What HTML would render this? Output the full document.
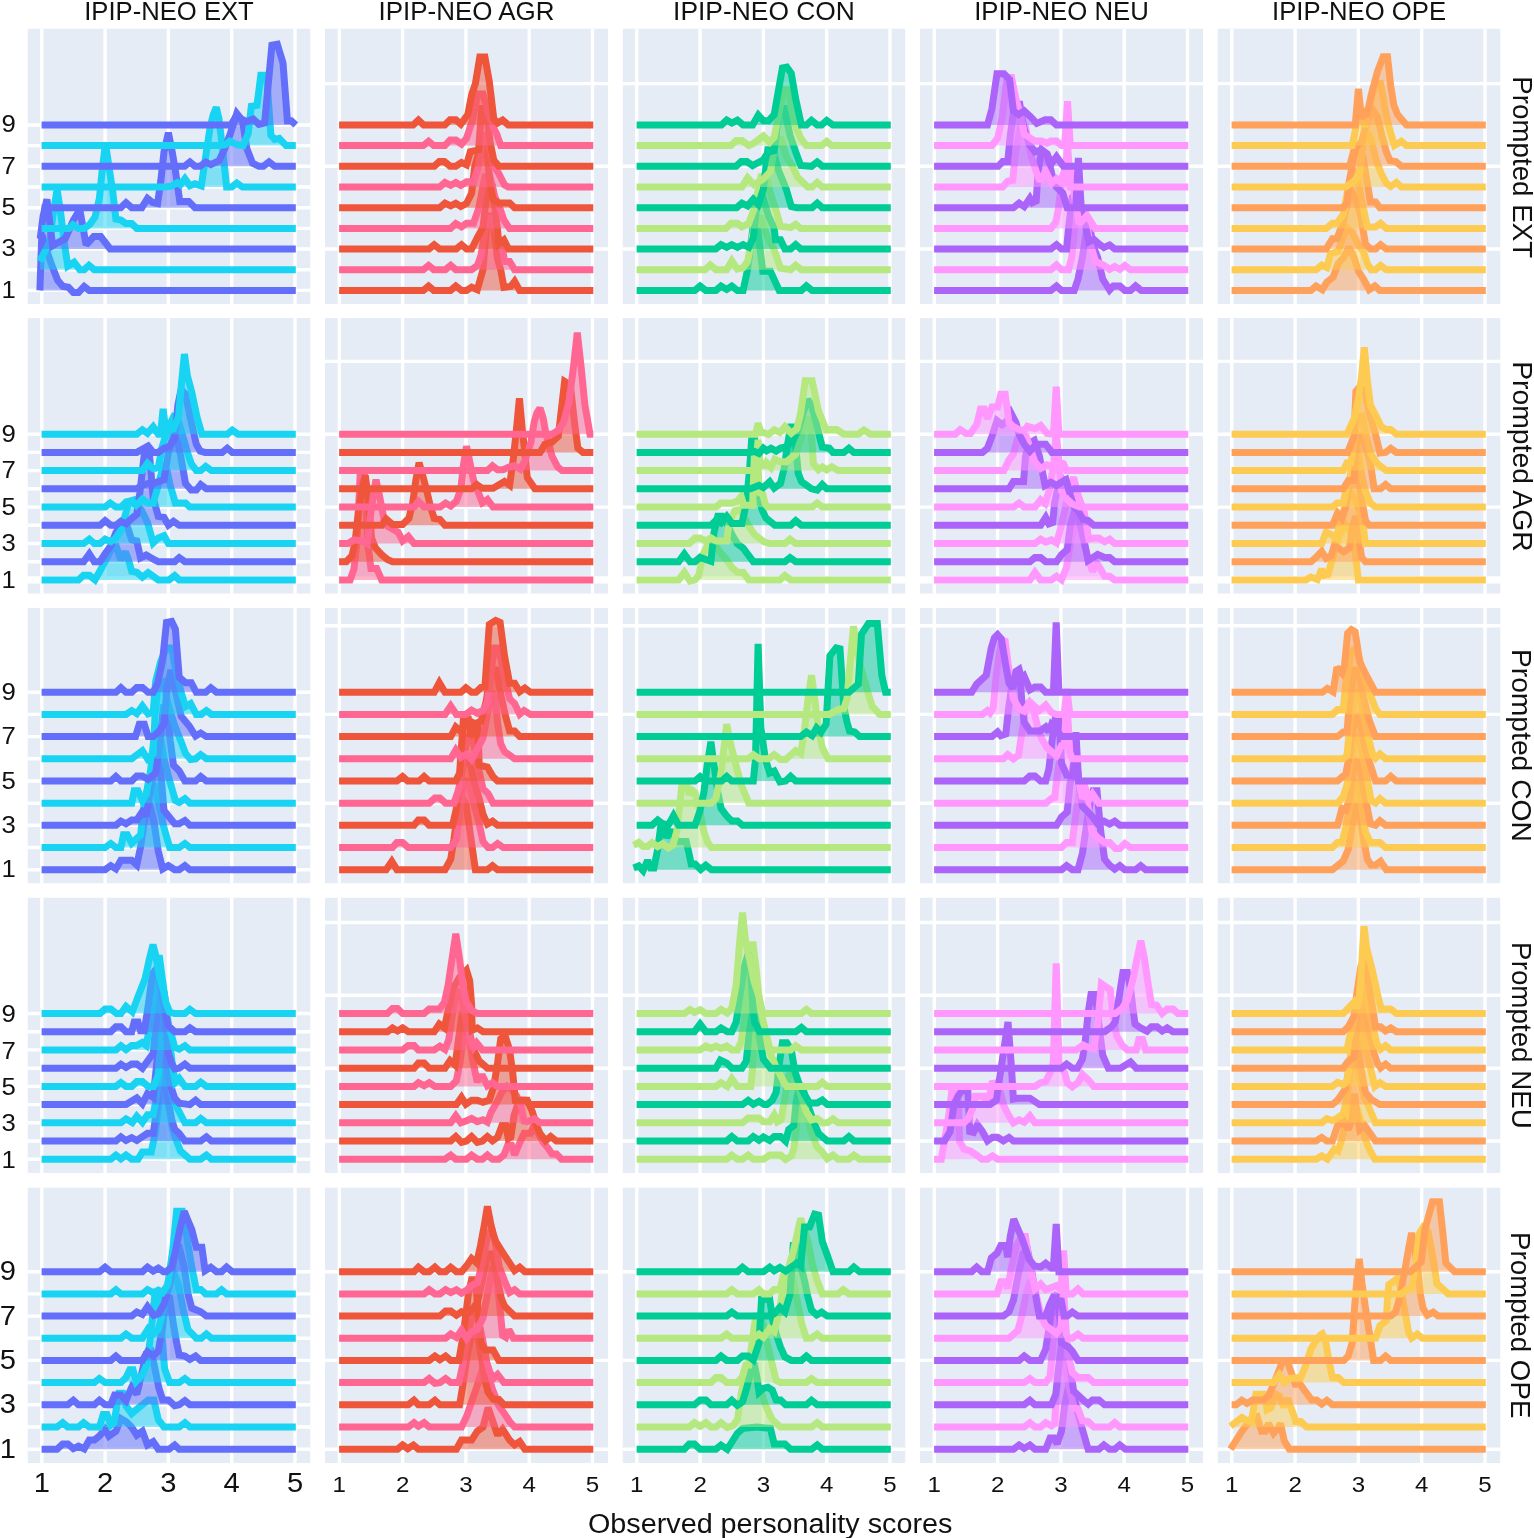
<!DOCTYPE html>
<html lang="en"><head><meta charset="utf-8"><title>Observed personality scores</title>
<style>html,body{margin:0;padding:0;background:#fff}body{width:1534px;height:1538px;overflow:hidden}</style></head>
<body>
<svg width="1534" height="1538" viewBox="0 0 1534 1538" style="display:block">
<rect width="1534" height="1538" fill="#fff"/>
<defs>
<clipPath id="cp00"><rect x="27.5" y="28.4" width="283.0" height="275.6"/></clipPath>
<clipPath id="cp01"><rect x="325.0" y="28.4" width="283.0" height="275.6"/></clipPath>
<clipPath id="cp02"><rect x="622.5" y="28.4" width="283.0" height="275.6"/></clipPath>
<clipPath id="cp03"><rect x="920.0" y="28.4" width="283.0" height="275.6"/></clipPath>
<clipPath id="cp04"><rect x="1217.5" y="28.4" width="283.0" height="275.6"/></clipPath>
<clipPath id="cp10"><rect x="27.5" y="318.1" width="283.0" height="275.6"/></clipPath>
<clipPath id="cp11"><rect x="325.0" y="318.1" width="283.0" height="275.6"/></clipPath>
<clipPath id="cp12"><rect x="622.5" y="318.1" width="283.0" height="275.6"/></clipPath>
<clipPath id="cp13"><rect x="920.0" y="318.1" width="283.0" height="275.6"/></clipPath>
<clipPath id="cp14"><rect x="1217.5" y="318.1" width="283.0" height="275.6"/></clipPath>
<clipPath id="cp20"><rect x="27.5" y="607.9" width="283.0" height="275.6"/></clipPath>
<clipPath id="cp21"><rect x="325.0" y="607.9" width="283.0" height="275.6"/></clipPath>
<clipPath id="cp22"><rect x="622.5" y="607.9" width="283.0" height="275.6"/></clipPath>
<clipPath id="cp23"><rect x="920.0" y="607.9" width="283.0" height="275.6"/></clipPath>
<clipPath id="cp24"><rect x="1217.5" y="607.9" width="283.0" height="275.6"/></clipPath>
<clipPath id="cp30"><rect x="27.5" y="897.6" width="283.0" height="275.6"/></clipPath>
<clipPath id="cp31"><rect x="325.0" y="897.6" width="283.0" height="275.6"/></clipPath>
<clipPath id="cp32"><rect x="622.5" y="897.6" width="283.0" height="275.6"/></clipPath>
<clipPath id="cp33"><rect x="920.0" y="897.6" width="283.0" height="275.6"/></clipPath>
<clipPath id="cp34"><rect x="1217.5" y="897.6" width="283.0" height="275.6"/></clipPath>
<clipPath id="cp40"><rect x="27.5" y="1187.4" width="283.0" height="275.6"/></clipPath>
<clipPath id="cp41"><rect x="325.0" y="1187.4" width="283.0" height="275.6"/></clipPath>
<clipPath id="cp42"><rect x="622.5" y="1187.4" width="283.0" height="275.6"/></clipPath>
<clipPath id="cp43"><rect x="920.0" y="1187.4" width="283.0" height="275.6"/></clipPath>
<clipPath id="cp44"><rect x="1217.5" y="1187.4" width="283.0" height="275.6"/></clipPath>
</defs>
<g clip-path="url(#cp00)">
<rect x="27.5" y="28.4" width="283.0" height="275.6" fill="#E5ECF6"/>
<path d="M41.8 28.4V304.0M105.1 28.4V304.0M168.4 28.4V304.0M231.7 28.4V304.0M295.0 28.4V304.0" stroke="#fff" stroke-width="3.4" fill="none"/>
<path d="M27.5 290.4H310.5M27.5 269.7H310.5M27.5 249.0H310.5M27.5 228.4H310.5M27.5 207.7H310.5M27.5 187.0H310.5M27.5 166.3H310.5M27.5 145.6H310.5M27.5 125.0H310.5" stroke="#fff" stroke-width="3.4" fill="none"/>
<path d="M39.9 290.4L41.8 234.6L46.9 251.1L51.9 265.6L57.6 280.1L62.7 286.3L68.4 287.3L73.4 292.5L78.5 292.5L84.2 286.4L89.3 290.4L295.8 290.4L295.8 290.4L39.9 290.4Z" fill="#636EFA" fill-opacity="0.5"/>
<path d="M39.9 290.4L41.8 234.6L46.9 251.1L51.9 265.6L57.6 280.1L62.7 286.3L68.4 287.3L73.4 292.5L78.5 292.5L84.2 286.4L89.3 290.4L295.8 290.4" fill="none" stroke="#636EFA" stroke-width="7.0" stroke-linejoin="miter" stroke-miterlimit="2.2"/>
<path d="M39.9 261.4L45.0 251.1L49.4 242.8L53.2 213.9L57.1 189.1L60.8 213.9L64.6 244.9L67.8 266.2L74.1 262.2L79.8 269.7L84.2 269.7L89.0 265.4L94.3 269.7L295.8 269.7L295.8 269.7L39.9 269.7Z" fill="#19D3F3" fill-opacity="0.5"/>
<path d="M39.9 261.4L45.0 251.1L49.4 242.8L53.2 213.9L57.1 189.1L60.8 213.9L64.6 244.9L67.8 266.2L74.1 262.2L79.8 269.7L84.2 269.7L89.0 265.4L94.3 269.7L295.8 269.7" fill="none" stroke="#19D3F3" stroke-width="7.0" stroke-linejoin="miter" stroke-miterlimit="2.2"/>
<path d="M40.2 238.7L43.1 216.0L46.9 199.4L50.0 224.2L52.6 245.7L57.6 242.8L65.2 238.7L73.4 220.1L79.8 209.7L86.1 244.9L93.7 236.6L100.7 236.6L110.2 249.0L295.8 249.0L295.8 249.0L40.2 249.0Z" fill="#636EFA" fill-opacity="0.5"/>
<path d="M40.2 238.7L43.1 216.0L46.9 199.4L50.0 224.2L52.6 245.7L57.6 242.8L65.2 238.7L73.4 220.1L79.8 209.7L86.1 244.9L93.7 236.6L100.7 236.6L110.2 249.0L295.8 249.0" fill="none" stroke="#636EFA" stroke-width="7.0" stroke-linejoin="miter" stroke-miterlimit="2.2"/>
<path d="M41.6 228.4L69.0 228.4L72.8 224.7L78.5 228.4L84.2 228.4L89.9 224.2L95.0 217.0L99.4 198.4L102.6 166.3L105.5 143.6L108.9 166.3L112.7 191.1L115.9 219.1L120.9 220.1L126.0 223.6L131.7 223.6L136.8 228.4L295.8 228.4L295.8 228.4L41.6 228.4Z" fill="#19D3F3" fill-opacity="0.5"/>
<path d="M41.6 228.4L69.0 228.4L72.8 224.7L78.5 228.4L84.2 228.4L89.9 224.2L95.0 217.0L99.4 198.4L102.6 166.3L105.5 143.6L108.9 166.3L112.7 191.1L115.9 219.1L120.9 220.1L126.0 223.6L131.7 223.6L136.8 228.4L295.8 228.4" fill="none" stroke="#19D3F3" stroke-width="7.0" stroke-linejoin="miter" stroke-miterlimit="2.2"/>
<path d="M41.6 207.7L120.7 207.7L126.0 202.8L131.7 207.7L141.8 207.7L147.5 198.5L152.6 202.5L157.6 203.5L160.8 180.8L164.0 151.8L168.4 132.8L172.2 151.8L175.4 170.5L179.8 201.5L188.7 201.5L195.0 207.7L295.8 207.7L295.8 207.7L41.6 207.7Z" fill="#636EFA" fill-opacity="0.5"/>
<path d="M41.6 207.7L120.7 207.7L126.0 202.8L131.7 207.7L141.8 207.7L147.5 198.5L152.6 202.5L157.6 203.5L160.8 180.8L164.0 151.8L168.4 132.8L172.2 151.8L175.4 170.5L179.8 201.5L188.7 201.5L195.0 207.7L295.8 207.7" fill="none" stroke="#636EFA" stroke-width="7.0" stroke-linejoin="miter" stroke-miterlimit="2.2"/>
<path d="M41.6 187.0L166.3 187.0L171.6 186.0L177.3 182.7L180.4 184.7L184.9 178.7L189.9 185.8L195.0 183.8L201.3 185.8L206.4 151.8L210.2 127.0L213.3 114.6L216.3 107.4L219.0 118.8L222.2 145.6L226.6 187.0L231.7 187.0L236.8 183.0L242.5 187.0L295.8 187.0L295.8 187.0L41.6 187.0Z" fill="#19D3F3" fill-opacity="0.5"/>
<path d="M41.6 187.0L166.3 187.0L171.6 186.0L177.3 182.7L180.4 184.7L184.9 178.7L189.9 185.8L195.0 183.8L201.3 185.8L206.4 151.8L210.2 127.0L213.3 114.6L216.3 107.4L219.0 118.8L222.2 145.6L226.6 187.0L231.7 187.0L236.8 183.0L242.5 187.0L295.8 187.0" fill="none" stroke="#19D3F3" stroke-width="7.0" stroke-linejoin="miter" stroke-miterlimit="2.2"/>
<path d="M41.6 166.3L184.6 166.3L189.9 162.0L195.0 166.3L200.1 166.3L205.7 162.0L210.8 164.6L219.0 160.7L224.1 150.2L229.8 135.3L236.8 113.6L242.5 120.8L246.9 148.9L252.6 163.2L258.9 166.3L263.3 166.3L269.0 162.0L274.7 166.3L295.8 166.3L295.8 166.3L41.6 166.3Z" fill="#636EFA" fill-opacity="0.5"/>
<path d="M41.6 166.3L184.6 166.3L189.9 162.0L195.0 166.3L200.1 166.3L205.7 162.0L210.8 164.6L219.0 160.7L224.1 150.2L229.8 135.3L236.8 113.6L242.5 120.8L246.9 148.9L252.6 163.2L258.9 166.3L263.3 166.3L269.0 162.0L274.7 166.3L295.8 166.3" fill="none" stroke="#636EFA" stroke-width="7.0" stroke-linejoin="miter" stroke-miterlimit="2.2"/>
<path d="M41.6 145.6L220.1 145.6L225.4 144.6L229.8 141.1L236.8 144.6L243.1 145.6L248.2 133.6L251.3 106.3L257.0 105.3L260.8 75.3L266.5 75.3L270.9 135.3L274.7 139.4L279.2 138.4L286.1 145.6L295.8 145.6L295.8 145.6L41.6 145.6Z" fill="#19D3F3" fill-opacity="0.5"/>
<path d="M41.6 145.6L220.1 145.6L225.4 144.6L229.8 141.1L236.8 144.6L243.1 145.6L248.2 133.6L251.3 106.3L257.0 105.3L260.8 75.3L266.5 75.3L270.9 135.3L274.7 139.4L279.2 138.4L286.1 145.6L295.8 145.6" fill="none" stroke="#19D3F3" stroke-width="7.0" stroke-linejoin="miter" stroke-miterlimit="2.2"/>
<path d="M41.6 125.0L230.9 125.0L236.1 116.2L246.3 121.7L253.2 119.0L258.9 124.3L264.6 122.9L271.9 45.3L277.3 44.3L283.0 62.9L287.4 120.8L291.2 120.8L295.8 125.0L295.8 125.0L41.6 125.0Z" fill="#636EFA" fill-opacity="0.5"/>
<path d="M41.6 125.0L230.9 125.0L236.1 116.2L246.3 121.7L253.2 119.0L258.9 124.3L264.6 122.9L271.9 45.3L277.3 44.3L283.0 62.9L287.4 120.8L291.2 120.8L295.8 125.0" fill="none" stroke="#636EFA" stroke-width="7.0" stroke-linejoin="miter" stroke-miterlimit="2.2"/>
</g>
<g clip-path="url(#cp01)">
<rect x="325.0" y="28.4" width="283.0" height="275.6" fill="#E5ECF6"/>
<path d="M339.3 28.4V304.0M402.6 28.4V304.0M465.9 28.4V304.0M529.2 28.4V304.0M592.5 28.4V304.0" stroke="#fff" stroke-width="3.4" fill="none"/>
<path d="M325.0 249.0H608.0M325.0 166.3H608.0M325.0 83.6H608.0" stroke="#fff" stroke-width="3.4" fill="none"/>
<path d="M339.1 290.4L423.3 290.4L428.6 286.0L433.8 290.4L450.5 290.4L455.8 286.0L461.5 290.4L466.5 290.4L471.6 287.2L477.3 289.7L483.0 269.7L487.4 216.0L492.5 216.0L497.6 259.4L500.7 269.7L503.9 287.3L510.8 286.3L514.6 281.4L519.7 290.4L593.3 290.4L593.3 290.4L339.1 290.4Z" fill="#EF553B" fill-opacity="0.5"/>
<path d="M339.1 290.4L423.3 290.4L428.6 286.0L433.8 290.4L450.5 290.4L455.8 286.0L461.5 290.4L466.5 290.4L471.6 287.2L477.3 289.7L483.0 269.7L487.4 216.0L492.5 216.0L497.6 259.4L500.7 269.7L503.9 287.3L510.8 286.3L514.6 281.4L519.7 290.4L593.3 290.4" fill="none" stroke="#EF553B" stroke-width="7.0" stroke-linejoin="miter" stroke-miterlimit="2.2"/>
<path d="M339.1 269.7L423.3 269.7L428.6 265.4L433.8 269.7L445.4 269.7L450.7 265.4L455.8 269.7L471.6 269.7L477.3 265.6L481.1 255.2L486.8 218.0L492.5 218.0L497.6 236.6L502.6 249.0L504.5 261.4L509.6 261.4L514.6 269.7L593.3 269.7L593.3 269.7L339.1 269.7Z" fill="#FF6692" fill-opacity="0.5"/>
<path d="M339.1 269.7L423.3 269.7L428.6 265.4L433.8 269.7L445.4 269.7L450.7 265.4L455.8 269.7L471.6 269.7L477.3 265.6L481.1 255.2L486.8 218.0L492.5 218.0L497.6 236.6L502.6 249.0L504.5 261.4L509.6 261.4L514.6 269.7L593.3 269.7" fill="none" stroke="#FF6692" stroke-width="7.0" stroke-linejoin="miter" stroke-miterlimit="2.2"/>
<path d="M339.1 249.0L429.0 249.0L434.2 244.7L439.5 249.0L456.2 249.0L461.5 244.7L466.5 249.0L471.6 249.0L477.3 237.7L483.0 227.3L487.4 187.0L492.5 187.0L497.6 230.4L498.8 243.9L503.9 239.8L508.6 249.0L593.3 249.0L593.3 249.0L339.1 249.0Z" fill="#EF553B" fill-opacity="0.5"/>
<path d="M339.1 249.0L429.0 249.0L434.2 244.7L439.5 249.0L456.2 249.0L461.5 244.7L466.5 249.0L471.6 249.0L477.3 237.7L483.0 227.3L487.4 187.0L492.5 187.0L497.6 230.4L498.8 243.9L503.9 239.8L508.6 249.0L593.3 249.0" fill="none" stroke="#EF553B" stroke-width="7.0" stroke-linejoin="miter" stroke-miterlimit="2.2"/>
<path d="M339.1 228.4L450.5 228.4L455.8 223.5L461.5 226.8L466.5 223.2L473.5 223.2L478.6 208.7L484.9 176.7L490.0 176.7L495.0 197.3L500.1 208.7L503.9 220.1L509.6 228.4L593.3 228.4L593.3 228.4L339.1 228.4Z" fill="#FF6692" fill-opacity="0.5"/>
<path d="M339.1 228.4L450.5 228.4L455.8 223.5L461.5 226.8L466.5 223.2L473.5 223.2L478.6 208.7L484.9 176.7L490.0 176.7L495.0 197.3L500.1 208.7L503.9 220.1L509.6 228.4L593.3 228.4" fill="none" stroke="#FF6692" stroke-width="7.0" stroke-linejoin="miter" stroke-miterlimit="2.2"/>
<path d="M339.1 207.7L439.7 207.7L445.0 203.2L450.7 205.9L455.8 203.2L460.8 206.4L466.5 203.5L471.6 193.2L474.8 166.3L481.1 145.6L486.2 145.6L490.0 182.9L493.1 199.4L498.8 202.9L509.6 202.9L514.6 207.7L593.3 207.7L593.3 207.7L339.1 207.7Z" fill="#EF553B" fill-opacity="0.5"/>
<path d="M339.1 207.7L439.7 207.7L445.0 203.2L450.7 205.9L455.8 203.2L460.8 206.4L466.5 203.5L471.6 193.2L474.8 166.3L481.1 145.6L486.2 145.6L490.0 182.9L493.1 199.4L498.8 202.9L509.6 202.9L514.6 207.7L593.3 207.7" fill="none" stroke="#EF553B" stroke-width="7.0" stroke-linejoin="miter" stroke-miterlimit="2.2"/>
<path d="M339.1 187.0L439.7 187.0L445.0 182.5L450.7 185.3L455.8 182.5L460.8 185.4L466.5 181.8L473.5 181.8L478.6 166.3L483.0 135.3L487.4 135.3L493.8 166.3L498.8 173.6L504.5 184.9L508.3 187.0L593.3 187.0L593.3 187.0L339.1 187.0Z" fill="#FF6692" fill-opacity="0.5"/>
<path d="M339.1 187.0L439.7 187.0L445.0 182.5L450.7 185.3L455.8 182.5L460.8 185.4L466.5 181.8L473.5 181.8L478.6 166.3L483.0 135.3L487.4 135.3L493.8 166.3L498.8 173.6L504.5 184.9L508.3 187.0L593.3 187.0" fill="none" stroke="#FF6692" stroke-width="7.0" stroke-linejoin="miter" stroke-miterlimit="2.2"/>
<path d="M339.1 166.3L434.2 166.3L439.3 161.6L444.4 161.6L450.1 166.3L455.8 166.3L461.5 162.6L466.5 164.9L470.3 151.8L478.6 149.8L481.7 108.4L486.2 108.4L490.0 141.5L493.8 160.1L498.8 166.3L593.3 166.3L593.3 166.3L339.1 166.3Z" fill="#EF553B" fill-opacity="0.5"/>
<path d="M339.1 166.3L434.2 166.3L439.3 161.6L444.4 161.6L450.1 166.3L455.8 166.3L461.5 162.6L466.5 164.9L470.3 151.8L478.6 149.8L481.7 108.4L486.2 108.4L490.0 141.5L493.8 160.1L498.8 166.3L593.3 166.3" fill="none" stroke="#EF553B" stroke-width="7.0" stroke-linejoin="miter" stroke-miterlimit="2.2"/>
<path d="M339.1 145.6L423.3 145.6L428.6 141.3L433.8 145.6L444.8 145.6L450.1 140.1L455.8 140.1L461.5 144.0L466.5 138.4L472.2 120.8L477.9 93.9L483.0 93.9L488.1 112.6L493.1 127.0L496.9 134.3L500.7 145.6L593.3 145.6L593.3 145.6L339.1 145.6Z" fill="#FF6692" fill-opacity="0.5"/>
<path d="M339.1 145.6L423.3 145.6L428.6 141.3L433.8 145.6L444.8 145.6L450.1 140.1L455.8 140.1L461.5 144.0L466.5 138.4L472.2 120.8L477.9 93.9L483.0 93.9L488.1 112.6L493.1 127.0L496.9 134.3L500.7 145.6L593.3 145.6" fill="none" stroke="#FF6692" stroke-width="7.0" stroke-linejoin="miter" stroke-miterlimit="2.2"/>
<path d="M339.1 125.0L413.1 125.0L418.4 120.1L423.7 125.0L444.8 125.0L450.1 119.8L455.8 119.8L460.8 124.1L467.8 114.6L471.6 95.0L475.4 83.6L479.8 57.1L484.9 57.1L489.3 81.5L493.8 118.8L497.6 123.1L502.6 120.1L508.3 125.0L593.3 125.0L593.3 125.0L339.1 125.0Z" fill="#EF553B" fill-opacity="0.5"/>
<path d="M339.1 125.0L413.1 125.0L418.4 120.1L423.7 125.0L444.8 125.0L450.1 119.8L455.8 119.8L460.8 124.1L467.8 114.6L471.6 95.0L475.4 83.6L479.8 57.1L484.9 57.1L489.3 81.5L493.8 118.8L497.6 123.1L502.6 120.1L508.3 125.0L593.3 125.0" fill="none" stroke="#EF553B" stroke-width="7.0" stroke-linejoin="miter" stroke-miterlimit="2.2"/>
</g>
<g clip-path="url(#cp02)">
<rect x="622.5" y="28.4" width="283.0" height="275.6" fill="#E5ECF6"/>
<path d="M636.8 28.4V304.0M700.1 28.4V304.0M763.4 28.4V304.0M826.7 28.4V304.0M890.0 28.4V304.0" stroke="#fff" stroke-width="3.4" fill="none"/>
<path d="M622.5 249.0H905.5M622.5 166.3H905.5M622.5 83.6H905.5" stroke="#fff" stroke-width="3.4" fill="none"/>
<path d="M636.6 290.4L694.8 290.4L700.1 285.9L705.8 290.4L715.9 290.4L721.0 286.0L726.7 289.4L731.8 286.0L737.4 290.4L743.1 290.4L747.6 269.7L752.6 230.4L757.7 230.4L762.8 271.2L770.4 271.2L779.2 290.4L801.4 290.4L806.4 285.9L812.1 290.4L890.8 290.4L890.8 290.4L636.6 290.4Z" fill="#00CC96" fill-opacity="0.5"/>
<path d="M636.6 290.4L694.8 290.4L700.1 285.9L705.8 290.4L715.9 290.4L721.0 286.0L726.7 289.4L731.8 286.0L737.4 290.4L743.1 290.4L747.6 269.7L752.6 230.4L757.7 230.4L762.8 271.2L770.4 271.2L779.2 290.4L801.4 290.4L806.4 285.9L812.1 290.4L890.8 290.4" fill="none" stroke="#00CC96" stroke-width="7.0" stroke-linejoin="miter" stroke-miterlimit="2.2"/>
<path d="M636.6 269.7L705.0 269.7L710.2 264.9L715.9 269.7L726.7 269.7L731.8 260.8L737.4 269.1L743.1 267.7L747.6 261.4L752.0 238.7L755.8 218.0L760.9 218.0L767.2 236.6L774.2 249.7L780.5 268.1L790.6 269.7L795.7 265.2L801.4 269.7L890.8 269.7L890.8 269.7L636.6 269.7Z" fill="#B6E880" fill-opacity="0.5"/>
<path d="M636.6 269.7L705.0 269.7L710.2 264.9L715.9 269.7L726.7 269.7L731.8 260.8L737.4 269.1L743.1 267.7L747.6 261.4L752.0 238.7L755.8 218.0L760.9 218.0L767.2 236.6L774.2 249.7L780.5 268.1L790.6 269.7L795.7 265.2L801.4 269.7L890.8 269.7" fill="none" stroke="#B6E880" stroke-width="7.0" stroke-linejoin="miter" stroke-miterlimit="2.2"/>
<path d="M636.6 249.0L715.7 249.0L721.0 244.7L726.7 247.4L731.8 244.7L737.4 247.4L743.1 244.7L748.8 247.4L753.3 237.9L757.7 197.3L762.8 197.3L768.5 216.0L774.2 228.4L775.4 239.7L780.5 239.7L784.9 249.0L790.6 249.0L795.7 244.7L800.7 249.0L890.8 249.0L890.8 249.0L636.6 249.0Z" fill="#00CC96" fill-opacity="0.5"/>
<path d="M636.6 249.0L715.7 249.0L721.0 244.7L726.7 247.4L731.8 244.7L737.4 247.4L743.1 244.7L748.8 247.4L753.3 237.9L757.7 197.3L762.8 197.3L768.5 216.0L774.2 228.4L775.4 239.7L780.5 239.7L784.9 249.0L790.6 249.0L795.7 244.7L800.7 249.0L890.8 249.0" fill="none" stroke="#00CC96" stroke-width="7.0" stroke-linejoin="miter" stroke-miterlimit="2.2"/>
<path d="M636.6 228.4L725.8 228.4L731.1 223.2L737.4 223.2L741.9 226.8L748.8 223.2L754.5 207.7L760.9 176.7L765.9 176.7L771.0 195.3L776.1 210.6L780.5 226.3L790.6 227.7L795.7 224.3L800.7 228.4L890.8 228.4L890.8 228.4L636.6 228.4Z" fill="#B6E880" fill-opacity="0.5"/>
<path d="M636.6 228.4L725.8 228.4L731.1 223.2L737.4 223.2L741.9 226.8L748.8 223.2L754.5 207.7L760.9 176.7L765.9 176.7L771.0 195.3L776.1 210.6L780.5 226.3L790.6 227.7L795.7 224.3L800.7 228.4L890.8 228.4" fill="none" stroke="#B6E880" stroke-width="7.0" stroke-linejoin="miter" stroke-miterlimit="2.2"/>
<path d="M636.6 207.7L736.6 207.7L741.9 203.2L747.6 205.9L753.3 199.3L758.3 204.5L763.4 189.1L767.8 149.8L772.9 149.8L778.6 170.5L786.2 189.1L791.3 206.6L796.5 207.7L812.1 207.7L817.2 203.2L822.3 207.7L890.8 207.7L890.8 207.7L636.6 207.7Z" fill="#00CC96" fill-opacity="0.5"/>
<path d="M636.6 207.7L736.6 207.7L741.9 203.2L747.6 205.9L753.3 199.3L758.3 204.5L763.4 189.1L767.8 149.8L772.9 149.8L778.6 170.5L786.2 189.1L791.3 206.6L796.5 207.7L812.1 207.7L817.2 203.2L822.3 207.7L890.8 207.7" fill="none" stroke="#00CC96" stroke-width="7.0" stroke-linejoin="miter" stroke-miterlimit="2.2"/>
<path d="M636.6 187.0L741.9 187.0L747.6 177.8L753.9 184.6L763.4 179.1L770.4 171.5L776.1 139.4L781.1 139.4L786.8 158.0L792.5 166.3L797.6 177.3L807.7 187.0L812.1 187.0L817.2 182.5L822.3 187.0L890.8 187.0L890.8 187.0L636.6 187.0Z" fill="#B6E880" fill-opacity="0.5"/>
<path d="M636.6 187.0L741.9 187.0L747.6 177.8L753.9 184.6L763.4 179.1L770.4 171.5L776.1 139.4L781.1 139.4L786.8 158.0L792.5 166.3L797.6 177.3L807.7 187.0L812.1 187.0L817.2 182.5L822.3 187.0L890.8 187.0" fill="none" stroke="#B6E880" stroke-width="7.0" stroke-linejoin="miter" stroke-miterlimit="2.2"/>
<path d="M636.6 166.3L736.0 166.3L741.2 161.6L746.9 161.6L752.6 165.6L763.4 159.7L768.5 151.8L774.2 150.8L779.2 108.4L784.3 108.4L790.0 135.3L795.7 151.8L800.7 165.5L811.5 166.3L817.2 162.0L822.3 166.3L890.8 166.3L890.8 166.3L636.6 166.3Z" fill="#00CC96" fill-opacity="0.5"/>
<path d="M636.6 166.3L736.0 166.3L741.2 161.6L746.9 161.6L752.6 165.6L763.4 159.7L768.5 151.8L774.2 150.8L779.2 108.4L784.3 108.4L790.0 135.3L795.7 151.8L800.7 165.5L811.5 166.3L817.2 162.0L822.3 166.3L890.8 166.3" fill="none" stroke="#00CC96" stroke-width="7.0" stroke-linejoin="miter" stroke-miterlimit="2.2"/>
<path d="M636.6 145.6L730.9 145.6L736.2 140.5L741.9 140.5L748.8 145.6L752.6 144.0L763.4 135.9L769.7 142.1L774.2 137.4L778.6 114.6L783.7 89.8L788.7 89.8L792.5 112.6L795.7 126.4L800.7 138.2L806.4 145.6L821.6 145.6L826.7 141.3L831.8 145.6L890.8 145.6L890.8 145.6L636.6 145.6Z" fill="#B6E880" fill-opacity="0.5"/>
<path d="M636.6 145.6L730.9 145.6L736.2 140.5L741.9 140.5L748.8 145.6L752.6 144.0L763.4 135.9L769.7 142.1L774.2 137.4L778.6 114.6L783.7 89.8L788.7 89.8L792.5 112.6L795.7 126.4L800.7 138.2L806.4 145.6L821.6 145.6L826.7 141.3L831.8 145.6L890.8 145.6" fill="none" stroke="#B6E880" stroke-width="7.0" stroke-linejoin="miter" stroke-miterlimit="2.2"/>
<path d="M636.6 125.0L721.4 125.0L726.7 120.1L731.8 123.1L737.4 120.1L743.1 125.0L752.6 125.0L758.3 115.2L763.4 120.8L768.5 120.8L774.2 114.6L782.4 67.9L786.8 67.1L791.3 73.3L795.7 99.1L801.4 125.0L806.4 125.0L811.5 120.4L817.2 125.0L821.6 125.0L826.7 120.4L833.0 125.0L890.8 125.0L890.8 125.0L636.6 125.0Z" fill="#00CC96" fill-opacity="0.5"/>
<path d="M636.6 125.0L721.4 125.0L726.7 120.1L731.8 123.1L737.4 120.1L743.1 125.0L752.6 125.0L758.3 115.2L763.4 120.8L768.5 120.8L774.2 114.6L782.4 67.9L786.8 67.1L791.3 73.3L795.7 99.1L801.4 125.0L806.4 125.0L811.5 120.4L817.2 125.0L821.6 125.0L826.7 120.4L833.0 125.0L890.8 125.0" fill="none" stroke="#00CC96" stroke-width="7.0" stroke-linejoin="miter" stroke-miterlimit="2.2"/>
</g>
<g clip-path="url(#cp03)">
<rect x="920.0" y="28.4" width="283.0" height="275.6" fill="#E5ECF6"/>
<path d="M934.3 28.4V304.0M997.6 28.4V304.0M1060.9 28.4V304.0M1124.2 28.4V304.0M1187.5 28.4V304.0" stroke="#fff" stroke-width="3.4" fill="none"/>
<path d="M920.0 249.0H1203.0M920.0 166.3H1203.0M920.0 83.6H1203.0" stroke="#fff" stroke-width="3.4" fill="none"/>
<path d="M934.1 290.4L1050.8 290.4L1056.5 286.0L1061.5 290.4L1074.2 290.4L1078.0 279.0L1082.4 257.3L1086.2 232.5L1090.7 232.5L1094.4 249.0L1097.6 257.3L1102.7 279.0L1109.6 290.0L1113.4 285.9L1119.8 285.9L1124.8 290.4L1130.5 290.4L1135.6 285.9L1141.3 290.4L1188.3 290.4L1188.3 290.4L934.1 290.4Z" fill="#AB63FA" fill-opacity="0.5"/>
<path d="M934.1 290.4L1050.8 290.4L1056.5 286.0L1061.5 290.4L1074.2 290.4L1078.0 279.0L1082.4 257.3L1086.2 232.5L1090.7 232.5L1094.4 249.0L1097.6 257.3L1102.7 279.0L1109.6 290.0L1113.4 285.9L1119.8 285.9L1124.8 290.4L1130.5 290.4L1135.6 285.9L1141.3 290.4L1188.3 290.4" fill="none" stroke="#AB63FA" stroke-width="7.0" stroke-linejoin="miter" stroke-miterlimit="2.2"/>
<path d="M934.1 269.7L1050.8 269.7L1056.5 265.0L1061.5 269.7L1068.5 269.7L1071.7 257.3L1074.8 228.4L1079.9 207.7L1085.0 211.8L1088.8 236.6L1091.9 249.7L1095.7 261.4L1103.9 265.2L1109.6 269.4L1114.7 266.5L1119.8 269.4L1124.8 265.5L1130.5 269.7L1188.3 269.7L1188.3 269.7L934.1 269.7Z" fill="#FF97FF" fill-opacity="0.5"/>
<path d="M934.1 269.7L1050.8 269.7L1056.5 265.0L1061.5 269.7L1068.5 269.7L1071.7 257.3L1074.8 228.4L1079.9 207.7L1085.0 211.8L1088.8 236.6L1091.9 249.7L1095.7 261.4L1103.9 265.2L1109.6 269.4L1114.7 266.5L1119.8 269.4L1124.8 265.5L1130.5 269.7L1188.3 269.7" fill="none" stroke="#FF97FF" stroke-width="7.0" stroke-linejoin="miter" stroke-miterlimit="2.2"/>
<path d="M934.1 249.0L1050.8 249.0L1056.5 244.8L1061.5 249.0L1066.6 249.0L1068.5 228.4L1072.3 197.3L1077.4 193.2L1081.2 207.7L1084.3 220.1L1088.8 241.8L1093.8 239.4L1098.9 243.9L1103.9 247.5L1109.6 245.0L1114.7 249.0L1188.3 249.0L1188.3 249.0L934.1 249.0Z" fill="#AB63FA" fill-opacity="0.5"/>
<path d="M934.1 249.0L1050.8 249.0L1056.5 244.8L1061.5 249.0L1066.6 249.0L1068.5 228.4L1072.3 197.3L1077.4 193.2L1081.2 207.7L1084.3 220.1L1088.8 241.8L1093.8 239.4L1098.9 243.9L1103.9 247.5L1109.6 245.0L1114.7 249.0L1188.3 249.0" fill="none" stroke="#AB63FA" stroke-width="7.0" stroke-linejoin="miter" stroke-miterlimit="2.2"/>
<path d="M934.1 228.4L1050.8 228.4L1055.8 222.2L1058.4 208.7L1062.2 176.7L1067.2 162.2L1071.7 174.6L1075.5 203.5L1079.3 224.2L1082.4 220.3L1086.9 215.4L1088.8 218.4L1095.1 228.4L1188.3 228.4L1188.3 228.4L934.1 228.4Z" fill="#FF97FF" fill-opacity="0.5"/>
<path d="M934.1 228.4L1050.8 228.4L1055.8 222.2L1058.4 208.7L1062.2 176.7L1067.2 162.2L1071.7 174.6L1075.5 203.5L1079.3 224.2L1082.4 220.3L1086.9 215.4L1088.8 218.4L1095.1 228.4L1188.3 228.4" fill="none" stroke="#FF97FF" stroke-width="7.0" stroke-linejoin="miter" stroke-miterlimit="2.2"/>
<path d="M934.1 207.7L1013.4 207.7L1019.1 203.2L1024.2 206.7L1029.9 198.2L1032.4 202.7L1036.2 200.9L1038.1 170.5L1041.9 149.8L1047.0 153.9L1052.0 174.6L1056.5 187.0L1062.8 193.2L1067.2 207.7L1075.7 207.7L1078.4 158.0L1081.2 207.7L1188.3 207.7L1188.3 207.7L934.1 207.7Z" fill="#AB63FA" fill-opacity="0.5"/>
<path d="M934.1 207.7L1013.4 207.7L1019.1 203.2L1024.2 206.7L1029.9 198.2L1032.4 202.7L1036.2 200.9L1038.1 170.5L1041.9 149.8L1047.0 153.9L1052.0 174.6L1056.5 187.0L1062.8 193.2L1067.2 207.7L1075.7 207.7L1078.4 158.0L1081.2 207.7L1188.3 207.7" fill="none" stroke="#AB63FA" stroke-width="7.0" stroke-linejoin="miter" stroke-miterlimit="2.2"/>
<path d="M934.1 187.0L1002.7 187.0L1007.7 181.2L1012.8 180.2L1015.3 153.9L1020.4 127.0L1025.5 127.0L1031.1 156.0L1036.8 173.4L1040.0 181.2L1045.7 171.3L1051.4 183.1L1056.5 178.6L1061.5 183.1L1064.7 183.1L1067.5 143.6L1070.3 187.0L1188.3 187.0L1188.3 187.0L934.1 187.0Z" fill="#FF97FF" fill-opacity="0.5"/>
<path d="M934.1 187.0L1002.7 187.0L1007.7 181.2L1012.8 180.2L1015.3 153.9L1020.4 127.0L1025.5 127.0L1031.1 156.0L1036.8 173.4L1040.0 181.2L1045.7 171.3L1051.4 183.1L1056.5 178.6L1061.5 183.1L1064.7 183.1L1067.5 143.6L1070.3 187.0L1188.3 187.0" fill="none" stroke="#FF97FF" stroke-width="7.0" stroke-linejoin="miter" stroke-miterlimit="2.2"/>
<path d="M934.1 166.3L998.2 166.3L1002.7 161.6L1007.7 161.6L1010.3 135.3L1014.7 104.3L1019.8 104.3L1024.2 129.1L1029.2 144.0L1034.9 151.8L1041.3 149.8L1047.0 153.9L1051.4 163.6L1056.5 156.7L1061.5 163.6L1063.4 166.3L1188.3 166.3L1188.3 166.3L934.1 166.3Z" fill="#AB63FA" fill-opacity="0.5"/>
<path d="M934.1 166.3L998.2 166.3L1002.7 161.6L1007.7 161.6L1010.3 135.3L1014.7 104.3L1019.8 104.3L1024.2 129.1L1029.2 144.0L1034.9 151.8L1041.3 149.8L1047.0 153.9L1051.4 163.6L1056.5 156.7L1061.5 163.6L1063.4 166.3L1188.3 166.3" fill="none" stroke="#AB63FA" stroke-width="7.0" stroke-linejoin="miter" stroke-miterlimit="2.2"/>
<path d="M934.1 145.6L991.9 145.6L997.6 138.2L1002.0 118.8L1007.1 77.4L1011.5 77.4L1016.0 99.1L1021.7 118.8L1024.2 134.3L1029.2 137.4L1034.9 141.1L1041.3 141.1L1047.0 143.1L1050.8 141.1L1056.5 141.1L1061.5 145.6L1064.7 145.6L1067.5 101.2L1070.3 145.6L1188.3 145.6L1188.3 145.6L934.1 145.6Z" fill="#FF97FF" fill-opacity="0.5"/>
<path d="M934.1 145.6L991.9 145.6L997.6 138.2L1002.0 118.8L1007.1 77.4L1011.5 77.4L1016.0 99.1L1021.7 118.8L1024.2 134.3L1029.2 137.4L1034.9 141.1L1041.3 141.1L1047.0 143.1L1050.8 141.1L1056.5 141.1L1061.5 145.6L1064.7 145.6L1067.5 101.2L1070.3 145.6L1188.3 145.6" fill="none" stroke="#FF97FF" stroke-width="7.0" stroke-linejoin="miter" stroke-miterlimit="2.2"/>
<path d="M934.1 125.0L987.5 125.0L991.9 108.8L997.0 73.7L1003.9 73.7L1009.6 79.5L1013.4 110.9L1018.5 114.6L1024.2 110.9L1030.5 116.7L1036.8 123.4L1045.1 119.8L1050.8 119.8L1056.5 125.0L1188.3 125.0L1188.3 125.0L934.1 125.0Z" fill="#AB63FA" fill-opacity="0.5"/>
<path d="M934.1 125.0L987.5 125.0L991.9 108.8L997.0 73.7L1003.9 73.7L1009.6 79.5L1013.4 110.9L1018.5 114.6L1024.2 110.9L1030.5 116.7L1036.8 123.4L1045.1 119.8L1050.8 119.8L1056.5 125.0L1188.3 125.0" fill="none" stroke="#AB63FA" stroke-width="7.0" stroke-linejoin="miter" stroke-miterlimit="2.2"/>
</g>
<g clip-path="url(#cp04)">
<rect x="1217.5" y="28.4" width="283.0" height="275.6" fill="#E5ECF6"/>
<path d="M1231.8 28.4V304.0M1295.1 28.4V304.0M1358.4 28.4V304.0M1421.7 28.4V304.0M1485.0 28.4V304.0" stroke="#fff" stroke-width="3.4" fill="none"/>
<path d="M1217.5 249.0H1500.5M1217.5 166.3H1500.5M1217.5 83.6H1500.5" stroke="#fff" stroke-width="3.4" fill="none"/>
<path d="M1231.6 290.4L1310.9 290.4L1316.0 286.0L1322.3 289.7L1326.8 282.1L1333.1 277.2L1338.1 263.5L1343.8 257.3L1348.9 247.0L1354.0 257.3L1358.4 271.2L1363.5 279.0L1369.2 289.7L1374.9 286.0L1379.9 290.4L1485.8 290.4L1485.8 290.4L1231.6 290.4Z" fill="#FFA15A" fill-opacity="0.5"/>
<path d="M1231.6 290.4L1310.9 290.4L1316.0 286.0L1322.3 289.7L1326.8 282.1L1333.1 277.2L1338.1 263.5L1343.8 257.3L1348.9 247.0L1354.0 257.3L1358.4 271.2L1363.5 279.0L1369.2 289.7L1374.9 286.0L1379.9 290.4L1485.8 290.4" fill="none" stroke="#FFA15A" stroke-width="7.0" stroke-linejoin="miter" stroke-miterlimit="2.2"/>
<path d="M1231.6 269.7L1316.0 269.7L1321.7 265.2L1326.8 267.6L1330.5 253.6L1338.1 251.5L1342.6 238.7L1347.0 228.4L1352.1 232.5L1358.4 244.9L1363.5 251.5L1367.3 263.3L1371.1 269.7L1375.5 269.7L1380.6 265.4L1386.3 269.7L1485.8 269.7L1485.8 269.7L1231.6 269.7Z" fill="#FECB52" fill-opacity="0.5"/>
<path d="M1231.6 269.7L1316.0 269.7L1321.7 265.2L1326.8 267.6L1330.5 253.6L1338.1 251.5L1342.6 238.7L1347.0 228.4L1352.1 232.5L1358.4 244.9L1363.5 251.5L1367.3 263.3L1371.1 269.7L1375.5 269.7L1380.6 265.4L1386.3 269.7L1485.8 269.7" fill="none" stroke="#FECB52" stroke-width="7.0" stroke-linejoin="miter" stroke-miterlimit="2.2"/>
<path d="M1231.6 249.0L1326.1 249.0L1332.4 238.7L1336.9 238.7L1343.2 222.2L1348.3 199.4L1352.7 193.2L1357.1 201.5L1360.9 218.0L1363.5 232.1L1365.4 243.9L1370.4 249.0L1375.5 249.0L1380.6 244.7L1386.3 249.0L1485.8 249.0L1485.8 249.0L1231.6 249.0Z" fill="#FFA15A" fill-opacity="0.5"/>
<path d="M1231.6 249.0L1326.1 249.0L1332.4 238.7L1336.9 238.7L1343.2 222.2L1348.3 199.4L1352.7 193.2L1357.1 201.5L1360.9 218.0L1363.5 232.1L1365.4 243.9L1370.4 249.0L1375.5 249.0L1380.6 244.7L1386.3 249.0L1485.8 249.0" fill="none" stroke="#FFA15A" stroke-width="7.0" stroke-linejoin="miter" stroke-miterlimit="2.2"/>
<path d="M1231.6 228.4L1326.1 228.4L1332.4 223.2L1336.9 223.2L1343.2 214.5L1347.6 191.1L1352.7 170.5L1357.1 174.6L1360.9 195.3L1363.5 208.7L1367.3 227.1L1375.5 227.1L1380.6 223.2L1386.3 228.4L1485.8 228.4L1485.8 228.4L1231.6 228.4Z" fill="#FECB52" fill-opacity="0.5"/>
<path d="M1231.6 228.4L1326.1 228.4L1332.4 223.2L1336.9 223.2L1343.2 214.5L1347.6 191.1L1352.7 170.5L1357.1 174.6L1360.9 195.3L1363.5 208.7L1367.3 227.1L1375.5 227.1L1380.6 223.2L1386.3 228.4L1485.8 228.4" fill="none" stroke="#FECB52" stroke-width="7.0" stroke-linejoin="miter" stroke-miterlimit="2.2"/>
<path d="M1231.6 207.7L1343.2 207.7L1347.0 202.7L1348.9 182.9L1354.0 156.0L1358.4 145.6L1362.8 156.0L1367.3 182.9L1370.4 201.9L1375.5 201.9L1379.9 207.7L1485.8 207.7L1485.8 207.7L1231.6 207.7Z" fill="#FFA15A" fill-opacity="0.5"/>
<path d="M1231.6 207.7L1343.2 207.7L1347.0 202.7L1348.9 182.9L1354.0 156.0L1358.4 145.6L1362.8 156.0L1367.3 182.9L1370.4 201.9L1375.5 201.9L1379.9 207.7L1485.8 207.7" fill="none" stroke="#FFA15A" stroke-width="7.0" stroke-linejoin="miter" stroke-miterlimit="2.2"/>
<path d="M1231.6 187.0L1345.7 187.0L1354.0 181.2L1359.7 173.4L1362.8 145.6L1366.6 131.2L1371.1 139.4L1376.1 160.1L1381.2 173.4L1386.3 183.1L1390.7 186.5L1396.4 182.5L1401.4 187.0L1485.8 187.0L1485.8 187.0L1231.6 187.0Z" fill="#FECB52" fill-opacity="0.5"/>
<path d="M1231.6 187.0L1345.7 187.0L1354.0 181.2L1359.7 173.4L1362.8 145.6L1366.6 131.2L1371.1 139.4L1376.1 160.1L1381.2 173.4L1386.3 183.1L1390.7 186.5L1396.4 182.5L1401.4 187.0L1485.8 187.0" fill="none" stroke="#FECB52" stroke-width="7.0" stroke-linejoin="miter" stroke-miterlimit="2.2"/>
<path d="M1231.6 166.3L1349.5 166.3L1354.0 149.8L1361.6 141.5L1367.9 118.8L1373.0 110.5L1377.4 116.7L1381.8 135.3L1386.3 151.8L1390.0 160.7L1395.7 161.6L1401.4 166.3L1485.8 166.3L1485.8 166.3L1231.6 166.3Z" fill="#FFA15A" fill-opacity="0.5"/>
<path d="M1231.6 166.3L1349.5 166.3L1354.0 149.8L1361.6 141.5L1367.9 118.8L1373.0 110.5L1377.4 116.7L1381.8 135.3L1386.3 151.8L1390.0 160.7L1395.7 161.6L1401.4 166.3L1485.8 166.3" fill="none" stroke="#FFA15A" stroke-width="7.0" stroke-linejoin="miter" stroke-miterlimit="2.2"/>
<path d="M1231.6 145.6L1352.1 145.6L1354.6 134.3L1358.4 112.6L1361.6 112.6L1364.7 127.0L1369.8 104.3L1375.5 83.6L1380.6 83.6L1385.0 108.4L1388.8 126.4L1394.5 145.4L1401.4 141.3L1406.5 145.6L1485.8 145.6L1485.8 145.6L1231.6 145.6Z" fill="#FECB52" fill-opacity="0.5"/>
<path d="M1231.6 145.6L1352.1 145.6L1354.6 134.3L1358.4 112.6L1361.6 112.6L1364.7 127.0L1369.8 104.3L1375.5 83.6L1380.6 83.6L1385.0 108.4L1388.8 126.4L1394.5 145.4L1401.4 141.3L1406.5 145.6L1485.8 145.6" fill="none" stroke="#FECB52" stroke-width="7.0" stroke-linejoin="miter" stroke-miterlimit="2.2"/>
<path d="M1231.6 125.0L1355.2 125.0L1358.4 88.8L1361.6 118.8L1364.7 108.4L1366.6 116.7L1371.1 95.2L1377.4 71.8L1383.1 56.7L1387.5 56.7L1390.7 85.7L1393.8 105.1L1397.6 114.6L1406.5 125.0L1485.8 125.0L1485.8 125.0L1231.6 125.0Z" fill="#FFA15A" fill-opacity="0.5"/>
<path d="M1231.6 125.0L1355.2 125.0L1358.4 88.8L1361.6 118.8L1364.7 108.4L1366.6 116.7L1371.1 95.2L1377.4 71.8L1383.1 56.7L1387.5 56.7L1390.7 85.7L1393.8 105.1L1397.6 114.6L1406.5 125.0L1485.8 125.0" fill="none" stroke="#FFA15A" stroke-width="7.0" stroke-linejoin="miter" stroke-miterlimit="2.2"/>
</g>
<g clip-path="url(#cp10)">
<rect x="27.5" y="318.1" width="283.0" height="275.6" fill="#E5ECF6"/>
<path d="M41.8 318.1V593.8M105.1 318.1V593.8M168.4 318.1V593.8M231.7 318.1V593.8M295.0 318.1V593.8" stroke="#fff" stroke-width="3.4" fill="none"/>
<path d="M27.5 579.9H310.5M27.5 561.7H310.5M27.5 543.5H310.5M27.5 525.3H310.5M27.5 507.1H310.5M27.5 488.8H310.5M27.5 470.6H310.5M27.5 452.4H310.5M27.5 434.2H310.5" stroke="#fff" stroke-width="3.4" fill="none"/>
<path d="M27.5 579.9H310.5" stroke="#fff" stroke-width="7.2" fill="none"/>
<path d="M41.6 579.9L78.5 579.9L83.6 575.2L89.3 575.2L95.0 579.8L105.1 561.7L110.8 549.9L116.5 547.1L120.9 559.9L125.4 551.7L128.5 559.9L131.7 571.3L136.8 572.3L142.4 577.2L148.1 572.6L158.3 579.9L169.0 579.9L174.7 575.6L179.2 579.9L295.8 579.9L295.8 579.9L41.6 579.9Z" fill="#19D3F3" fill-opacity="0.5"/>
<path d="M41.6 579.9L78.5 579.9L83.6 575.2L89.3 575.2L95.0 579.8L105.1 561.7L110.8 549.9L116.5 547.1L120.9 559.9L125.4 551.7L128.5 559.9L131.7 571.3L136.8 572.3L142.4 577.2L148.1 572.6L158.3 579.9L169.0 579.9L174.7 575.6L179.2 579.9L295.8 579.9" fill="none" stroke="#19D3F3" stroke-width="7.0" stroke-linejoin="miter" stroke-miterlimit="2.2"/>
<path d="M41.6 561.7L83.6 561.7L89.3 553.9L94.3 561.7L100.0 561.7L105.1 553.7L110.8 545.8L115.9 532.6L120.9 524.4L126.0 522.5L131.7 539.8L136.8 540.9L140.5 557.8L146.2 555.0L153.8 559.5L158.3 561.7L174.7 561.7L179.2 557.7L184.9 561.7L295.8 561.7L295.8 561.7L41.6 561.7Z" fill="#636EFA" fill-opacity="0.5"/>
<path d="M41.6 561.7L83.6 561.7L89.3 553.9L94.3 561.7L100.0 561.7L105.1 553.7L110.8 545.8L115.9 532.6L120.9 524.4L126.0 522.5L131.7 539.8L136.8 540.9L140.5 557.8L146.2 555.0L153.8 559.5L158.3 561.7L174.7 561.7L179.2 557.7L184.9 561.7L295.8 561.7" fill="none" stroke="#636EFA" stroke-width="7.0" stroke-linejoin="miter" stroke-miterlimit="2.2"/>
<path d="M41.6 543.5L83.6 543.5L89.3 539.2L94.3 543.5L100.0 543.5L105.1 539.2L110.8 541.8L115.9 538.0L120.9 530.2L126.0 512.5L128.5 501.6L134.2 499.8L141.8 510.7L147.5 522.4L153.2 542.9L158.3 538.0L164.0 535.7L168.4 543.5L295.8 543.5L295.8 543.5L41.6 543.5Z" fill="#19D3F3" fill-opacity="0.5"/>
<path d="M41.6 543.5L83.6 543.5L89.3 539.2L94.3 543.5L100.0 543.5L105.1 539.2L110.8 541.8L115.9 538.0L120.9 530.2L126.0 512.5L128.5 501.6L134.2 499.8L141.8 510.7L147.5 522.4L153.2 542.9L158.3 538.0L164.0 535.7L168.4 543.5L295.8 543.5" fill="none" stroke="#19D3F3" stroke-width="7.0" stroke-linejoin="miter" stroke-miterlimit="2.2"/>
<path d="M41.6 525.3L100.0 525.3L105.1 520.7L110.8 525.3L115.9 525.3L120.9 521.4L126.0 523.8L131.7 518.4L136.8 514.3L139.9 492.5L144.3 454.3L149.4 454.3L153.2 498.0L158.3 516.5L164.0 517.4L168.4 525.1L173.5 521.4L179.2 525.3L295.8 525.3L295.8 525.3L41.6 525.3Z" fill="#636EFA" fill-opacity="0.5"/>
<path d="M41.6 525.3L100.0 525.3L105.1 520.7L110.8 525.3L115.9 525.3L120.9 521.4L126.0 523.8L131.7 518.4L136.8 514.3L139.9 492.5L144.3 454.3L149.4 454.3L153.2 498.0L158.3 516.5L164.0 517.4L168.4 525.1L173.5 521.4L179.2 525.3L295.8 525.3" fill="none" stroke="#636EFA" stroke-width="7.0" stroke-linejoin="miter" stroke-miterlimit="2.2"/>
<path d="M41.6 507.1L105.1 507.1L110.2 503.1L115.9 507.1L120.9 507.1L126.0 502.0L131.7 501.1L136.1 505.3L142.4 499.1L148.1 503.1L153.2 503.1L158.3 485.2L164.0 463.4L167.1 470.6L169.7 483.4L175.4 503.1L185.5 503.1L189.9 507.1L295.8 507.1L295.8 507.1L41.6 507.1Z" fill="#19D3F3" fill-opacity="0.5"/>
<path d="M41.6 507.1L105.1 507.1L110.2 503.1L115.9 507.1L120.9 507.1L126.0 502.0L131.7 501.1L136.1 505.3L142.4 499.1L148.1 503.1L153.2 503.1L158.3 485.2L164.0 463.4L167.1 470.6L169.7 483.4L175.4 503.1L185.5 503.1L189.9 507.1L295.8 507.1" fill="none" stroke="#19D3F3" stroke-width="7.0" stroke-linejoin="miter" stroke-miterlimit="2.2"/>
<path d="M41.6 488.8L136.8 488.8L142.4 485.2L148.1 483.4L153.2 483.4L164.0 479.7L168.4 452.4L173.5 434.2L177.9 441.5L181.7 461.5L185.5 483.4L191.2 490.1L196.3 490.1L200.7 484.6L206.4 488.8L295.8 488.8L295.8 488.8L41.6 488.8Z" fill="#636EFA" fill-opacity="0.5"/>
<path d="M41.6 488.8L136.8 488.8L142.4 485.2L148.1 483.4L153.2 483.4L164.0 479.7L168.4 452.4L173.5 434.2L177.9 441.5L181.7 461.5L185.5 483.4L191.2 490.1L196.3 490.1L200.7 484.6L206.4 488.8L295.8 488.8" fill="none" stroke="#636EFA" stroke-width="7.0" stroke-linejoin="miter" stroke-miterlimit="2.2"/>
<path d="M41.6 470.6L142.4 470.6L147.5 463.4L153.2 468.8L158.3 467.7L162.1 447.0L168.4 426.9L173.5 416.9L177.9 419.7L182.3 434.2L187.4 452.4L191.2 463.7L196.3 470.6L200.7 470.6L205.7 466.5L211.4 470.6L295.8 470.6L295.8 470.6L41.6 470.6Z" fill="#19D3F3" fill-opacity="0.5"/>
<path d="M41.6 470.6L142.4 470.6L147.5 463.4L153.2 468.8L158.3 467.7L162.1 447.0L168.4 426.9L173.5 416.9L177.9 419.7L182.3 434.2L187.4 452.4L191.2 463.7L196.3 470.6L200.7 470.6L205.7 466.5L211.4 470.6L295.8 470.6" fill="none" stroke="#19D3F3" stroke-width="7.0" stroke-linejoin="miter" stroke-miterlimit="2.2"/>
<path d="M41.6 452.4L136.8 452.4L148.1 446.0L153.2 452.4L158.3 452.4L164.0 448.1L169.7 446.2L174.7 438.4L177.9 405.1L181.1 389.4L185.5 394.2L189.9 416.0L196.3 444.2L200.1 451.0L205.1 452.4L222.2 452.4L227.3 448.3L232.3 452.4L295.8 452.4L295.8 452.4L41.6 452.4Z" fill="#636EFA" fill-opacity="0.5"/>
<path d="M41.6 452.4L136.8 452.4L148.1 446.0L153.2 452.4L158.3 452.4L164.0 448.1L169.7 446.2L174.7 438.4L177.9 405.1L181.1 389.4L185.5 394.2L189.9 416.0L196.3 444.2L200.1 451.0L205.1 452.4L222.2 452.4L227.3 448.3L232.3 452.4L295.8 452.4" fill="none" stroke="#636EFA" stroke-width="7.0" stroke-linejoin="miter" stroke-miterlimit="2.2"/>
<path d="M41.6 434.2L136.8 434.2L142.4 429.8L147.5 433.3L153.2 426.7L158.3 434.2L160.5 434.2L163.1 408.9L165.9 431.3L173.5 428.8L178.5 416.7L181.7 381.4L184.4 354.1L187.4 375.9L191.8 392.3L196.9 416.7L201.9 434.2L227.3 434.2L232.3 430.1L238.0 434.2L295.8 434.2L295.8 434.2L41.6 434.2Z" fill="#19D3F3" fill-opacity="0.5"/>
<path d="M41.6 434.2L136.8 434.2L142.4 429.8L147.5 433.3L153.2 426.7L158.3 434.2L160.5 434.2L163.1 408.9L165.9 431.3L173.5 428.8L178.5 416.7L181.7 381.4L184.4 354.1L187.4 375.9L191.8 392.3L196.9 416.7L201.9 434.2L227.3 434.2L232.3 430.1L238.0 434.2L295.8 434.2" fill="none" stroke="#19D3F3" stroke-width="7.0" stroke-linejoin="miter" stroke-miterlimit="2.2"/>
</g>
<g clip-path="url(#cp11)">
<rect x="325.0" y="318.1" width="283.0" height="275.6" fill="#E5ECF6"/>
<path d="M339.3 318.1V593.8M402.6 318.1V593.8M465.9 318.1V593.8M529.2 318.1V593.8M592.5 318.1V593.8" stroke="#fff" stroke-width="3.4" fill="none"/>
<path d="M325.0 579.9H608.0M325.0 507.1H608.0M325.0 434.2H608.0M325.0 361.4H608.0" stroke="#fff" stroke-width="3.4" fill="none"/>
<path d="M325.0 579.9H608.0" stroke="#fff" stroke-width="7.2" fill="none"/>
<path d="M339.1 579.9L350.1 579.9L353.9 569.3L357.0 542.0L360.2 474.3L364.6 474.3L367.8 543.5L370.9 568.4L376.6 568.4L381.7 579.9L593.3 579.9L593.3 579.9L339.1 579.9Z" fill="#FF6692" fill-opacity="0.5"/>
<path d="M339.1 579.9L350.1 579.9L353.9 569.3L357.0 542.0L360.2 474.3L364.6 474.3L367.8 543.5L370.9 568.4L376.6 568.4L381.7 579.9L593.3 579.9" fill="none" stroke="#FF6692" stroke-width="7.0" stroke-linejoin="miter" stroke-miterlimit="2.2"/>
<path d="M339.1 561.7L346.3 561.7L352.0 555.7L355.1 542.0L358.9 507.1L362.1 488.8L365.3 475.4L368.4 499.8L371.6 538.0L375.4 547.9L381.7 554.6L387.4 559.5L392.5 561.7L593.3 561.7L593.3 561.7L339.1 561.7Z" fill="#EF553B" fill-opacity="0.5"/>
<path d="M339.1 561.7L346.3 561.7L352.0 555.7L355.1 542.0L358.9 507.1L362.1 488.8L365.3 475.4L368.4 499.8L371.6 538.0L375.4 547.9L381.7 554.6L387.4 559.5L392.5 561.7L593.3 561.7" fill="none" stroke="#EF553B" stroke-width="7.0" stroke-linejoin="miter" stroke-miterlimit="2.2"/>
<path d="M339.1 543.5L348.2 543.5L353.9 539.8L362.1 540.9L367.2 543.7L370.9 512.5L373.5 494.3L376.0 479.7L379.2 494.3L381.7 507.1L384.2 520.4L387.4 526.2L398.2 532.2L402.6 540.9L408.3 536.4L414.0 543.5L593.3 543.5L593.3 543.5L339.1 543.5Z" fill="#FF6692" fill-opacity="0.5"/>
<path d="M339.1 543.5L348.2 543.5L353.9 539.8L362.1 540.9L367.2 543.7L370.9 512.5L373.5 494.3L376.0 479.7L379.2 494.3L381.7 507.1L384.2 520.4L387.4 526.2L398.2 532.2L402.6 540.9L408.3 536.4L414.0 543.5L593.3 543.5" fill="none" stroke="#FF6692" stroke-width="7.0" stroke-linejoin="miter" stroke-miterlimit="2.2"/>
<path d="M339.1 525.3L381.7 525.3L386.1 519.0L392.5 524.4L402.6 524.4L408.9 518.4L412.7 502.7L415.9 479.7L419.1 462.6L422.9 476.1L426.7 490.7L430.5 506.7L434.2 518.4L439.9 519.4L445.0 525.3L593.3 525.3L593.3 525.3L339.1 525.3Z" fill="#EF553B" fill-opacity="0.5"/>
<path d="M339.1 525.3L381.7 525.3L386.1 519.0L392.5 524.4L402.6 524.4L408.9 518.4L412.7 502.7L415.9 479.7L419.1 462.6L422.9 476.1L426.7 490.7L430.5 506.7L434.2 518.4L439.9 519.4L445.0 525.3L593.3 525.3" fill="none" stroke="#EF553B" stroke-width="7.0" stroke-linejoin="miter" stroke-miterlimit="2.2"/>
<path d="M339.1 507.1L414.0 507.1L418.4 501.5L424.1 507.1L439.9 507.1L445.6 503.1L450.7 506.0L456.4 501.1L460.8 489.2L463.4 465.2L466.5 446.2L469.7 461.5L473.5 479.7L478.6 493.2L482.4 502.8L487.4 499.5L493.1 507.1L593.3 507.1L593.3 507.1L339.1 507.1Z" fill="#FF6692" fill-opacity="0.5"/>
<path d="M339.1 507.1L414.0 507.1L418.4 501.5L424.1 507.1L439.9 507.1L445.6 503.1L450.7 506.0L456.4 501.1L460.8 489.2L463.4 465.2L466.5 446.2L469.7 461.5L473.5 479.7L478.6 493.2L482.4 502.8L487.4 499.5L493.1 507.1L593.3 507.1" fill="none" stroke="#FF6692" stroke-width="7.0" stroke-linejoin="miter" stroke-miterlimit="2.2"/>
<path d="M339.1 488.8L471.6 488.8L476.7 484.5L482.4 488.3L493.1 488.3L504.5 481.5L509.6 485.2L513.4 457.9L516.5 428.8L519.4 398.3L522.2 428.8L525.4 457.9L527.3 477.6L534.9 488.8L593.3 488.8L593.3 488.8L339.1 488.8Z" fill="#EF553B" fill-opacity="0.5"/>
<path d="M339.1 488.8L471.6 488.8L476.7 484.5L482.4 488.3L493.1 488.3L504.5 481.5L509.6 485.2L513.4 457.9L516.5 428.8L519.4 398.3L522.2 428.8L525.4 457.9L527.3 477.6L534.9 488.8L593.3 488.8" fill="none" stroke="#EF553B" stroke-width="7.0" stroke-linejoin="miter" stroke-miterlimit="2.2"/>
<path d="M339.1 470.6L487.4 470.6L492.5 465.9L497.6 469.7L503.2 469.7L508.9 467.0L514.6 465.7L520.3 469.2L525.4 459.7L531.1 441.5L534.3 421.5L536.8 413.3L540.0 408.0L543.1 417.8L545.7 432.4L552.0 456.1L557.7 467.0L562.1 470.6L593.3 470.6L593.3 470.6L339.1 470.6Z" fill="#FF6692" fill-opacity="0.5"/>
<path d="M339.1 470.6L487.4 470.6L492.5 465.9L497.6 469.7L503.2 469.7L508.9 467.0L514.6 465.7L520.3 469.2L525.4 459.7L531.1 441.5L534.3 421.5L536.8 413.3L540.0 408.0L543.1 417.8L545.7 432.4L552.0 456.1L557.7 467.0L562.1 470.6L593.3 470.6" fill="none" stroke="#FF6692" stroke-width="7.0" stroke-linejoin="miter" stroke-miterlimit="2.2"/>
<path d="M339.1 452.4L540.0 452.4L545.0 444.2L552.0 442.2L558.3 436.4L564.6 381.4L570.3 385.1L574.8 425.1L577.9 448.1L583.0 452.4L593.3 452.4L593.3 452.4L339.1 452.4Z" fill="#EF553B" fill-opacity="0.5"/>
<path d="M339.1 452.4L540.0 452.4L545.0 444.2L552.0 442.2L558.3 436.4L564.6 381.4L570.3 385.1L574.8 425.1L577.9 448.1L583.0 452.4L593.3 452.4" fill="none" stroke="#EF553B" stroke-width="7.0" stroke-linejoin="miter" stroke-miterlimit="2.2"/>
<path d="M339.1 434.2L552.0 434.2L557.7 430.6L563.4 422.7L569.1 401.4L573.5 366.8L577.3 332.6L581.1 366.8L584.9 405.1L590.0 434.2L593.3 434.2L593.3 434.2L339.1 434.2Z" fill="#FF6692" fill-opacity="0.5"/>
<path d="M339.1 434.2L552.0 434.2L557.7 430.6L563.4 422.7L569.1 401.4L573.5 366.8L577.3 332.6L581.1 366.8L584.9 405.1L590.0 434.2L593.3 434.2" fill="none" stroke="#FF6692" stroke-width="7.0" stroke-linejoin="miter" stroke-miterlimit="2.2"/>
</g>
<g clip-path="url(#cp12)">
<rect x="622.5" y="318.1" width="283.0" height="275.6" fill="#E5ECF6"/>
<path d="M636.8 318.1V593.8M700.1 318.1V593.8M763.4 318.1V593.8M826.7 318.1V593.8M890.0 318.1V593.8" stroke="#fff" stroke-width="3.4" fill="none"/>
<path d="M622.5 579.9H905.5M622.5 507.1H905.5M622.5 434.2H905.5M622.5 361.4H905.5" stroke="#fff" stroke-width="3.4" fill="none"/>
<path d="M622.5 579.9H905.5" stroke="#fff" stroke-width="7.2" fill="none"/>
<path d="M636.6 579.9L678.6 579.9L684.3 572.4L690.0 581.0L695.0 579.9L698.8 575.2L703.3 553.7L708.3 543.5L714.0 543.5L720.4 552.6L726.7 559.9L731.8 567.3L737.4 572.3L743.1 572.3L748.8 579.9L779.9 579.9L784.9 575.6L790.6 579.9L890.8 579.9L890.8 579.9L636.6 579.9Z" fill="#B6E880" fill-opacity="0.5"/>
<path d="M636.6 579.9L678.6 579.9L684.3 572.4L690.0 581.0L695.0 579.9L698.8 575.2L703.3 553.7L708.3 543.5L714.0 543.5L720.4 552.6L726.7 559.9L731.8 567.3L737.4 572.3L743.1 572.3L748.8 579.9L779.9 579.9L784.9 575.6L790.6 579.9L890.8 579.9" fill="none" stroke="#B6E880" stroke-width="7.0" stroke-linejoin="miter" stroke-miterlimit="2.2"/>
<path d="M636.6 561.7L678.6 561.7L684.3 553.9L690.0 561.7L695.0 561.7L700.1 557.2L705.8 559.5L710.9 561.3L714.0 532.6L717.8 516.2L722.3 516.2L726.7 522.4L731.8 534.4L737.4 543.8L743.1 547.9L753.3 561.7L784.9 561.7L790.0 557.7L795.7 561.7L890.8 561.7L890.8 561.7L636.6 561.7Z" fill="#00CC96" fill-opacity="0.5"/>
<path d="M636.6 561.7L678.6 561.7L684.3 553.9L690.0 561.7L695.0 561.7L700.1 557.2L705.8 559.5L710.9 561.3L714.0 532.6L717.8 516.2L722.3 516.2L726.7 522.4L731.8 534.4L737.4 543.8L743.1 547.9L753.3 561.7L784.9 561.7L790.0 557.7L795.7 561.7L890.8 561.7" fill="none" stroke="#00CC96" stroke-width="7.0" stroke-linejoin="miter" stroke-miterlimit="2.2"/>
<path d="M636.6 543.5L689.3 543.5L695.0 538.0L700.1 538.0L705.8 540.9L710.9 537.9L715.9 540.9L726.7 540.9L729.2 522.4L734.9 510.7L740.6 509.8L745.7 519.8L749.5 527.3L754.5 534.6L764.0 541.8L769.7 543.5L784.9 543.5L790.0 539.2L795.7 543.5L890.8 543.5L890.8 543.5L636.6 543.5Z" fill="#B6E880" fill-opacity="0.5"/>
<path d="M636.6 543.5L689.3 543.5L695.0 538.0L700.1 538.0L705.8 540.9L710.9 537.9L715.9 540.9L726.7 540.9L729.2 522.4L734.9 510.7L740.6 509.8L745.7 519.8L749.5 527.3L754.5 534.6L764.0 541.8L769.7 543.5L784.9 543.5L790.0 539.2L795.7 543.5L890.8 543.5" fill="none" stroke="#B6E880" stroke-width="7.0" stroke-linejoin="miter" stroke-miterlimit="2.2"/>
<path d="M636.6 525.3L710.9 525.3L715.9 520.5L721.0 522.9L726.7 516.3L731.8 523.4L741.9 523.4L746.3 503.4L749.5 470.6L751.7 438.8L754.5 438.8L757.9 490.7L762.1 509.8L765.9 518.0L774.8 525.3L790.6 525.3L795.7 520.7L801.4 525.3L890.8 525.3L890.8 525.3L636.6 525.3Z" fill="#00CC96" fill-opacity="0.5"/>
<path d="M636.6 525.3L710.9 525.3L715.9 520.5L721.0 522.9L726.7 516.3L731.8 523.4L741.9 523.4L746.3 503.4L749.5 470.6L751.7 438.8L754.5 438.8L757.9 490.7L762.1 509.8L765.9 518.0L774.8 525.3L790.6 525.3L795.7 520.7L801.4 525.3L890.8 525.3" fill="none" stroke="#00CC96" stroke-width="7.0" stroke-linejoin="miter" stroke-miterlimit="2.2"/>
<path d="M636.6 507.1L715.9 507.1L721.0 503.1L731.8 503.1L737.4 501.1L741.2 496.5L743.8 505.2L752.6 505.2L754.5 452.4L757.7 452.4L759.0 492.5L762.8 494.3L765.3 504.3L767.8 507.1L812.1 507.1L817.2 503.1L822.3 507.1L890.8 507.1L890.8 507.1L636.6 507.1Z" fill="#B6E880" fill-opacity="0.5"/>
<path d="M636.6 507.1L715.9 507.1L721.0 503.1L731.8 503.1L737.4 501.1L741.2 496.5L743.8 505.2L752.6 505.2L754.5 452.4L757.7 452.4L759.0 492.5L762.8 494.3L765.3 504.3L767.8 507.1L812.1 507.1L817.2 503.1L822.3 507.1L890.8 507.1" fill="none" stroke="#B6E880" stroke-width="7.0" stroke-linejoin="miter" stroke-miterlimit="2.2"/>
<path d="M636.6 488.8L750.7 488.8L759.0 485.3L763.4 487.5L769.7 481.7L774.2 488.1L780.5 483.4L784.3 467.7L787.5 445.1L790.6 426.9L794.4 426.9L796.3 452.4L798.2 473.2L801.4 481.6L806.4 485.2L811.5 488.8L817.2 490.1L822.3 484.6L826.7 488.8L890.8 488.8L890.8 488.8L636.6 488.8Z" fill="#00CC96" fill-opacity="0.5"/>
<path d="M636.6 488.8L750.7 488.8L759.0 485.3L763.4 487.5L769.7 481.7L774.2 488.1L780.5 483.4L784.3 467.7L787.5 445.1L790.6 426.9L794.4 426.9L796.3 452.4L798.2 473.2L801.4 481.6L806.4 485.2L811.5 488.8L817.2 490.1L822.3 484.6L826.7 488.8L890.8 488.8" fill="none" stroke="#00CC96" stroke-width="7.0" stroke-linejoin="miter" stroke-miterlimit="2.2"/>
<path d="M636.6 470.6L752.6 470.6L755.5 470.6L758.1 439.7L760.6 467.0L762.1 461.3L764.7 467.6L766.6 462.8L771.0 467.6L774.8 459.3L779.2 461.5L786.2 461.9L795.7 454.3L801.4 437.9L805.2 419.7L809.6 419.7L812.1 443.3L813.4 463.7L818.5 469.8L822.3 467.0L826.7 469.8L831.8 466.8L838.1 470.6L890.8 470.6L890.8 470.6L636.6 470.6Z" fill="#B6E880" fill-opacity="0.5"/>
<path d="M636.6 470.6L752.6 470.6L755.5 470.6L758.1 439.7L760.6 467.0L762.1 461.3L764.7 467.6L766.6 462.8L771.0 467.6L774.8 459.3L779.2 461.5L786.2 461.9L795.7 454.3L801.4 437.9L805.2 419.7L809.6 419.7L812.1 443.3L813.4 463.7L818.5 469.8L822.3 467.0L826.7 469.8L831.8 466.8L838.1 470.6L890.8 470.6" fill="none" stroke="#B6E880" stroke-width="7.0" stroke-linejoin="miter" stroke-miterlimit="2.2"/>
<path d="M636.6 452.4L749.5 452.4L754.5 451.5L759.0 453.4L763.4 448.2L766.6 450.8L771.0 448.2L776.1 451.1L780.5 448.1L786.2 447.0L791.9 441.5L798.2 430.6L803.3 412.4L807.7 399.6L811.5 405.1L815.3 419.7L818.5 432.4L822.3 447.1L829.2 448.1L833.0 452.4L843.8 452.4L848.9 448.3L853.9 452.4L890.8 452.4L890.8 452.4L636.6 452.4Z" fill="#00CC96" fill-opacity="0.5"/>
<path d="M636.6 452.4L749.5 452.4L754.5 451.5L759.0 453.4L763.4 448.2L766.6 450.8L771.0 448.2L776.1 451.1L780.5 448.1L786.2 447.0L791.9 441.5L798.2 430.6L803.3 412.4L807.7 399.6L811.5 405.1L815.3 419.7L818.5 432.4L822.3 447.1L829.2 448.1L833.0 452.4L843.8 452.4L848.9 448.3L853.9 452.4L890.8 452.4" fill="none" stroke="#00CC96" stroke-width="7.0" stroke-linejoin="miter" stroke-miterlimit="2.2"/>
<path d="M636.6 434.2L753.3 434.2L755.5 434.2L758.1 423.3L760.9 432.4L763.4 432.4L768.5 434.4L774.2 429.8L779.9 432.5L784.9 426.7L791.3 433.3L796.9 428.6L800.7 412.9L805.2 380.7L812.1 380.7L818.5 410.9L826.1 429.5L836.8 429.5L843.8 434.2L858.3 434.2L864.0 430.1L870.4 434.2L890.8 434.2L890.8 434.2L636.6 434.2Z" fill="#B6E880" fill-opacity="0.5"/>
<path d="M636.6 434.2L753.3 434.2L755.5 434.2L758.1 423.3L760.9 432.4L763.4 432.4L768.5 434.4L774.2 429.8L779.9 432.5L784.9 426.7L791.3 433.3L796.9 428.6L800.7 412.9L805.2 380.7L812.1 380.7L818.5 410.9L826.1 429.5L836.8 429.5L843.8 434.2L858.3 434.2L864.0 430.1L870.4 434.2L890.8 434.2" fill="none" stroke="#B6E880" stroke-width="7.0" stroke-linejoin="miter" stroke-miterlimit="2.2"/>
</g>
<g clip-path="url(#cp13)">
<rect x="920.0" y="318.1" width="283.0" height="275.6" fill="#E5ECF6"/>
<path d="M934.3 318.1V593.8M997.6 318.1V593.8M1060.9 318.1V593.8M1124.2 318.1V593.8M1187.5 318.1V593.8" stroke="#fff" stroke-width="3.4" fill="none"/>
<path d="M920.0 579.9H1203.0M920.0 507.1H1203.0M920.0 434.2H1203.0M920.0 361.4H1203.0" stroke="#fff" stroke-width="3.4" fill="none"/>
<path d="M920.0 579.9H1203.0" stroke="#fff" stroke-width="7.2" fill="none"/>
<path d="M934.1 579.9L1029.9 579.9L1034.9 572.4L1040.6 579.9L1051.4 579.9L1056.5 576.2L1061.5 579.8L1066.6 567.3L1071.0 539.8L1076.1 523.4L1081.2 532.6L1087.5 556.2L1092.5 571.3L1097.0 563.5L1100.8 569.3L1104.6 576.3L1109.6 576.3L1114.7 579.9L1188.3 579.9L1188.3 579.9L934.1 579.9Z" fill="#FF97FF" fill-opacity="0.5"/>
<path d="M934.1 579.9L1029.9 579.9L1034.9 572.4L1040.6 579.9L1051.4 579.9L1056.5 576.2L1061.5 579.8L1066.6 567.3L1071.0 539.8L1076.1 523.4L1081.2 532.6L1087.5 556.2L1092.5 571.3L1097.0 563.5L1100.8 569.3L1104.6 576.3L1109.6 576.3L1114.7 579.9L1188.3 579.9" fill="none" stroke="#FF97FF" stroke-width="7.0" stroke-linejoin="miter" stroke-miterlimit="2.2"/>
<path d="M934.1 561.7L1029.9 561.7L1034.9 557.5L1040.6 557.5L1045.7 561.7L1056.5 561.7L1061.5 554.6L1067.2 549.7L1070.4 525.3L1074.2 512.5L1078.6 518.0L1084.3 541.8L1088.1 560.6L1097.6 554.5L1104.6 557.5L1109.6 557.5L1114.7 561.7L1188.3 561.7L1188.3 561.7L934.1 561.7Z" fill="#AB63FA" fill-opacity="0.5"/>
<path d="M934.1 561.7L1029.9 561.7L1034.9 557.5L1040.6 557.5L1045.7 561.7L1056.5 561.7L1061.5 554.6L1067.2 549.7L1070.4 525.3L1074.2 512.5L1078.6 518.0L1084.3 541.8L1088.1 560.6L1097.6 554.5L1104.6 557.5L1109.6 557.5L1114.7 561.7L1188.3 561.7" fill="none" stroke="#AB63FA" stroke-width="7.0" stroke-linejoin="miter" stroke-miterlimit="2.2"/>
<path d="M934.1 543.5L1034.9 543.5L1040.6 539.2L1045.7 542.1L1051.4 539.9L1056.5 543.0L1059.6 532.2L1064.7 510.7L1069.1 488.9L1073.6 477.4L1078.0 495.0L1084.3 512.5L1088.8 538.9L1093.8 538.0L1098.9 538.0L1104.6 541.8L1109.6 539.2L1114.7 543.5L1188.3 543.5L1188.3 543.5L934.1 543.5Z" fill="#FF97FF" fill-opacity="0.5"/>
<path d="M934.1 543.5L1034.9 543.5L1040.6 539.2L1045.7 542.1L1051.4 539.9L1056.5 543.0L1059.6 532.2L1064.7 510.7L1069.1 488.9L1073.6 477.4L1078.0 495.0L1084.3 512.5L1088.8 538.9L1093.8 538.0L1098.9 538.0L1104.6 541.8L1109.6 539.2L1114.7 543.5L1188.3 543.5" fill="none" stroke="#FF97FF" stroke-width="7.0" stroke-linejoin="miter" stroke-miterlimit="2.2"/>
<path d="M934.1 525.3L1040.6 525.3L1045.7 517.4L1048.9 523.8L1052.7 522.4L1054.6 502.7L1058.4 485.2L1062.8 479.7L1067.2 485.2L1074.2 507.1L1078.0 510.7L1083.1 519.4L1088.1 520.4L1093.8 525.3L1188.3 525.3L1188.3 525.3L934.1 525.3Z" fill="#AB63FA" fill-opacity="0.5"/>
<path d="M934.1 525.3L1040.6 525.3L1045.7 517.4L1048.9 523.8L1052.7 522.4L1054.6 502.7L1058.4 485.2L1062.8 479.7L1067.2 485.2L1074.2 507.1L1078.0 510.7L1083.1 519.4L1088.1 520.4L1093.8 525.3L1188.3 525.3" fill="none" stroke="#AB63FA" stroke-width="7.0" stroke-linejoin="miter" stroke-miterlimit="2.2"/>
<path d="M934.1 507.1L1013.4 507.1L1019.1 503.1L1024.2 507.1L1034.9 507.1L1040.6 499.7L1045.1 503.6L1048.9 491.2L1052.7 470.6L1056.5 456.1L1059.6 470.6L1061.5 491.2L1066.6 499.0L1072.3 504.0L1079.9 507.1L1188.3 507.1L1188.3 507.1L934.1 507.1Z" fill="#FF97FF" fill-opacity="0.5"/>
<path d="M934.1 507.1L1013.4 507.1L1019.1 503.1L1024.2 507.1L1034.9 507.1L1040.6 499.7L1045.1 503.6L1048.9 491.2L1052.7 470.6L1056.5 456.1L1059.6 470.6L1061.5 491.2L1066.6 499.0L1072.3 504.0L1079.9 507.1L1188.3 507.1" fill="none" stroke="#FF97FF" stroke-width="7.0" stroke-linejoin="miter" stroke-miterlimit="2.2"/>
<path d="M934.1 488.8L1009.0 488.8L1013.4 481.4L1023.6 481.4L1025.5 456.1L1029.2 443.3L1034.3 440.4L1039.4 456.1L1045.1 485.5L1050.8 482.3L1056.5 485.4L1062.8 481.4L1066.0 479.7L1069.1 490.5L1074.2 488.8L1188.3 488.8L1188.3 488.8L934.1 488.8Z" fill="#AB63FA" fill-opacity="0.5"/>
<path d="M934.1 488.8L1009.0 488.8L1013.4 481.4L1023.6 481.4L1025.5 456.1L1029.2 443.3L1034.3 440.4L1039.4 456.1L1045.1 485.5L1050.8 482.3L1056.5 485.4L1062.8 481.4L1066.0 479.7L1069.1 490.5L1074.2 488.8L1188.3 488.8" fill="none" stroke="#AB63FA" stroke-width="7.0" stroke-linejoin="miter" stroke-miterlimit="2.2"/>
<path d="M934.1 470.6L1003.9 470.6L1009.0 459.9L1013.4 454.1L1017.2 439.7L1021.7 432.4L1026.1 436.0L1030.5 448.8L1034.9 461.9L1040.6 468.6L1047.0 464.8L1053.5 467.3L1056.2 430.6L1058.9 462.4L1063.4 463.7L1066.6 470.6L1188.3 470.6L1188.3 470.6L934.1 470.6Z" fill="#FF97FF" fill-opacity="0.5"/>
<path d="M934.1 470.6L1003.9 470.6L1009.0 459.9L1013.4 454.1L1017.2 439.7L1021.7 432.4L1026.1 436.0L1030.5 448.8L1034.9 461.9L1040.6 468.6L1047.0 464.8L1053.5 467.3L1056.2 430.6L1058.9 462.4L1063.4 463.7L1066.6 470.6L1188.3 470.6" fill="none" stroke="#FF97FF" stroke-width="7.0" stroke-linejoin="miter" stroke-miterlimit="2.2"/>
<path d="M934.1 452.4L982.4 452.4L987.5 448.1L991.9 436.4L997.0 420.7L1002.0 424.6L1006.5 421.5L1010.9 412.9L1016.0 422.7L1019.1 434.2L1024.2 444.2L1029.9 451.1L1036.2 444.2L1045.7 444.2L1052.0 452.4L1188.3 452.4L1188.3 452.4L934.1 452.4Z" fill="#AB63FA" fill-opacity="0.5"/>
<path d="M934.1 452.4L982.4 452.4L987.5 448.1L991.9 436.4L997.0 420.7L1002.0 424.6L1006.5 421.5L1010.9 412.9L1016.0 422.7L1019.1 434.2L1024.2 444.2L1029.9 451.1L1036.2 444.2L1045.7 444.2L1052.0 452.4L1188.3 452.4" fill="none" stroke="#AB63FA" stroke-width="7.0" stroke-linejoin="miter" stroke-miterlimit="2.2"/>
<path d="M934.1 434.2L955.2 434.2L960.3 429.7L965.9 433.5L970.4 433.5L976.7 424.6L980.5 408.9L984.3 408.9L987.5 418.7L991.9 406.9L997.6 406.9L1000.8 394.2L1005.2 394.2L1009.0 422.7L1013.4 426.6L1019.1 429.5L1024.2 430.6L1027.4 426.3L1034.9 428.6L1040.6 425.5L1047.0 433.5L1053.5 434.2L1056.2 386.7L1058.9 434.2L1188.3 434.2L1188.3 434.2L934.1 434.2Z" fill="#FF97FF" fill-opacity="0.5"/>
<path d="M934.1 434.2L955.2 434.2L960.3 429.7L965.9 433.5L970.4 433.5L976.7 424.6L980.5 408.9L984.3 408.9L987.5 418.7L991.9 406.9L997.6 406.9L1000.8 394.2L1005.2 394.2L1009.0 422.7L1013.4 426.6L1019.1 429.5L1024.2 430.6L1027.4 426.3L1034.9 428.6L1040.6 425.5L1047.0 433.5L1053.5 434.2L1056.2 386.7L1058.9 434.2L1188.3 434.2" fill="none" stroke="#FF97FF" stroke-width="7.0" stroke-linejoin="miter" stroke-miterlimit="2.2"/>
</g>
<g clip-path="url(#cp14)">
<rect x="1217.5" y="318.1" width="283.0" height="275.6" fill="#E5ECF6"/>
<path d="M1231.8 318.1V593.8M1295.1 318.1V593.8M1358.4 318.1V593.8M1421.7 318.1V593.8M1485.0 318.1V593.8" stroke="#fff" stroke-width="3.4" fill="none"/>
<path d="M1217.5 579.9H1500.5M1217.5 507.1H1500.5M1217.5 434.2H1500.5M1217.5 361.4H1500.5" stroke="#fff" stroke-width="3.4" fill="none"/>
<path d="M1217.5 579.9H1500.5" stroke="#fff" stroke-width="7.2" fill="none"/>
<path d="M1231.6 579.9L1305.9 579.9L1310.9 577.1L1317.3 579.6L1321.7 569.1L1324.2 575.2L1328.0 574.4L1334.3 551.7L1339.4 534.4L1345.7 525.3L1350.8 532.6L1355.2 552.6L1358.4 579.9L1485.8 579.9L1485.8 579.9L1231.6 579.9Z" fill="#FECB52" fill-opacity="0.5"/>
<path d="M1231.6 579.9L1305.9 579.9L1310.9 577.1L1317.3 579.6L1321.7 569.1L1324.2 575.2L1328.0 574.4L1334.3 551.7L1339.4 534.4L1345.7 525.3L1350.8 532.6L1355.2 552.6L1358.4 579.9L1485.8 579.9" fill="none" stroke="#FECB52" stroke-width="7.0" stroke-linejoin="miter" stroke-miterlimit="2.2"/>
<path d="M1231.6 561.7L1310.9 561.7L1316.0 557.5L1321.7 551.4L1326.1 558.4L1331.2 555.7L1334.3 545.3L1338.1 547.9L1343.8 551.7L1349.5 547.9L1352.7 525.3L1355.9 516.2L1358.4 534.4L1361.6 557.5L1365.4 561.7L1485.8 561.7L1485.8 561.7L1231.6 561.7Z" fill="#FFA15A" fill-opacity="0.5"/>
<path d="M1231.6 561.7L1310.9 561.7L1316.0 557.5L1321.7 551.4L1326.1 558.4L1331.2 555.7L1334.3 545.3L1338.1 547.9L1343.8 551.7L1349.5 547.9L1352.7 525.3L1355.9 516.2L1358.4 534.4L1361.6 557.5L1365.4 561.7L1485.8 561.7" fill="none" stroke="#FFA15A" stroke-width="7.0" stroke-linejoin="miter" stroke-miterlimit="2.2"/>
<path d="M1231.6 543.5L1321.7 543.5L1326.1 532.0L1332.4 535.1L1336.2 539.8L1340.0 522.4L1345.7 503.4L1350.8 492.5L1355.9 499.8L1360.3 514.3L1363.5 528.2L1365.4 543.5L1485.8 543.5L1485.8 543.5L1231.6 543.5Z" fill="#FECB52" fill-opacity="0.5"/>
<path d="M1231.6 543.5L1321.7 543.5L1326.1 532.0L1332.4 535.1L1336.2 539.8L1340.0 522.4L1345.7 503.4L1350.8 492.5L1355.9 499.8L1360.3 514.3L1363.5 528.2L1365.4 543.5L1485.8 543.5" fill="none" stroke="#FECB52" stroke-width="7.0" stroke-linejoin="miter" stroke-miterlimit="2.2"/>
<path d="M1231.6 525.3L1332.4 525.3L1337.5 513.1L1341.9 518.4L1345.7 507.1L1349.5 481.6L1353.3 470.6L1357.8 477.9L1361.6 498.0L1365.4 520.4L1369.2 525.3L1485.8 525.3L1485.8 525.3L1231.6 525.3Z" fill="#FFA15A" fill-opacity="0.5"/>
<path d="M1231.6 525.3L1332.4 525.3L1337.5 513.1L1341.9 518.4L1345.7 507.1L1349.5 481.6L1353.3 470.6L1357.8 477.9L1361.6 498.0L1365.4 520.4L1369.2 525.3L1485.8 525.3" fill="none" stroke="#FFA15A" stroke-width="7.0" stroke-linejoin="miter" stroke-miterlimit="2.2"/>
<path d="M1231.6 507.1L1332.4 507.1L1336.9 503.1L1343.2 503.1L1345.7 491.2L1349.5 481.6L1353.3 452.4L1357.8 452.4L1361.6 474.3L1365.4 491.2L1370.4 503.1L1375.5 507.1L1485.8 507.1L1485.8 507.1L1231.6 507.1Z" fill="#FECB52" fill-opacity="0.5"/>
<path d="M1231.6 507.1L1332.4 507.1L1336.9 503.1L1343.2 503.1L1345.7 491.2L1349.5 481.6L1353.3 452.4L1357.8 452.4L1361.6 474.3L1365.4 491.2L1370.4 503.1L1375.5 507.1L1485.8 507.1" fill="none" stroke="#FECB52" stroke-width="7.0" stroke-linejoin="miter" stroke-miterlimit="2.2"/>
<path d="M1231.6 488.8L1343.2 488.8L1348.3 480.5L1354.0 480.5L1356.5 441.5L1360.9 434.2L1365.4 445.1L1370.4 463.4L1374.2 488.8L1380.6 488.8L1385.6 484.6L1390.7 488.8L1485.8 488.8L1485.8 488.8L1231.6 488.8Z" fill="#FFA15A" fill-opacity="0.5"/>
<path d="M1231.6 488.8L1343.2 488.8L1348.3 480.5L1354.0 480.5L1356.5 441.5L1360.9 434.2L1365.4 445.1L1370.4 463.4L1374.2 488.8L1380.6 488.8L1385.6 484.6L1390.7 488.8L1485.8 488.8" fill="none" stroke="#FFA15A" stroke-width="7.0" stroke-linejoin="miter" stroke-miterlimit="2.2"/>
<path d="M1231.6 470.6L1343.2 470.6L1347.0 462.8L1350.8 462.8L1354.0 445.1L1357.1 416.0L1362.2 416.0L1366.6 437.9L1371.1 454.1L1377.4 463.7L1386.3 470.6L1485.8 470.6L1485.8 470.6L1231.6 470.6Z" fill="#FECB52" fill-opacity="0.5"/>
<path d="M1231.6 470.6L1343.2 470.6L1347.0 462.8L1350.8 462.8L1354.0 445.1L1357.1 416.0L1362.2 416.0L1366.6 437.9L1371.1 454.1L1377.4 463.7L1386.3 470.6L1485.8 470.6" fill="none" stroke="#FECB52" stroke-width="7.0" stroke-linejoin="miter" stroke-miterlimit="2.2"/>
<path d="M1231.6 452.4L1347.6 452.4L1354.0 436.4L1355.9 391.4L1359.7 386.9L1364.7 390.5L1369.2 412.4L1375.5 434.2L1379.9 453.0L1385.6 452.4L1390.7 448.3L1396.4 452.4L1485.8 452.4L1485.8 452.4L1231.6 452.4Z" fill="#FFA15A" fill-opacity="0.5"/>
<path d="M1231.6 452.4L1347.6 452.4L1354.0 436.4L1355.9 391.4L1359.7 386.9L1364.7 390.5L1369.2 412.4L1375.5 434.2L1379.9 453.0L1385.6 452.4L1390.7 448.3L1396.4 452.4L1485.8 452.4" fill="none" stroke="#FFA15A" stroke-width="7.0" stroke-linejoin="miter" stroke-miterlimit="2.2"/>
<path d="M1231.6 434.2L1347.0 434.2L1354.0 418.7L1358.4 399.6L1361.6 375.9L1364.3 347.4L1367.3 379.6L1370.4 405.1L1375.5 414.9L1381.2 426.6L1386.3 429.5L1390.7 429.5L1396.4 434.2L1485.8 434.2L1485.8 434.2L1231.6 434.2Z" fill="#FECB52" fill-opacity="0.5"/>
<path d="M1231.6 434.2L1347.0 434.2L1354.0 418.7L1358.4 399.6L1361.6 375.9L1364.3 347.4L1367.3 379.6L1370.4 405.1L1375.5 414.9L1381.2 426.6L1386.3 429.5L1390.7 429.5L1396.4 434.2L1485.8 434.2" fill="none" stroke="#FECB52" stroke-width="7.0" stroke-linejoin="miter" stroke-miterlimit="2.2"/>
</g>
<g clip-path="url(#cp20)">
<rect x="27.5" y="607.9" width="283.0" height="275.6" fill="#E5ECF6"/>
<path d="M41.8 607.9V883.5M105.1 607.9V883.5M168.4 607.9V883.5M231.7 607.9V883.5M295.0 607.9V883.5" stroke="#fff" stroke-width="3.4" fill="none"/>
<path d="M27.5 869.7H310.5M27.5 847.5H310.5M27.5 825.3H310.5M27.5 803.2H310.5M27.5 781.0H310.5M27.5 758.8H310.5M27.5 736.6H310.5M27.5 714.4H310.5M27.5 692.3H310.5" stroke="#fff" stroke-width="3.4" fill="none"/>
<path d="M41.6 869.7L105.1 869.7L110.8 865.7L115.9 868.9L120.9 860.2L131.7 860.2L136.8 865.0L140.5 847.5L145.0 816.5L149.4 803.2L153.8 820.9L158.3 851.3L162.7 868.9L168.4 865.7L174.7 869.7L179.2 869.7L184.9 865.7L189.9 869.7L295.8 869.7L295.8 869.7L41.6 869.7Z" fill="#636EFA" fill-opacity="0.5"/>
<path d="M41.6 869.7L105.1 869.7L110.8 865.7L115.9 868.9L120.9 860.2L131.7 860.2L136.8 865.0L140.5 847.5L145.0 816.5L149.4 803.2L153.8 820.9L158.3 851.3L162.7 868.9L168.4 865.7L174.7 869.7L179.2 869.7L184.9 865.7L189.9 869.7L295.8 869.7" fill="none" stroke="#636EFA" stroke-width="7.0" stroke-linejoin="miter" stroke-miterlimit="2.2"/>
<path d="M41.6 847.5L105.1 847.5L110.8 843.5L115.9 847.5L120.9 847.5L123.5 834.7L127.3 834.7L131.7 843.3L136.8 838.4L140.5 835.3L144.3 803.2L149.4 781.0L154.5 785.4L159.5 807.6L164.0 827.8L169.7 847.5L179.2 847.5L184.9 843.5L189.9 847.5L295.8 847.5L295.8 847.5L41.6 847.5Z" fill="#19D3F3" fill-opacity="0.5"/>
<path d="M41.6 847.5L105.1 847.5L110.8 843.5L115.9 847.5L120.9 847.5L123.5 834.7L127.3 834.7L131.7 843.3L136.8 838.4L140.5 835.3L144.3 803.2L149.4 781.0L154.5 785.4L159.5 807.6L164.0 827.8L169.7 847.5L179.2 847.5L184.9 843.5L189.9 847.5L295.8 847.5" fill="none" stroke="#19D3F3" stroke-width="7.0" stroke-linejoin="miter" stroke-miterlimit="2.2"/>
<path d="M41.6 825.3L115.9 825.3L120.9 821.2L126.0 823.7L131.7 820.0L136.8 820.0L142.4 811.5L146.2 816.0L150.0 792.1L155.7 758.8L160.2 767.7L164.0 810.3L168.4 816.0L174.7 823.8L179.2 823.8L184.9 820.5L189.9 825.3L295.8 825.3L295.8 825.3L41.6 825.3Z" fill="#636EFA" fill-opacity="0.5"/>
<path d="M41.6 825.3L115.9 825.3L120.9 821.2L126.0 823.7L131.7 820.0L136.8 820.0L142.4 811.5L146.2 816.0L150.0 792.1L155.7 758.8L160.2 767.7L164.0 810.3L168.4 816.0L174.7 823.8L179.2 823.8L184.9 820.5L189.9 825.3L295.8 825.3" fill="none" stroke="#636EFA" stroke-width="7.0" stroke-linejoin="miter" stroke-miterlimit="2.2"/>
<path d="M41.6 803.2L131.7 803.2L134.2 790.7L138.0 790.7L142.4 800.6L146.2 794.5L150.7 769.9L154.5 732.2L159.5 732.2L164.0 758.8L169.7 781.0L175.4 800.5L179.2 802.4L184.9 798.7L189.9 803.2L295.8 803.2L295.8 803.2L41.6 803.2Z" fill="#19D3F3" fill-opacity="0.5"/>
<path d="M41.6 803.2L131.7 803.2L134.2 790.7L138.0 790.7L142.4 800.6L146.2 794.5L150.7 769.9L154.5 732.2L159.5 732.2L164.0 758.8L169.7 781.0L175.4 800.5L179.2 802.4L184.9 798.7L189.9 803.2L295.8 803.2" fill="none" stroke="#19D3F3" stroke-width="7.0" stroke-linejoin="miter" stroke-miterlimit="2.2"/>
<path d="M41.6 781.0L110.8 781.0L115.9 776.5L120.9 781.0L131.7 781.0L136.8 775.9L142.4 775.9L148.1 779.4L155.7 773.0L159.5 745.5L163.3 707.8L167.1 707.8L170.3 741.1L173.5 765.2L179.2 771.0L184.9 781.0L195.6 781.0L200.7 776.5L206.4 781.0L295.8 781.0L295.8 781.0L41.6 781.0Z" fill="#636EFA" fill-opacity="0.5"/>
<path d="M41.6 781.0L110.8 781.0L115.9 776.5L120.9 781.0L131.7 781.0L136.8 775.9L142.4 775.9L148.1 779.4L155.7 773.0L159.5 745.5L163.3 707.8L167.1 707.8L170.3 741.1L173.5 765.2L179.2 771.0L184.9 781.0L195.6 781.0L200.7 776.5L206.4 781.0L295.8 781.0" fill="none" stroke="#636EFA" stroke-width="7.0" stroke-linejoin="miter" stroke-miterlimit="2.2"/>
<path d="M41.6 758.8L131.7 758.8L142.4 750.8L147.5 758.8L153.2 753.5L155.1 714.4L158.3 681.2L163.3 681.2L168.4 705.6L174.7 725.5L181.1 741.7L185.5 753.5L190.6 759.5L195.6 758.8L200.7 754.6L206.4 758.8L295.8 758.8L295.8 758.8L41.6 758.8Z" fill="#19D3F3" fill-opacity="0.5"/>
<path d="M41.6 758.8L131.7 758.8L142.4 750.8L147.5 758.8L153.2 753.5L155.1 714.4L158.3 681.2L163.3 681.2L168.4 705.6L174.7 725.5L181.1 741.7L185.5 753.5L190.6 759.5L195.6 758.8L200.7 754.6L206.4 758.8L295.8 758.8" fill="none" stroke="#19D3F3" stroke-width="7.0" stroke-linejoin="miter" stroke-miterlimit="2.2"/>
<path d="M41.6 736.6L135.5 736.6L139.3 724.2L144.3 724.2L148.1 736.6L153.2 736.6L158.3 732.0L164.0 724.2L167.1 687.8L170.9 670.1L174.7 687.8L181.1 716.2L189.3 726.0L195.6 736.0L200.7 733.0L206.4 736.6L295.8 736.6L295.8 736.6L41.6 736.6Z" fill="#636EFA" fill-opacity="0.5"/>
<path d="M41.6 736.6L135.5 736.6L139.3 724.2L144.3 724.2L148.1 736.6L153.2 736.6L158.3 732.0L164.0 724.2L167.1 687.8L170.9 670.1L174.7 687.8L181.1 716.2L189.3 726.0L195.6 736.0L200.7 733.0L206.4 736.6L295.8 736.6" fill="none" stroke="#636EFA" stroke-width="7.0" stroke-linejoin="miter" stroke-miterlimit="2.2"/>
<path d="M41.6 714.4L126.0 714.4L131.7 710.6L136.8 713.6L142.4 706.0L148.1 713.8L153.2 712.2L155.7 681.2L160.8 661.2L166.5 647.9L171.6 647.9L176.0 670.1L181.1 692.3L185.5 706.5L190.6 703.6L196.3 714.4L201.3 714.4L206.4 710.6L211.4 714.4L295.8 714.4L295.8 714.4L41.6 714.4Z" fill="#19D3F3" fill-opacity="0.5"/>
<path d="M41.6 714.4L126.0 714.4L131.7 710.6L136.8 713.6L142.4 706.0L148.1 713.8L153.2 712.2L155.7 681.2L160.8 661.2L166.5 647.9L171.6 647.9L176.0 670.1L181.1 692.3L185.5 706.5L190.6 703.6L196.3 714.4L201.3 714.4L206.4 710.6L211.4 714.4L295.8 714.4" fill="none" stroke="#19D3F3" stroke-width="7.0" stroke-linejoin="miter" stroke-miterlimit="2.2"/>
<path d="M41.6 692.3L115.9 692.3L120.9 687.8L126.0 692.3L131.7 692.3L136.8 687.4L142.4 687.4L148.1 692.3L153.2 692.3L157.6 683.2L162.7 659.7L166.5 622.4L171.6 621.5L175.4 629.3L179.2 677.2L185.5 682.7L191.2 682.7L196.3 692.3L205.7 692.3L210.8 687.8L216.5 692.3L295.8 692.3L295.8 692.3L41.6 692.3Z" fill="#636EFA" fill-opacity="0.5"/>
<path d="M41.6 692.3L115.9 692.3L120.9 687.8L126.0 692.3L131.7 692.3L136.8 687.4L142.4 687.4L148.1 692.3L153.2 692.3L157.6 683.2L162.7 659.7L166.5 622.4L171.6 621.5L175.4 629.3L179.2 677.2L185.5 682.7L191.2 682.7L196.3 692.3L205.7 692.3L210.8 687.8L216.5 692.3L295.8 692.3" fill="none" stroke="#636EFA" stroke-width="7.0" stroke-linejoin="miter" stroke-miterlimit="2.2"/>
</g>
<g clip-path="url(#cp21)">
<rect x="325.0" y="607.9" width="283.0" height="275.6" fill="#E5ECF6"/>
<path d="M339.3 607.9V883.5M402.6 607.9V883.5M465.9 607.9V883.5M529.2 607.9V883.5M592.5 607.9V883.5" stroke="#fff" stroke-width="3.4" fill="none"/>
<path d="M325.0 803.2H608.0M325.0 714.4H608.0M325.0 625.7H608.0" stroke="#fff" stroke-width="3.4" fill="none"/>
<path d="M339.1 869.7L386.1 869.7L391.8 861.4L396.9 869.7L445.0 869.7L450.7 859.1L453.9 839.5L457.7 812.0L461.5 796.5L465.9 803.2L469.7 829.8L475.4 869.7L487.4 869.7L492.5 865.7L497.6 869.7L593.3 869.7L593.3 869.7L339.1 869.7Z" fill="#EF553B" fill-opacity="0.5"/>
<path d="M339.1 869.7L386.1 869.7L391.8 861.4L396.9 869.7L445.0 869.7L450.7 859.1L453.9 839.5L457.7 812.0L461.5 796.5L465.9 803.2L469.7 829.8L475.4 869.7L487.4 869.7L492.5 865.7L497.6 869.7L593.3 869.7" fill="none" stroke="#EF553B" stroke-width="7.0" stroke-linejoin="miter" stroke-miterlimit="2.2"/>
<path d="M339.1 847.5L392.5 847.5L396.9 842.4L402.6 842.4L408.3 847.5L450.7 847.5L456.4 839.5L460.2 807.6L464.0 781.0L468.4 781.0L473.5 803.2L478.6 820.9L483.0 841.5L488.1 847.5L492.5 847.5L497.6 843.5L503.2 847.5L593.3 847.5L593.3 847.5L339.1 847.5Z" fill="#FF6692" fill-opacity="0.5"/>
<path d="M339.1 847.5L392.5 847.5L396.9 842.4L402.6 842.4L408.3 847.5L450.7 847.5L456.4 839.5L460.2 807.6L464.0 781.0L468.4 781.0L473.5 803.2L478.6 820.9L483.0 841.5L488.1 847.5L492.5 847.5L497.6 843.5L503.2 847.5L593.3 847.5" fill="none" stroke="#FF6692" stroke-width="7.0" stroke-linejoin="miter" stroke-miterlimit="2.2"/>
<path d="M339.1 825.3L414.0 825.3L418.4 820.0L424.1 820.0L429.2 825.3L452.6 825.3L456.4 808.3L460.8 776.5L464.6 758.8L469.1 758.8L474.1 781.0L479.2 798.7L483.0 814.2L487.4 824.1L492.5 821.2L497.6 825.3L593.3 825.3L593.3 825.3L339.1 825.3Z" fill="#EF553B" fill-opacity="0.5"/>
<path d="M339.1 825.3L414.0 825.3L418.4 820.0L424.1 820.0L429.2 825.3L452.6 825.3L456.4 808.3L460.8 776.5L464.6 758.8L469.1 758.8L474.1 781.0L479.2 798.7L483.0 814.2L487.4 824.1L492.5 821.2L497.6 825.3L593.3 825.3" fill="none" stroke="#EF553B" stroke-width="7.0" stroke-linejoin="miter" stroke-miterlimit="2.2"/>
<path d="M339.1 803.2L429.2 803.2L434.9 798.1L439.9 798.1L445.6 803.2L453.9 803.2L458.9 788.7L463.4 758.8L467.8 736.6L472.2 736.6L477.3 763.2L483.0 788.7L488.1 793.6L493.1 803.2L593.3 803.2L593.3 803.2L339.1 803.2Z" fill="#FF6692" fill-opacity="0.5"/>
<path d="M339.1 803.2L429.2 803.2L434.9 798.1L439.9 798.1L445.6 803.2L453.9 803.2L458.9 788.7L463.4 758.8L467.8 736.6L472.2 736.6L477.3 763.2L483.0 788.7L488.1 793.6L493.1 803.2L593.3 803.2" fill="none" stroke="#FF6692" stroke-width="7.0" stroke-linejoin="miter" stroke-miterlimit="2.2"/>
<path d="M339.1 781.0L396.9 781.0L402.6 776.5L407.7 781.0L419.1 781.0L424.1 776.5L429.2 781.0L455.8 781.0L459.6 773.0L463.4 718.9L468.4 718.9L471.0 736.6L474.1 723.3L477.9 725.5L479.2 765.2L487.4 767.0L493.1 776.8L497.6 781.0L593.3 781.0L593.3 781.0L339.1 781.0Z" fill="#EF553B" fill-opacity="0.5"/>
<path d="M339.1 781.0L396.9 781.0L402.6 776.5L407.7 781.0L419.1 781.0L424.1 776.5L429.2 781.0L455.8 781.0L459.6 773.0L463.4 718.9L468.4 718.9L471.0 736.6L474.1 723.3L477.9 725.5L479.2 765.2L487.4 767.0L493.1 776.8L497.6 781.0L593.3 781.0" fill="none" stroke="#EF553B" stroke-width="7.0" stroke-linejoin="miter" stroke-miterlimit="2.2"/>
<path d="M339.1 758.8L450.7 758.8L455.8 750.1L460.8 757.4L466.5 754.1L471.6 759.5L483.0 738.0L487.4 714.4L491.2 692.3L495.0 696.7L497.6 723.3L500.7 743.7L504.5 751.5L514.6 758.8L593.3 758.8L593.3 758.8L339.1 758.8Z" fill="#FF6692" fill-opacity="0.5"/>
<path d="M339.1 758.8L450.7 758.8L455.8 750.1L460.8 757.4L466.5 754.1L471.6 759.5L483.0 738.0L487.4 714.4L491.2 692.3L495.0 696.7L497.6 723.3L500.7 743.7L504.5 751.5L514.6 758.8L593.3 758.8" fill="none" stroke="#FF6692" stroke-width="7.0" stroke-linejoin="miter" stroke-miterlimit="2.2"/>
<path d="M339.1 736.6L450.7 736.6L455.8 727.0L460.8 731.4L463.4 725.5L468.4 725.5L471.6 731.7L476.0 723.3L481.1 721.1L486.2 701.1L491.2 670.1L496.3 670.1L501.3 696.7L505.1 714.4L509.6 730.9L514.6 730.9L519.7 736.6L593.3 736.6L593.3 736.6L339.1 736.6Z" fill="#EF553B" fill-opacity="0.5"/>
<path d="M339.1 736.6L450.7 736.6L455.8 727.0L460.8 731.4L463.4 725.5L468.4 725.5L471.6 731.7L476.0 723.3L481.1 721.1L486.2 701.1L491.2 670.1L496.3 670.1L501.3 696.7L505.1 714.4L509.6 730.9L514.6 730.9L519.7 736.6L593.3 736.6" fill="none" stroke="#EF553B" stroke-width="7.0" stroke-linejoin="miter" stroke-miterlimit="2.2"/>
<path d="M339.1 714.4L445.0 714.4L450.7 706.0L456.4 714.4L465.9 714.4L471.6 710.1L477.3 713.2L483.0 710.4L487.4 702.7L490.6 674.5L494.4 647.9L498.8 647.9L503.9 674.5L509.6 698.7L514.6 703.6L519.7 714.2L524.1 710.6L530.5 714.4L593.3 714.4L593.3 714.4L339.1 714.4Z" fill="#FF6692" fill-opacity="0.5"/>
<path d="M339.1 714.4L445.0 714.4L450.7 706.0L456.4 714.4L465.9 714.4L471.6 710.1L477.3 713.2L483.0 710.4L487.4 702.7L490.6 674.5L494.4 647.9L498.8 647.9L503.9 674.5L509.6 698.7L514.6 703.6L519.7 714.2L524.1 710.6L530.5 714.4L593.3 714.4" fill="none" stroke="#FF6692" stroke-width="7.0" stroke-linejoin="miter" stroke-miterlimit="2.2"/>
<path d="M339.1 692.3L434.2 692.3L439.3 682.7L445.0 692.3L460.8 692.3L465.9 687.8L471.6 692.3L476.0 692.3L481.1 687.4L484.9 686.9L489.3 624.4L495.7 620.4L500.1 622.4L504.5 655.7L509.6 683.2L514.6 683.2L519.7 691.7L524.8 688.1L530.5 692.3L593.3 692.3L593.3 692.3L339.1 692.3Z" fill="#EF553B" fill-opacity="0.5"/>
<path d="M339.1 692.3L434.2 692.3L439.3 682.7L445.0 692.3L460.8 692.3L465.9 687.8L471.6 692.3L476.0 692.3L481.1 687.4L484.9 686.9L489.3 624.4L495.7 620.4L500.1 622.4L504.5 655.7L509.6 683.2L514.6 683.2L519.7 691.7L524.8 688.1L530.5 692.3L593.3 692.3" fill="none" stroke="#EF553B" stroke-width="7.0" stroke-linejoin="miter" stroke-miterlimit="2.2"/>
</g>
<g clip-path="url(#cp22)">
<rect x="622.5" y="607.9" width="283.0" height="275.6" fill="#E5ECF6"/>
<path d="M636.8 607.9V883.5M700.1 607.9V883.5M763.4 607.9V883.5M826.7 607.9V883.5M890.0 607.9V883.5" stroke="#fff" stroke-width="3.4" fill="none"/>
<path d="M622.5 803.2H905.5M622.5 714.4H905.5M622.5 625.7H905.5" stroke="#fff" stroke-width="3.4" fill="none"/>
<path d="M633.6 867.9L638.7 865.9L643.1 870.7L647.6 860.3L650.7 867.9L653.9 867.9L657.7 849.3L660.9 825.3L663.4 825.3L666.6 837.5L671.0 829.8L674.8 838.6L678.6 841.5L686.2 841.5L688.7 852.0L691.2 863.9L695.0 863.9L700.7 869.5L705.8 865.2L711.5 869.7L890.8 869.7L890.8 869.7L633.6 869.7Z" fill="#00CC96" fill-opacity="0.5"/>
<path d="M633.6 867.9L638.7 865.9L643.1 870.7L647.6 860.3L650.7 867.9L653.9 867.9L657.7 849.3L660.9 825.3L663.4 825.3L666.6 837.5L671.0 829.8L674.8 838.6L678.6 841.5L686.2 841.5L688.7 852.0L691.2 863.9L695.0 863.9L700.7 869.5L705.8 865.2L711.5 869.7L890.8 869.7" fill="none" stroke="#00CC96" stroke-width="7.0" stroke-linejoin="miter" stroke-miterlimit="2.2"/>
<path d="M633.6 845.3L638.7 842.4L643.1 846.4L647.6 846.4L652.0 842.6L657.7 846.6L662.8 843.7L668.4 848.1L672.9 845.3L676.7 831.8L681.7 786.7L687.4 786.7L689.3 794.5L692.5 790.5L695.0 792.5L700.1 812.0L703.9 831.8L707.7 842.4L711.5 847.5L890.8 847.5L890.8 847.5L633.6 847.5Z" fill="#B6E880" fill-opacity="0.5"/>
<path d="M633.6 845.3L638.7 842.4L643.1 846.4L647.6 846.4L652.0 842.6L657.7 846.6L662.8 843.7L668.4 848.1L672.9 845.3L676.7 831.8L681.7 786.7L687.4 786.7L689.3 794.5L692.5 790.5L695.0 792.5L700.1 812.0L703.9 831.8L707.7 842.4L711.5 847.5L890.8 847.5" fill="none" stroke="#B6E880" stroke-width="7.0" stroke-linejoin="miter" stroke-miterlimit="2.2"/>
<path d="M636.6 825.3L652.0 825.3L657.7 820.0L662.8 823.8L668.4 824.9L673.5 815.7L678.6 825.3L695.0 825.3L700.1 810.3L703.9 792.1L707.1 765.5L710.9 741.7L714.7 769.9L717.8 792.1L721.0 808.3L726.7 816.0L731.8 820.9L737.4 820.9L742.5 825.3L890.8 825.3L890.8 825.3L636.6 825.3Z" fill="#00CC96" fill-opacity="0.5"/>
<path d="M636.6 825.3L652.0 825.3L657.7 820.0L662.8 823.8L668.4 824.9L673.5 815.7L678.6 825.3L695.0 825.3L700.1 810.3L703.9 792.1L707.1 765.5L710.9 741.7L714.7 769.9L717.8 792.1L721.0 808.3L726.7 816.0L731.8 820.9L737.4 820.9L742.5 825.3L890.8 825.3" fill="none" stroke="#00CC96" stroke-width="7.0" stroke-linejoin="miter" stroke-miterlimit="2.2"/>
<path d="M636.6 803.2L710.9 803.2L715.9 798.5L721.0 773.0L724.2 745.5L726.7 724.2L730.5 743.3L735.5 763.2L741.2 784.8L748.8 803.2L890.8 803.2L890.8 803.2L636.6 803.2Z" fill="#B6E880" fill-opacity="0.5"/>
<path d="M636.6 803.2L710.9 803.2L715.9 798.5L721.0 773.0L724.2 745.5L726.7 724.2L730.5 743.3L735.5 763.2L741.2 784.8L748.8 803.2L890.8 803.2" fill="none" stroke="#B6E880" stroke-width="7.0" stroke-linejoin="miter" stroke-miterlimit="2.2"/>
<path d="M636.6 781.0L695.0 781.0L700.1 776.5L705.8 781.0L721.6 781.0L726.7 776.5L731.8 781.0L753.3 781.0L755.5 758.8L758.1 643.9L760.9 727.7L765.3 758.8L769.7 773.0L774.2 771.0L779.9 781.9L785.6 781.0L790.6 776.3L795.7 781.0L890.8 781.0L890.8 781.0L636.6 781.0Z" fill="#00CC96" fill-opacity="0.5"/>
<path d="M636.6 781.0L695.0 781.0L700.1 776.5L705.8 781.0L721.6 781.0L726.7 776.5L731.8 781.0L753.3 781.0L755.5 758.8L758.1 643.9L760.9 727.7L765.3 758.8L769.7 773.0L774.2 771.0L779.9 781.9L785.6 781.0L790.6 776.3L795.7 781.0L890.8 781.0" fill="none" stroke="#00CC96" stroke-width="7.0" stroke-linejoin="miter" stroke-miterlimit="2.2"/>
<path d="M636.6 758.8L748.2 758.8L753.3 754.6L759.0 758.8L768.5 758.8L774.2 754.6L780.5 759.5L785.6 759.5L795.7 750.5L800.7 753.5L804.5 730.0L807.7 701.1L811.5 675.2L815.3 703.4L818.5 730.0L822.3 747.7L828.0 758.8L890.8 758.8L890.8 758.8L636.6 758.8Z" fill="#B6E880" fill-opacity="0.5"/>
<path d="M636.6 758.8L748.2 758.8L753.3 754.6L759.0 758.8L768.5 758.8L774.2 754.6L780.5 759.5L785.6 759.5L795.7 750.5L800.7 753.5L804.5 730.0L807.7 701.1L811.5 675.2L815.3 703.4L818.5 730.0L822.3 747.7L828.0 758.8L890.8 758.8" fill="none" stroke="#B6E880" stroke-width="7.0" stroke-linejoin="miter" stroke-miterlimit="2.2"/>
<path d="M636.6 736.6L800.7 736.6L806.4 732.1L812.1 735.7L816.6 727.9L821.0 732.2L826.1 724.2L829.9 655.7L836.2 647.9L840.0 648.8L843.8 706.5L847.0 722.2L849.5 730.9L854.6 732.0L859.6 736.6L890.8 736.6L890.8 736.6L636.6 736.6Z" fill="#00CC96" fill-opacity="0.5"/>
<path d="M636.6 736.6L800.7 736.6L806.4 732.1L812.1 735.7L816.6 727.9L821.0 732.2L826.1 724.2L829.9 655.7L836.2 647.9L840.0 648.8L843.8 706.5L847.0 722.2L849.5 730.9L854.6 732.0L859.6 736.6L890.8 736.6" fill="none" stroke="#00CC96" stroke-width="7.0" stroke-linejoin="miter" stroke-miterlimit="2.2"/>
<path d="M636.6 714.4L829.2 714.4L838.1 709.6L843.8 708.5L847.0 698.7L850.1 663.4L853.5 626.4L857.1 650.1L860.2 665.6L864.7 681.2L868.5 694.5L872.3 706.5L879.9 714.4L890.8 714.4L890.8 714.4L636.6 714.4Z" fill="#B6E880" fill-opacity="0.5"/>
<path d="M636.6 714.4L829.2 714.4L838.1 709.6L843.8 708.5L847.0 698.7L850.1 663.4L853.5 626.4L857.1 650.1L860.2 665.6L864.7 681.2L868.5 694.5L872.3 706.5L879.9 714.4L890.8 714.4" fill="none" stroke="#B6E880" stroke-width="7.0" stroke-linejoin="miter" stroke-miterlimit="2.2"/>
<path d="M636.6 692.3L848.9 692.3L858.3 684.1L861.5 634.1L868.5 623.5L877.3 623.5L881.8 675.2L885.6 692.3L890.8 692.3L890.8 692.3L636.6 692.3Z" fill="#00CC96" fill-opacity="0.5"/>
<path d="M636.6 692.3L848.9 692.3L858.3 684.1L861.5 634.1L868.5 623.5L877.3 623.5L881.8 675.2L885.6 692.3L890.8 692.3" fill="none" stroke="#00CC96" stroke-width="7.0" stroke-linejoin="miter" stroke-miterlimit="2.2"/>
</g>
<g clip-path="url(#cp23)">
<rect x="920.0" y="607.9" width="283.0" height="275.6" fill="#E5ECF6"/>
<path d="M934.3 607.9V883.5M997.6 607.9V883.5M1060.9 607.9V883.5M1124.2 607.9V883.5M1187.5 607.9V883.5" stroke="#fff" stroke-width="3.4" fill="none"/>
<path d="M920.0 803.2H1203.0M920.0 714.4H1203.0M920.0 625.7H1203.0" stroke="#fff" stroke-width="3.4" fill="none"/>
<path d="M934.1 869.7L1061.5 869.7L1066.6 865.7L1072.3 869.7L1078.0 869.7L1082.4 853.3L1086.2 827.6L1090.0 803.2L1093.2 790.7L1097.0 790.7L1100.8 832.0L1104.6 859.1L1109.6 865.3L1114.7 869.1L1119.8 865.7L1124.8 869.7L1135.6 869.7L1140.7 865.7L1145.7 869.7L1188.3 869.7L1188.3 869.7L934.1 869.7Z" fill="#AB63FA" fill-opacity="0.5"/>
<path d="M934.1 869.7L1061.5 869.7L1066.6 865.7L1072.3 869.7L1078.0 869.7L1082.4 853.3L1086.2 827.6L1090.0 803.2L1093.2 790.7L1097.0 790.7L1100.8 832.0L1104.6 859.1L1109.6 865.3L1114.7 869.1L1119.8 865.7L1124.8 869.7L1135.6 869.7L1140.7 865.7L1145.7 869.7L1188.3 869.7" fill="none" stroke="#AB63FA" stroke-width="7.0" stroke-linejoin="miter" stroke-miterlimit="2.2"/>
<path d="M934.1 847.5L1061.5 847.5L1066.6 842.4L1072.3 842.4L1075.5 816.5L1079.9 787.6L1083.7 781.0L1087.5 803.2L1091.9 831.8L1097.6 837.5L1104.6 842.4L1109.6 842.4L1115.3 848.4L1119.8 848.4L1124.8 843.5L1130.5 847.5L1188.3 847.5L1188.3 847.5L934.1 847.5Z" fill="#FF97FF" fill-opacity="0.5"/>
<path d="M934.1 847.5L1061.5 847.5L1066.6 842.4L1072.3 842.4L1075.5 816.5L1079.9 787.6L1083.7 781.0L1087.5 803.2L1091.9 831.8L1097.6 837.5L1104.6 842.4L1109.6 842.4L1115.3 848.4L1119.8 848.4L1124.8 843.5L1130.5 847.5L1188.3 847.5" fill="none" stroke="#FF97FF" stroke-width="7.0" stroke-linejoin="miter" stroke-miterlimit="2.2"/>
<path d="M934.1 825.3L1056.5 825.3L1061.5 817.1L1067.2 812.0L1069.8 785.4L1073.6 763.2L1077.4 767.7L1079.9 789.9L1082.4 806.3L1091.9 816.0L1097.6 823.7L1103.9 821.2L1109.6 824.1L1114.7 821.2L1119.8 825.3L1188.3 825.3L1188.3 825.3L934.1 825.3Z" fill="#AB63FA" fill-opacity="0.5"/>
<path d="M934.1 825.3L1056.5 825.3L1061.5 817.1L1067.2 812.0L1069.8 785.4L1073.6 763.2L1077.4 767.7L1079.9 789.9L1082.4 806.3L1091.9 816.0L1097.6 823.7L1103.9 821.2L1109.6 824.1L1114.7 821.2L1119.8 825.3L1188.3 825.3" fill="none" stroke="#AB63FA" stroke-width="7.0" stroke-linejoin="miter" stroke-miterlimit="2.2"/>
<path d="M934.1 803.2L1045.7 803.2L1051.4 798.5L1054.6 797.4L1057.7 772.1L1062.2 745.5L1066.0 736.6L1070.4 745.5L1074.8 763.2L1079.3 783.2L1082.4 798.5L1086.9 792.4L1089.4 798.7L1092.5 793.9L1098.9 803.2L1188.3 803.2L1188.3 803.2L934.1 803.2Z" fill="#FF97FF" fill-opacity="0.5"/>
<path d="M934.1 803.2L1045.7 803.2L1051.4 798.5L1054.6 797.4L1057.7 772.1L1062.2 745.5L1066.0 736.6L1070.4 745.5L1074.8 763.2L1079.3 783.2L1082.4 798.5L1086.9 792.4L1089.4 798.7L1092.5 793.9L1098.9 803.2L1188.3 803.2" fill="none" stroke="#FF97FF" stroke-width="7.0" stroke-linejoin="miter" stroke-miterlimit="2.2"/>
<path d="M934.1 781.0L1024.2 781.0L1029.9 775.9L1034.9 775.9L1040.6 781.0L1045.7 781.0L1048.9 769.0L1052.0 741.1L1055.2 718.9L1059.0 718.9L1061.5 763.2L1066.6 775.0L1073.2 775.9L1075.9 732.2L1078.6 781.0L1188.3 781.0L1188.3 781.0L934.1 781.0Z" fill="#AB63FA" fill-opacity="0.5"/>
<path d="M934.1 781.0L1024.2 781.0L1029.9 775.9L1034.9 775.9L1040.6 781.0L1045.7 781.0L1048.9 769.0L1052.0 741.1L1055.2 718.9L1059.0 718.9L1061.5 763.2L1066.6 775.0L1073.2 775.9L1075.9 732.2L1078.6 781.0L1188.3 781.0" fill="none" stroke="#AB63FA" stroke-width="7.0" stroke-linejoin="miter" stroke-miterlimit="2.2"/>
<path d="M934.1 758.8L1003.3 758.8L1007.7 754.6L1013.4 758.9L1018.5 755.5L1021.7 734.0L1025.5 710.0L1029.2 701.1L1033.0 707.8L1036.8 723.3L1041.3 738.0L1047.0 747.7L1051.4 751.5L1056.5 755.5L1061.5 745.7L1064.1 745.5L1066.9 701.1L1069.8 752.1L1072.3 758.8L1188.3 758.8L1188.3 758.8L934.1 758.8Z" fill="#FF97FF" fill-opacity="0.5"/>
<path d="M934.1 758.8L1003.3 758.8L1007.7 754.6L1013.4 758.9L1018.5 755.5L1021.7 734.0L1025.5 710.0L1029.2 701.1L1033.0 707.8L1036.8 723.3L1041.3 738.0L1047.0 747.7L1051.4 751.5L1056.5 755.5L1061.5 745.7L1064.1 745.5L1066.9 701.1L1069.8 752.1L1072.3 758.8L1188.3 758.8" fill="none" stroke="#FF97FF" stroke-width="7.0" stroke-linejoin="miter" stroke-miterlimit="2.2"/>
<path d="M934.1 736.6L991.9 736.6L997.6 731.9L1000.8 735.7L1005.8 734.0L1008.4 710.0L1012.8 679.0L1016.6 672.3L1020.4 683.4L1022.3 706.5L1024.2 722.2L1029.9 730.9L1040.0 730.9L1045.7 727.0L1048.9 731.9L1051.4 724.8L1056.5 730.0L1061.5 736.6L1188.3 736.6L1188.3 736.6L934.1 736.6Z" fill="#AB63FA" fill-opacity="0.5"/>
<path d="M934.1 736.6L991.9 736.6L997.6 731.9L1000.8 735.7L1005.8 734.0L1008.4 710.0L1012.8 679.0L1016.6 672.3L1020.4 683.4L1022.3 706.5L1024.2 722.2L1029.9 730.9L1040.0 730.9L1045.7 727.0L1048.9 731.9L1051.4 724.8L1056.5 730.0L1061.5 736.6L1188.3 736.6" fill="none" stroke="#AB63FA" stroke-width="7.0" stroke-linejoin="miter" stroke-miterlimit="2.2"/>
<path d="M934.1 714.4L982.4 714.4L987.5 710.6L990.0 713.0L993.2 707.8L996.3 674.5L1000.8 643.5L1004.9 639.0L1009.6 675.2L1013.4 698.7L1019.1 708.5L1024.2 711.2L1029.9 702.0L1034.9 706.5L1039.4 710.4L1045.7 705.1L1051.4 712.4L1056.5 714.4L1064.1 714.4L1066.9 688.9L1069.8 714.4L1188.3 714.4L1188.3 714.4L934.1 714.4Z" fill="#FF97FF" fill-opacity="0.5"/>
<path d="M934.1 714.4L982.4 714.4L987.5 710.6L990.0 713.0L993.2 707.8L996.3 674.5L1000.8 643.5L1004.9 639.0L1009.6 675.2L1013.4 698.7L1019.1 708.5L1024.2 711.2L1029.9 702.0L1034.9 706.5L1039.4 710.4L1045.7 705.1L1051.4 712.4L1056.5 714.4L1064.1 714.4L1066.9 688.9L1069.8 714.4L1188.3 714.4" fill="none" stroke="#FF97FF" stroke-width="7.0" stroke-linejoin="miter" stroke-miterlimit="2.2"/>
<path d="M934.1 692.3L971.6 692.3L976.7 684.1L986.2 675.2L991.3 647.9L994.4 637.9L997.6 634.6L1001.4 639.0L1005.8 665.6L1009.0 683.2L1012.8 688.6L1016.0 671.4L1019.1 669.4L1021.7 679.0L1024.2 676.3L1029.9 689.7L1034.9 686.9L1040.6 686.9L1045.7 692.3L1053.4 692.3L1056.2 622.4L1058.9 692.3L1188.3 692.3L1188.3 692.3L934.1 692.3Z" fill="#AB63FA" fill-opacity="0.5"/>
<path d="M934.1 692.3L971.6 692.3L976.7 684.1L986.2 675.2L991.3 647.9L994.4 637.9L997.6 634.6L1001.4 639.0L1005.8 665.6L1009.0 683.2L1012.8 688.6L1016.0 671.4L1019.1 669.4L1021.7 679.0L1024.2 676.3L1029.9 689.7L1034.9 686.9L1040.6 686.9L1045.7 692.3L1053.4 692.3L1056.2 622.4L1058.9 692.3L1188.3 692.3" fill="none" stroke="#AB63FA" stroke-width="7.0" stroke-linejoin="miter" stroke-miterlimit="2.2"/>
</g>
<g clip-path="url(#cp24)">
<rect x="1217.5" y="607.9" width="283.0" height="275.6" fill="#E5ECF6"/>
<path d="M1231.8 607.9V883.5M1295.1 607.9V883.5M1358.4 607.9V883.5M1421.7 607.9V883.5M1485.0 607.9V883.5" stroke="#fff" stroke-width="3.4" fill="none"/>
<path d="M1217.5 803.2H1500.5M1217.5 714.4H1500.5M1217.5 625.7H1500.5" stroke="#fff" stroke-width="3.4" fill="none"/>
<path d="M1231.6 869.7L1332.4 869.7L1343.2 861.0L1348.3 849.3L1352.1 825.3L1355.9 803.2L1359.7 812.0L1363.5 838.6L1367.3 859.1L1371.1 865.0L1375.5 865.0L1380.6 861.2L1386.3 869.7L1485.8 869.7L1485.8 869.7L1231.6 869.7Z" fill="#FFA15A" fill-opacity="0.5"/>
<path d="M1231.6 869.7L1332.4 869.7L1343.2 861.0L1348.3 849.3L1352.1 825.3L1355.9 803.2L1359.7 812.0L1363.5 838.6L1367.3 859.1L1371.1 865.0L1375.5 865.0L1380.6 861.2L1386.3 869.7L1485.8 869.7" fill="none" stroke="#FFA15A" stroke-width="7.0" stroke-linejoin="miter" stroke-miterlimit="2.2"/>
<path d="M1231.6 847.5L1332.4 847.5L1337.5 842.4L1341.9 842.4L1345.7 827.8L1350.2 803.2L1354.6 781.0L1358.4 785.4L1362.2 812.0L1365.4 831.8L1370.4 842.4L1379.9 842.4L1385.6 847.5L1485.8 847.5L1485.8 847.5L1231.6 847.5Z" fill="#FECB52" fill-opacity="0.5"/>
<path d="M1231.6 847.5L1332.4 847.5L1337.5 842.4L1341.9 842.4L1345.7 827.8L1350.2 803.2L1354.6 781.0L1358.4 785.4L1362.2 812.0L1365.4 831.8L1370.4 842.4L1379.9 842.4L1385.6 847.5L1485.8 847.5" fill="none" stroke="#FECB52" stroke-width="7.0" stroke-linejoin="miter" stroke-miterlimit="2.2"/>
<path d="M1231.6 825.3L1337.5 825.3L1341.9 808.3L1345.7 810.3L1349.5 798.7L1353.3 767.7L1357.1 758.8L1361.6 776.5L1366.0 800.9L1370.4 823.8L1375.5 825.3L1379.9 820.8L1385.6 825.3L1485.8 825.3L1485.8 825.3L1231.6 825.3Z" fill="#FFA15A" fill-opacity="0.5"/>
<path d="M1231.6 825.3L1337.5 825.3L1341.9 808.3L1345.7 810.3L1349.5 798.7L1353.3 767.7L1357.1 758.8L1361.6 776.5L1366.0 800.9L1370.4 823.8L1375.5 825.3L1379.9 820.8L1385.6 825.3L1485.8 825.3" fill="none" stroke="#FFA15A" stroke-width="7.0" stroke-linejoin="miter" stroke-miterlimit="2.2"/>
<path d="M1231.6 803.2L1337.5 803.2L1343.2 796.5L1347.0 784.8L1350.8 758.8L1355.2 736.6L1359.7 741.1L1364.1 763.2L1367.9 783.2L1371.1 800.5L1375.5 803.1L1379.9 798.7L1385.6 803.2L1485.8 803.2L1485.8 803.2L1231.6 803.2Z" fill="#FECB52" fill-opacity="0.5"/>
<path d="M1231.6 803.2L1337.5 803.2L1343.2 796.5L1347.0 784.8L1350.8 758.8L1355.2 736.6L1359.7 741.1L1364.1 763.2L1367.9 783.2L1371.1 800.5L1375.5 803.1L1379.9 798.7L1385.6 803.2L1485.8 803.2" fill="none" stroke="#FECB52" stroke-width="7.0" stroke-linejoin="miter" stroke-miterlimit="2.2"/>
<path d="M1231.6 781.0L1337.5 781.0L1345.7 773.9L1348.3 761.2L1352.1 732.2L1355.9 714.4L1360.3 723.3L1364.7 745.5L1369.2 761.2L1375.5 781.0L1385.6 781.0L1390.7 776.3L1396.4 781.0L1485.8 781.0L1485.8 781.0L1231.6 781.0Z" fill="#FFA15A" fill-opacity="0.5"/>
<path d="M1231.6 781.0L1337.5 781.0L1345.7 773.9L1348.3 761.2L1352.1 732.2L1355.9 714.4L1360.3 723.3L1364.7 745.5L1369.2 761.2L1375.5 781.0L1385.6 781.0L1390.7 776.3L1396.4 781.0L1485.8 781.0" fill="none" stroke="#FFA15A" stroke-width="7.0" stroke-linejoin="miter" stroke-miterlimit="2.2"/>
<path d="M1231.6 758.8L1343.2 758.8L1347.0 755.5L1349.5 727.7L1354.0 692.3L1359.0 692.3L1364.1 718.9L1369.2 741.1L1373.0 755.5L1375.5 758.3L1379.9 754.0L1385.6 758.8L1485.8 758.8L1485.8 758.8L1231.6 758.8Z" fill="#FECB52" fill-opacity="0.5"/>
<path d="M1231.6 758.8L1343.2 758.8L1347.0 755.5L1349.5 727.7L1354.0 692.3L1359.0 692.3L1364.1 718.9L1369.2 741.1L1373.0 755.5L1375.5 758.3L1379.9 754.0L1385.6 758.8L1485.8 758.8" fill="none" stroke="#FECB52" stroke-width="7.0" stroke-linejoin="miter" stroke-miterlimit="2.2"/>
<path d="M1231.6 736.6L1337.5 736.6L1343.2 732.0L1347.0 732.0L1349.5 701.1L1354.0 670.1L1358.4 670.1L1363.5 696.7L1369.2 720.2L1375.5 736.6L1485.8 736.6L1485.8 736.6L1231.6 736.6Z" fill="#FFA15A" fill-opacity="0.5"/>
<path d="M1231.6 736.6L1337.5 736.6L1343.2 732.0L1347.0 732.0L1349.5 701.1L1354.0 670.1L1358.4 670.1L1363.5 696.7L1369.2 720.2L1375.5 736.6L1485.8 736.6" fill="none" stroke="#FFA15A" stroke-width="7.0" stroke-linejoin="miter" stroke-miterlimit="2.2"/>
<path d="M1231.6 714.4L1332.4 714.4L1337.5 709.6L1343.2 709.6L1345.7 683.4L1350.2 656.8L1354.6 647.9L1359.0 656.8L1364.7 679.0L1371.1 696.7L1375.5 708.5L1379.9 714.4L1485.8 714.4L1485.8 714.4L1231.6 714.4Z" fill="#FECB52" fill-opacity="0.5"/>
<path d="M1231.6 714.4L1332.4 714.4L1337.5 709.6L1343.2 709.6L1345.7 683.4L1350.2 656.8L1354.6 647.9L1359.0 656.8L1364.7 679.0L1371.1 696.7L1375.5 708.5L1379.9 714.4L1485.8 714.4" fill="none" stroke="#FECB52" stroke-width="7.0" stroke-linejoin="miter" stroke-miterlimit="2.2"/>
<path d="M1231.6 692.3L1322.3 692.3L1327.4 688.5L1333.1 691.9L1336.9 667.4L1341.9 673.2L1344.5 665.6L1347.6 633.3L1351.4 629.7L1355.2 631.9L1359.7 661.7L1367.3 677.2L1375.5 692.3L1485.8 692.3L1485.8 692.3L1231.6 692.3Z" fill="#FFA15A" fill-opacity="0.5"/>
<path d="M1231.6 692.3L1322.3 692.3L1327.4 688.5L1333.1 691.9L1336.9 667.4L1341.9 673.2L1344.5 665.6L1347.6 633.3L1351.4 629.7L1355.2 631.9L1359.7 661.7L1367.3 677.2L1375.5 692.3L1485.8 692.3" fill="none" stroke="#FFA15A" stroke-width="7.0" stroke-linejoin="miter" stroke-miterlimit="2.2"/>
</g>
<g clip-path="url(#cp30)">
<rect x="27.5" y="897.6" width="283.0" height="275.6" fill="#E5ECF6"/>
<path d="M41.8 897.6V1173.2M105.1 897.6V1173.2M168.4 897.6V1173.2M231.7 897.6V1173.2M295.0 897.6V1173.2" stroke="#fff" stroke-width="3.4" fill="none"/>
<path d="M27.5 1159.2H310.5M27.5 1141.0H310.5M27.5 1122.8H310.5M27.5 1104.6H310.5M27.5 1086.4H310.5M27.5 1068.2H310.5M27.5 1049.9H310.5M27.5 1031.7H310.5M27.5 1013.5H310.5" stroke="#fff" stroke-width="3.4" fill="none"/>
<path d="M41.6 1159.2L110.8 1159.2L115.9 1155.1L120.9 1158.8L126.0 1155.1L131.7 1159.2L138.0 1159.2L142.4 1151.9L151.3 1151.9L155.1 1133.7L159.5 1100.9L164.0 1086.4L168.4 1104.6L172.8 1130.1L177.3 1142.8L180.4 1151.0L189.9 1159.2L200.7 1159.2L206.4 1155.1L211.4 1159.2L295.8 1159.2L295.8 1159.2L41.6 1159.2Z" fill="#19D3F3" fill-opacity="0.5"/>
<path d="M41.6 1159.2L110.8 1159.2L115.9 1155.1L120.9 1158.8L126.0 1155.1L131.7 1159.2L138.0 1159.2L142.4 1151.9L151.3 1151.9L155.1 1133.7L159.5 1100.9L164.0 1086.4L168.4 1104.6L172.8 1130.1L177.3 1142.8L180.4 1151.0L189.9 1159.2L200.7 1159.2L206.4 1155.1L211.4 1159.2L295.8 1159.2" fill="none" stroke="#19D3F3" stroke-width="7.0" stroke-linejoin="miter" stroke-miterlimit="2.2"/>
<path d="M41.6 1141.0L115.9 1141.0L120.9 1136.9L126.0 1140.5L131.7 1137.7L136.8 1140.5L147.5 1133.3L153.2 1133.3L156.4 1111.9L160.2 1079.1L164.0 1068.2L167.8 1097.3L171.6 1119.1L174.7 1129.5L179.2 1133.3L184.9 1141.0L200.7 1141.0L206.4 1136.9L211.4 1141.0L295.8 1141.0L295.8 1141.0L41.6 1141.0Z" fill="#636EFA" fill-opacity="0.5"/>
<path d="M41.6 1141.0L115.9 1141.0L120.9 1136.9L126.0 1140.5L131.7 1137.7L136.8 1140.5L147.5 1133.3L153.2 1133.3L156.4 1111.9L160.2 1079.1L164.0 1068.2L167.8 1097.3L171.6 1119.1L174.7 1129.5L179.2 1133.3L184.9 1141.0L200.7 1141.0L206.4 1136.9L211.4 1141.0L295.8 1141.0" fill="none" stroke="#636EFA" stroke-width="7.0" stroke-linejoin="miter" stroke-miterlimit="2.2"/>
<path d="M41.6 1122.8L120.9 1122.8L126.0 1118.9L132.3 1122.6L136.8 1116.2L142.4 1122.3L147.5 1114.8L153.2 1114.8L157.0 1093.6L160.8 1057.2L164.6 1040.8L168.4 1075.4L173.5 1100.9L179.2 1111.9L184.9 1122.8L195.6 1122.8L200.7 1118.5L206.4 1122.8L295.8 1122.8L295.8 1122.8L41.6 1122.8Z" fill="#19D3F3" fill-opacity="0.5"/>
<path d="M41.6 1122.8L120.9 1122.8L126.0 1118.9L132.3 1122.6L136.8 1116.2L142.4 1122.3L147.5 1114.8L153.2 1114.8L157.0 1093.6L160.8 1057.2L164.6 1040.8L168.4 1075.4L173.5 1100.9L179.2 1111.9L184.9 1122.8L195.6 1122.8L200.7 1118.5L206.4 1122.8L295.8 1122.8" fill="none" stroke="#19D3F3" stroke-width="7.0" stroke-linejoin="miter" stroke-miterlimit="2.2"/>
<path d="M41.6 1104.6L126.0 1104.6L136.8 1098.0L142.4 1103.7L147.5 1093.5L153.2 1097.3L157.0 1060.9L160.8 1022.6L164.6 1046.3L168.4 1079.1L174.7 1098.2L179.2 1103.1L189.9 1104.6L195.6 1100.3L200.7 1104.6L295.8 1104.6L295.8 1104.6L41.6 1104.6Z" fill="#636EFA" fill-opacity="0.5"/>
<path d="M41.6 1104.6L126.0 1104.6L136.8 1098.0L142.4 1103.7L147.5 1093.5L153.2 1097.3L157.0 1060.9L160.8 1022.6L164.6 1046.3L168.4 1079.1L174.7 1098.2L179.2 1103.1L189.9 1104.6L195.6 1100.3L200.7 1104.6L295.8 1104.6" fill="none" stroke="#636EFA" stroke-width="7.0" stroke-linejoin="miter" stroke-miterlimit="2.2"/>
<path d="M41.6 1086.4L115.9 1086.4L120.9 1082.7L126.0 1086.4L131.7 1086.4L136.8 1081.6L142.4 1081.6L148.1 1086.4L153.8 1086.4L158.3 1074.9L160.8 1031.7L164.0 991.7L166.8 1017.2L169.7 1042.7L172.8 1068.2L175.4 1082.2L179.2 1078.4L184.9 1086.4L195.6 1086.4L200.7 1082.2L206.4 1086.4L295.8 1086.4L295.8 1086.4L41.6 1086.4Z" fill="#19D3F3" fill-opacity="0.5"/>
<path d="M41.6 1086.4L115.9 1086.4L120.9 1082.7L126.0 1086.4L131.7 1086.4L136.8 1081.6L142.4 1081.6L148.1 1086.4L153.8 1086.4L158.3 1074.9L160.8 1031.7L164.0 991.7L166.8 1017.2L169.7 1042.7L172.8 1068.2L175.4 1082.2L179.2 1078.4L184.9 1086.4L195.6 1086.4L200.7 1082.2L206.4 1086.4L295.8 1086.4" fill="none" stroke="#19D3F3" stroke-width="7.0" stroke-linejoin="miter" stroke-miterlimit="2.2"/>
<path d="M41.6 1068.2L115.9 1068.2L120.9 1064.2L126.0 1067.4L131.7 1064.0L136.8 1064.0L142.4 1068.2L153.2 1053.2L157.0 1013.5L160.8 986.2L164.6 1013.5L168.4 1053.2L171.6 1063.1L174.7 1068.9L179.2 1068.2L184.9 1064.2L189.9 1068.2L295.8 1068.2L295.8 1068.2L41.6 1068.2Z" fill="#636EFA" fill-opacity="0.5"/>
<path d="M41.6 1068.2L115.9 1068.2L120.9 1064.2L126.0 1067.4L131.7 1064.0L136.8 1064.0L142.4 1068.2L153.2 1053.2L157.0 1013.5L160.8 986.2L164.6 1013.5L168.4 1053.2L171.6 1063.1L174.7 1068.9L179.2 1068.2L184.9 1064.2L189.9 1068.2L295.8 1068.2" fill="none" stroke="#636EFA" stroke-width="7.0" stroke-linejoin="miter" stroke-miterlimit="2.2"/>
<path d="M41.6 1049.9L115.9 1049.9L120.9 1045.7L126.0 1049.6L131.7 1045.4L136.8 1045.4L142.4 1042.4L146.2 1045.4L150.7 1020.8L154.5 988.0L157.0 969.8L159.2 955.2L162.1 977.1L164.6 995.3L168.4 1024.4L171.6 1035.4L174.7 1047.4L179.2 1049.2L184.9 1045.7L189.9 1049.9L295.8 1049.9L295.8 1049.9L41.6 1049.9Z" fill="#19D3F3" fill-opacity="0.5"/>
<path d="M41.6 1049.9L115.9 1049.9L120.9 1045.7L126.0 1049.6L131.7 1045.4L136.8 1045.4L142.4 1042.4L146.2 1045.4L150.7 1020.8L154.5 988.0L157.0 969.8L159.2 955.2L162.1 977.1L164.6 995.3L168.4 1024.4L171.6 1035.4L174.7 1047.4L179.2 1049.2L184.9 1045.7L189.9 1049.9L295.8 1049.9" fill="none" stroke="#19D3F3" stroke-width="7.0" stroke-linejoin="miter" stroke-miterlimit="2.2"/>
<path d="M41.6 1031.7L110.8 1031.7L115.9 1026.8L120.9 1026.8L126.0 1031.7L131.7 1031.7L134.2 1021.9L138.0 1021.9L140.5 1030.8L144.3 1030.8L148.1 1006.2L152.6 973.5L157.0 968.0L160.8 988.0L164.6 1009.9L168.4 1025.9L174.7 1031.7L184.9 1031.7L189.9 1027.9L195.6 1031.7L295.8 1031.7L295.8 1031.7L41.6 1031.7Z" fill="#636EFA" fill-opacity="0.5"/>
<path d="M41.6 1031.7L110.8 1031.7L115.9 1026.8L120.9 1026.8L126.0 1031.7L131.7 1031.7L134.2 1021.9L138.0 1021.9L140.5 1030.8L144.3 1030.8L148.1 1006.2L152.6 973.5L157.0 968.0L160.8 988.0L164.6 1009.9L168.4 1025.9L174.7 1031.7L184.9 1031.7L189.9 1027.9L195.6 1031.7L295.8 1031.7" fill="none" stroke="#636EFA" stroke-width="7.0" stroke-linejoin="miter" stroke-miterlimit="2.2"/>
<path d="M41.6 1013.5L100.0 1013.5L105.1 1009.1L110.8 1009.1L116.5 1013.5L120.9 1013.5L126.0 1006.4L132.3 1011.9L138.0 996.6L145.0 978.9L149.4 958.9L153.0 944.7L155.7 955.2L159.5 977.1L164.0 992.6L165.9 1002.6L169.7 1012.1L174.7 1013.5L184.9 1013.5L189.9 1009.4L195.6 1013.5L295.8 1013.5L295.8 1013.5L41.6 1013.5Z" fill="#19D3F3" fill-opacity="0.5"/>
<path d="M41.6 1013.5L100.0 1013.5L105.1 1009.1L110.8 1009.1L116.5 1013.5L120.9 1013.5L126.0 1006.4L132.3 1011.9L138.0 996.6L145.0 978.9L149.4 958.9L153.0 944.7L155.7 955.2L159.5 977.1L164.0 992.6L165.9 1002.6L169.7 1012.1L174.7 1013.5L184.9 1013.5L189.9 1009.4L195.6 1013.5L295.8 1013.5" fill="none" stroke="#19D3F3" stroke-width="7.0" stroke-linejoin="miter" stroke-miterlimit="2.2"/>
</g>
<g clip-path="url(#cp31)">
<rect x="325.0" y="897.6" width="283.0" height="275.6" fill="#E5ECF6"/>
<path d="M339.3 897.6V1173.2M402.6 897.6V1173.2M465.9 897.6V1173.2M529.2 897.6V1173.2M592.5 897.6V1173.2" stroke="#fff" stroke-width="3.4" fill="none"/>
<path d="M325.0 1141.0H608.0M325.0 1068.2H608.0M325.0 995.3H608.0M325.0 922.5H608.0" stroke="#fff" stroke-width="3.4" fill="none"/>
<path d="M339.1 1159.2L445.0 1159.2L450.7 1155.1L455.8 1159.2L466.5 1159.2L471.6 1155.1L477.3 1159.2L482.4 1159.2L487.4 1155.1L492.5 1159.2L498.8 1159.2L503.9 1155.0L507.7 1145.2L511.5 1145.2L514.6 1155.0L519.7 1142.8L524.1 1133.3L530.5 1133.3L534.3 1124.6L538.1 1133.3L543.8 1143.2L548.2 1148.3L552.0 1153.9L556.4 1153.9L561.5 1159.2L593.3 1159.2L593.3 1159.2L339.1 1159.2Z" fill="#FF6692" fill-opacity="0.5"/>
<path d="M339.1 1159.2L445.0 1159.2L450.7 1155.1L455.8 1159.2L466.5 1159.2L471.6 1155.1L477.3 1159.2L482.4 1159.2L487.4 1155.1L492.5 1159.2L498.8 1159.2L503.9 1155.0L507.7 1145.2L511.5 1145.2L514.6 1155.0L519.7 1142.8L524.1 1133.3L530.5 1133.3L534.3 1124.6L538.1 1133.3L543.8 1143.2L548.2 1148.3L552.0 1153.9L556.4 1153.9L561.5 1159.2L593.3 1159.2" fill="none" stroke="#FF6692" stroke-width="7.0" stroke-linejoin="miter" stroke-miterlimit="2.2"/>
<path d="M339.1 1141.0L450.7 1141.0L455.8 1136.6L461.5 1142.3L466.5 1141.0L471.6 1136.6L477.3 1142.3L482.4 1141.0L487.4 1136.6L492.5 1140.8L497.6 1137.3L502.0 1125.5L505.8 1125.5L508.3 1138.6L510.8 1137.3L514.0 1115.5L517.8 1104.6L521.6 1100.2L527.3 1100.2L532.4 1111.9L536.2 1124.6L540.0 1133.3L545.7 1140.8L550.7 1136.6L556.4 1141.0L593.3 1141.0L593.3 1141.0L339.1 1141.0Z" fill="#EF553B" fill-opacity="0.5"/>
<path d="M339.1 1141.0L450.7 1141.0L455.8 1136.6L461.5 1142.3L466.5 1141.0L471.6 1136.6L477.3 1142.3L482.4 1141.0L487.4 1136.6L492.5 1140.8L497.6 1137.3L502.0 1125.5L505.8 1125.5L508.3 1138.6L510.8 1137.3L514.0 1115.5L517.8 1104.6L521.6 1100.2L527.3 1100.2L532.4 1111.9L536.2 1124.6L540.0 1133.3L545.7 1140.8L550.7 1136.6L556.4 1141.0L593.3 1141.0" fill="none" stroke="#EF553B" stroke-width="7.0" stroke-linejoin="miter" stroke-miterlimit="2.2"/>
<path d="M339.1 1122.8L450.7 1122.8L455.8 1115.8L460.8 1122.8L466.5 1120.8L471.6 1118.5L477.3 1121.6L483.0 1119.7L487.4 1122.2L491.2 1111.9L496.9 1102.2L502.0 1091.8L507.0 1086.4L512.1 1090.0L516.5 1095.5L521.0 1106.4L524.1 1121.0L527.3 1121.7L534.3 1118.7L540.0 1122.8L593.3 1122.8L593.3 1122.8L339.1 1122.8Z" fill="#FF6692" fill-opacity="0.5"/>
<path d="M339.1 1122.8L450.7 1122.8L455.8 1115.8L460.8 1122.8L466.5 1120.8L471.6 1118.5L477.3 1121.6L483.0 1119.7L487.4 1122.2L491.2 1111.9L496.9 1102.2L502.0 1091.8L507.0 1086.4L512.1 1090.0L516.5 1095.5L521.0 1106.4L524.1 1121.0L527.3 1121.7L534.3 1118.7L540.0 1122.8L593.3 1122.8" fill="none" stroke="#FF6692" stroke-width="7.0" stroke-linejoin="miter" stroke-miterlimit="2.2"/>
<path d="M339.1 1104.6L456.4 1104.6L461.5 1097.3L465.9 1104.3L471.6 1100.2L477.3 1100.2L483.0 1102.2L489.3 1100.2L493.8 1086.4L497.6 1062.7L500.7 1039.0L505.1 1035.7L509.6 1049.9L512.7 1072.7L515.3 1100.2L524.8 1100.2L529.8 1104.6L593.3 1104.6L593.3 1104.6L339.1 1104.6Z" fill="#EF553B" fill-opacity="0.5"/>
<path d="M339.1 1104.6L456.4 1104.6L461.5 1097.3L465.9 1104.3L471.6 1100.2L477.3 1100.2L483.0 1102.2L489.3 1100.2L493.8 1086.4L497.6 1062.7L500.7 1039.0L505.1 1035.7L509.6 1049.9L512.7 1072.7L515.3 1100.2L524.8 1100.2L529.8 1104.6L593.3 1104.6" fill="none" stroke="#EF553B" stroke-width="7.0" stroke-linejoin="miter" stroke-miterlimit="2.2"/>
<path d="M339.1 1086.4L414.0 1086.4L418.4 1082.7L424.1 1085.7L429.2 1082.7L434.9 1086.4L450.7 1086.4L456.4 1080.7L460.2 1060.9L464.0 1031.7L467.8 1031.7L471.6 1053.6L475.4 1073.6L477.3 1082.2L479.2 1076.7L483.0 1076.7L487.4 1085.7L492.5 1082.7L497.6 1086.4L593.3 1086.4L593.3 1086.4L339.1 1086.4Z" fill="#FF6692" fill-opacity="0.5"/>
<path d="M339.1 1086.4L414.0 1086.4L418.4 1082.7L424.1 1085.7L429.2 1082.7L434.9 1086.4L450.7 1086.4L456.4 1080.7L460.2 1060.9L464.0 1031.7L467.8 1031.7L471.6 1053.6L475.4 1073.6L477.3 1082.2L479.2 1076.7L483.0 1076.7L487.4 1085.7L492.5 1082.7L497.6 1086.4L593.3 1086.4" fill="none" stroke="#FF6692" stroke-width="7.0" stroke-linejoin="miter" stroke-miterlimit="2.2"/>
<path d="M339.1 1068.2L414.0 1068.2L418.4 1063.1L424.1 1063.1L429.2 1068.2L445.0 1068.2L450.1 1060.5L455.1 1065.1L458.3 1040.8L462.1 1013.5L465.9 1013.5L469.7 1033.6L473.5 1049.4L479.2 1061.0L487.4 1068.2L593.3 1068.2L593.3 1068.2L339.1 1068.2Z" fill="#EF553B" fill-opacity="0.5"/>
<path d="M339.1 1068.2L414.0 1068.2L418.4 1063.1L424.1 1063.1L429.2 1068.2L445.0 1068.2L450.1 1060.5L455.1 1065.1L458.3 1040.8L462.1 1013.5L465.9 1013.5L469.7 1033.6L473.5 1049.4L479.2 1061.0L487.4 1068.2L593.3 1068.2" fill="none" stroke="#EF553B" stroke-width="7.0" stroke-linejoin="miter" stroke-miterlimit="2.2"/>
<path d="M339.1 1049.9L402.6 1049.9L408.3 1045.4L414.0 1045.4L418.4 1049.9L434.2 1049.9L439.9 1046.1L445.0 1049.5L448.8 1039.6L452.0 1017.2L456.4 991.7L460.8 991.7L465.3 1017.2L470.3 1039.0L473.5 1047.4L476.7 1042.8L482.4 1049.9L593.3 1049.9L593.3 1049.9L339.1 1049.9Z" fill="#FF6692" fill-opacity="0.5"/>
<path d="M339.1 1049.9L402.6 1049.9L408.3 1045.4L414.0 1045.4L418.4 1049.9L434.2 1049.9L439.9 1046.1L445.0 1049.5L448.8 1039.6L452.0 1017.2L456.4 991.7L460.8 991.7L465.3 1017.2L470.3 1039.0L473.5 1047.4L476.7 1042.8L482.4 1049.9L593.3 1049.9" fill="none" stroke="#FF6692" stroke-width="7.0" stroke-linejoin="miter" stroke-miterlimit="2.2"/>
<path d="M339.1 1031.7L387.4 1031.7L392.5 1027.9L397.5 1030.9L402.6 1027.9L408.3 1031.7L434.2 1031.7L439.3 1024.1L444.4 1027.9L448.2 1009.9L453.2 988.0L459.6 977.1L463.4 973.5L466.5 970.2L469.7 980.7L471.6 1004.4L472.2 1030.3L477.3 1027.9L483.0 1031.7L593.3 1031.7L593.3 1031.7L339.1 1031.7Z" fill="#EF553B" fill-opacity="0.5"/>
<path d="M339.1 1031.7L387.4 1031.7L392.5 1027.9L397.5 1030.9L402.6 1027.9L408.3 1031.7L434.2 1031.7L439.3 1024.1L444.4 1027.9L448.2 1009.9L453.2 988.0L459.6 977.1L463.4 973.5L466.5 970.2L469.7 980.7L471.6 1004.4L472.2 1030.3L477.3 1027.9L483.0 1031.7L593.3 1031.7" fill="none" stroke="#EF553B" stroke-width="7.0" stroke-linejoin="miter" stroke-miterlimit="2.2"/>
<path d="M339.1 1013.5L387.4 1013.5L392.5 1008.6L397.5 1008.6L402.6 1013.5L424.1 1013.5L429.2 1009.1L439.3 1009.1L444.4 1002.4L448.2 984.7L452.0 958.9L455.8 933.9L459.6 958.9L462.7 984.7L466.5 1002.4L471.6 1010.2L477.3 1013.5L593.3 1013.5L593.3 1013.5L339.1 1013.5Z" fill="#FF6692" fill-opacity="0.5"/>
<path d="M339.1 1013.5L387.4 1013.5L392.5 1008.6L397.5 1008.6L402.6 1013.5L424.1 1013.5L429.2 1009.1L439.3 1009.1L444.4 1002.4L448.2 984.7L452.0 958.9L455.8 933.9L459.6 958.9L462.7 984.7L466.5 1002.4L471.6 1010.2L477.3 1013.5L593.3 1013.5" fill="none" stroke="#FF6692" stroke-width="7.0" stroke-linejoin="miter" stroke-miterlimit="2.2"/>
</g>
<g clip-path="url(#cp32)">
<rect x="622.5" y="897.6" width="283.0" height="275.6" fill="#E5ECF6"/>
<path d="M636.8 897.6V1173.2M700.1 897.6V1173.2M763.4 897.6V1173.2M826.7 897.6V1173.2M890.0 897.6V1173.2" stroke="#fff" stroke-width="3.4" fill="none"/>
<path d="M622.5 1141.0H905.5M622.5 1068.2H905.5M622.5 995.3H905.5M622.5 922.5H905.5" stroke="#fff" stroke-width="3.4" fill="none"/>
<path d="M636.6 1159.2L726.7 1159.2L731.8 1155.1L737.4 1159.2L742.5 1159.2L748.2 1155.1L753.3 1159.2L763.4 1159.2L769.7 1155.0L780.5 1155.0L785.6 1159.4L791.3 1155.9L793.8 1149.0L796.9 1122.8L801.4 1104.6L805.2 1111.9L809.6 1126.4L813.4 1137.3L817.2 1147.2L822.3 1151.9L827.3 1158.8L833.0 1155.1L838.1 1159.2L848.9 1159.2L853.9 1155.1L859.6 1159.2L890.8 1159.2L890.8 1159.2L636.6 1159.2Z" fill="#B6E880" fill-opacity="0.5"/>
<path d="M636.6 1159.2L726.7 1159.2L731.8 1155.1L737.4 1159.2L742.5 1159.2L748.2 1155.1L753.3 1159.2L763.4 1159.2L769.7 1155.0L780.5 1155.0L785.6 1159.4L791.3 1155.9L793.8 1149.0L796.9 1122.8L801.4 1104.6L805.2 1111.9L809.6 1126.4L813.4 1137.3L817.2 1147.2L822.3 1151.9L827.3 1158.8L833.0 1155.1L838.1 1159.2L848.9 1159.2L853.9 1155.1L859.6 1159.2L890.8 1159.2" fill="none" stroke="#B6E880" stroke-width="7.0" stroke-linejoin="miter" stroke-miterlimit="2.2"/>
<path d="M636.6 1141.0L726.7 1141.0L731.8 1136.6L737.4 1141.0L748.2 1141.0L753.3 1136.6L759.0 1140.2L763.4 1136.9L769.7 1140.5L774.2 1136.4L780.5 1136.4L785.6 1141.2L788.7 1129.5L793.8 1125.5L796.3 1100.9L799.5 1086.4L803.3 1090.0L807.7 1104.6L811.5 1115.5L815.3 1125.5L818.5 1133.3L824.2 1138.3L827.3 1141.0L843.8 1141.0L848.9 1136.6L853.9 1141.0L890.8 1141.0L890.8 1141.0L636.6 1141.0Z" fill="#00CC96" fill-opacity="0.5"/>
<path d="M636.6 1141.0L726.7 1141.0L731.8 1136.6L737.4 1141.0L748.2 1141.0L753.3 1136.6L759.0 1140.2L763.4 1136.9L769.7 1140.5L774.2 1136.4L780.5 1136.4L785.6 1141.2L788.7 1129.5L793.8 1125.5L796.3 1100.9L799.5 1086.4L803.3 1090.0L807.7 1104.6L811.5 1115.5L815.3 1125.5L818.5 1133.3L824.2 1138.3L827.3 1141.0L843.8 1141.0L848.9 1136.6L853.9 1141.0L890.8 1141.0" fill="none" stroke="#00CC96" stroke-width="7.0" stroke-linejoin="miter" stroke-miterlimit="2.2"/>
<path d="M636.6 1122.8L742.5 1122.8L748.2 1117.9L759.0 1117.9L763.4 1121.7L769.7 1121.7L774.2 1114.9L777.3 1121.9L781.1 1119.9L784.3 1100.9L788.7 1075.4L793.2 1070.0L797.6 1082.7L802.0 1099.1L806.4 1111.9L811.5 1119.9L817.2 1118.5L822.3 1122.8L827.3 1122.8L833.0 1118.9L838.1 1122.8L890.8 1122.8L890.8 1122.8L636.6 1122.8Z" fill="#B6E880" fill-opacity="0.5"/>
<path d="M636.6 1122.8L742.5 1122.8L748.2 1117.9L759.0 1117.9L763.4 1121.7L769.7 1121.7L774.2 1114.9L777.3 1121.9L781.1 1119.9L784.3 1100.9L788.7 1075.4L793.2 1070.0L797.6 1082.7L802.0 1099.1L806.4 1111.9L811.5 1119.9L817.2 1118.5L822.3 1122.8L827.3 1122.8L833.0 1118.9L838.1 1122.8L890.8 1122.8" fill="none" stroke="#B6E880" stroke-width="7.0" stroke-linejoin="miter" stroke-miterlimit="2.2"/>
<path d="M636.6 1104.6L742.5 1104.6L748.2 1100.3L753.3 1104.3L759.0 1101.2L764.2 1104.6L767.0 1104.6L772.3 1100.2L776.1 1092.4L779.2 1064.5L782.4 1042.7L786.8 1042.7L791.3 1049.9L795.0 1071.8L798.8 1082.7L804.5 1094.4L809.6 1103.1L817.2 1103.1L822.3 1100.0L827.3 1104.6L890.8 1104.6L890.8 1104.6L636.6 1104.6Z" fill="#00CC96" fill-opacity="0.5"/>
<path d="M636.6 1104.6L742.5 1104.6L748.2 1100.3L753.3 1104.3L759.0 1101.2L764.2 1104.6L767.0 1104.6L772.3 1100.2L776.1 1092.4L779.2 1064.5L782.4 1042.7L786.8 1042.7L791.3 1049.9L795.0 1071.8L798.8 1082.7L804.5 1094.4L809.6 1103.1L817.2 1103.1L822.3 1100.0L827.3 1104.6L890.8 1104.6" fill="none" stroke="#00CC96" stroke-width="7.0" stroke-linejoin="miter" stroke-miterlimit="2.2"/>
<path d="M636.6 1086.4L715.9 1086.4L721.0 1082.7L727.3 1086.5L731.8 1078.8L737.4 1086.4L750.7 1086.4L752.6 1068.2L754.5 1013.5L758.3 1004.4L761.5 1017.2L764.7 1028.1L770.4 1053.6L776.1 1067.1L784.3 1082.7L786.8 1086.4L817.2 1086.4L822.3 1082.2L827.3 1086.4L890.8 1086.4L890.8 1086.4L636.6 1086.4Z" fill="#B6E880" fill-opacity="0.5"/>
<path d="M636.6 1086.4L715.9 1086.4L721.0 1082.7L727.3 1086.5L731.8 1078.8L737.4 1086.4L750.7 1086.4L752.6 1068.2L754.5 1013.5L758.3 1004.4L761.5 1017.2L764.7 1028.1L770.4 1053.6L776.1 1067.1L784.3 1082.7L786.8 1086.4L817.2 1086.4L822.3 1082.2L827.3 1086.4L890.8 1086.4" fill="none" stroke="#B6E880" stroke-width="7.0" stroke-linejoin="miter" stroke-miterlimit="2.2"/>
<path d="M636.6 1068.2L715.9 1068.2L720.4 1060.1L726.7 1063.1L731.8 1068.2L741.9 1068.2L746.3 1061.0L748.8 1035.4L752.0 1004.4L755.8 1004.4L759.0 1035.4L763.4 1059.2L770.4 1068.2L890.8 1068.2L890.8 1068.2L636.6 1068.2Z" fill="#00CC96" fill-opacity="0.5"/>
<path d="M636.6 1068.2L715.9 1068.2L720.4 1060.1L726.7 1063.1L731.8 1068.2L741.9 1068.2L746.3 1061.0L748.8 1035.4L752.0 1004.4L755.8 1004.4L759.0 1035.4L763.4 1059.2L770.4 1068.2L890.8 1068.2" fill="none" stroke="#00CC96" stroke-width="7.0" stroke-linejoin="miter" stroke-miterlimit="2.2"/>
<path d="M636.6 1049.9L700.1 1049.9L705.8 1046.1L710.9 1048.5L715.9 1046.1L721.0 1048.5L726.7 1046.1L731.8 1049.9L737.4 1049.9L741.2 1041.6L745.0 1013.5L748.2 977.1L750.1 958.9L752.8 941.8L755.8 966.2L757.7 984.4L759.6 1004.4L764.7 1028.1L768.5 1043.6L770.4 1049.9L790.6 1049.9L795.7 1045.7L801.4 1049.9L890.8 1049.9L890.8 1049.9L636.6 1049.9Z" fill="#B6E880" fill-opacity="0.5"/>
<path d="M636.6 1049.9L700.1 1049.9L705.8 1046.1L710.9 1048.5L715.9 1046.1L721.0 1048.5L726.7 1046.1L731.8 1049.9L737.4 1049.9L741.2 1041.6L745.0 1013.5L748.2 977.1L750.1 958.9L752.8 941.8L755.8 966.2L757.7 984.4L759.6 1004.4L764.7 1028.1L768.5 1043.6L770.4 1049.9L790.6 1049.9L795.7 1045.7L801.4 1049.9L890.8 1049.9" fill="none" stroke="#B6E880" stroke-width="7.0" stroke-linejoin="miter" stroke-miterlimit="2.2"/>
<path d="M636.6 1031.7L694.4 1031.7L700.1 1024.1L705.8 1031.7L715.9 1031.7L721.0 1027.9L727.3 1031.7L731.8 1031.7L736.2 1021.9L740.0 995.3L744.4 966.2L748.2 953.4L750.7 969.8L752.6 1002.6L754.5 1021.9L759.6 1031.7L795.7 1031.7L801.4 1027.5L806.4 1031.7L890.8 1031.7L890.8 1031.7L636.6 1031.7Z" fill="#00CC96" fill-opacity="0.5"/>
<path d="M636.6 1031.7L694.4 1031.7L700.1 1024.1L705.8 1031.7L715.9 1031.7L721.0 1027.9L727.3 1031.7L731.8 1031.7L736.2 1021.9L740.0 995.3L744.4 966.2L748.2 953.4L750.7 969.8L752.6 1002.6L754.5 1021.9L759.6 1031.7L795.7 1031.7L801.4 1027.5L806.4 1031.7L890.8 1031.7" fill="none" stroke="#00CC96" stroke-width="7.0" stroke-linejoin="miter" stroke-miterlimit="2.2"/>
<path d="M636.6 1013.5L684.3 1013.5L690.0 1009.4L694.4 1012.4L700.1 1009.7L705.8 1013.5L715.9 1013.5L721.0 1009.4L727.3 1013.1L731.8 1008.2L736.2 984.7L739.3 946.1L742.5 912.5L745.7 942.5L749.5 958.9L753.9 980.7L759.0 996.6L762.8 1013.5L801.4 1013.5L806.4 1009.4L811.5 1013.5L890.8 1013.5L890.8 1013.5L636.6 1013.5Z" fill="#B6E880" fill-opacity="0.5"/>
<path d="M636.6 1013.5L684.3 1013.5L690.0 1009.4L694.4 1012.4L700.1 1009.7L705.8 1013.5L715.9 1013.5L721.0 1009.4L727.3 1013.1L731.8 1008.2L736.2 984.7L739.3 946.1L742.5 912.5L745.7 942.5L749.5 958.9L753.9 980.7L759.0 996.6L762.8 1013.5L801.4 1013.5L806.4 1009.4L811.5 1013.5L890.8 1013.5" fill="none" stroke="#B6E880" stroke-width="7.0" stroke-linejoin="miter" stroke-miterlimit="2.2"/>
</g>
<g clip-path="url(#cp33)">
<rect x="920.0" y="897.6" width="283.0" height="275.6" fill="#E5ECF6"/>
<path d="M934.3 897.6V1173.2M997.6 897.6V1173.2M1060.9 897.6V1173.2M1124.2 897.6V1173.2M1187.5 897.6V1173.2" stroke="#fff" stroke-width="3.4" fill="none"/>
<path d="M920.0 1141.0H1203.0M920.0 1068.2H1203.0M920.0 995.3H1203.0M920.0 922.5H1203.0" stroke="#fff" stroke-width="3.4" fill="none"/>
<path d="M934.1 1159.2L941.3 1159.2L944.4 1141.4L948.2 1119.1L952.0 1090.4L957.7 1090.4L959.0 1122.8L959.6 1141.4L964.1 1149.2L970.4 1151.0L976.7 1155.0L982.0 1159.2L987.3 1159.2L992.5 1155.9L997.6 1159.2L1188.3 1159.2L1188.3 1159.2L934.1 1159.2Z" fill="#FF97FF" fill-opacity="0.5"/>
<path d="M934.1 1159.2L941.3 1159.2L944.4 1141.4L948.2 1119.1L952.0 1090.4L957.7 1090.4L959.0 1122.8L959.6 1141.4L964.1 1149.2L970.4 1151.0L976.7 1155.0L982.0 1159.2L987.3 1159.2L992.5 1155.9L997.6 1159.2L1188.3 1159.2" fill="none" stroke="#FF97FF" stroke-width="7.0" stroke-linejoin="miter" stroke-miterlimit="2.2"/>
<path d="M934.1 1141.0L944.4 1141.0L950.1 1131.5L953.9 1104.6L958.4 1095.5L962.2 1090.4L967.8 1090.4L969.1 1113.7L969.7 1131.5L973.5 1132.4L977.3 1124.6L982.4 1131.5L987.5 1140.8L992.5 1137.3L997.6 1137.3L1003.3 1140.8L1009.0 1137.4L1013.4 1141.0L1188.3 1141.0L1188.3 1141.0L934.1 1141.0Z" fill="#AB63FA" fill-opacity="0.5"/>
<path d="M934.1 1141.0L944.4 1141.0L950.1 1131.5L953.9 1104.6L958.4 1095.5L962.2 1090.4L967.8 1090.4L969.1 1113.7L969.7 1131.5L973.5 1132.4L977.3 1124.6L982.4 1131.5L987.5 1140.8L992.5 1137.3L997.6 1137.3L1003.3 1140.8L1009.0 1137.4L1013.4 1141.0L1188.3 1141.0" fill="none" stroke="#AB63FA" stroke-width="7.0" stroke-linejoin="miter" stroke-miterlimit="2.2"/>
<path d="M934.1 1122.8L964.1 1122.8L968.5 1117.9L972.9 1108.0L975.4 1096.2L984.3 1096.2L987.5 1106.0L990.0 1093.6L991.9 1083.6L997.6 1082.7L1000.8 1093.6L1003.9 1106.0L1009.0 1115.9L1013.4 1122.9L1019.1 1119.9L1024.2 1122.2L1029.9 1115.8L1034.9 1122.8L1188.3 1122.8L1188.3 1122.8L934.1 1122.8Z" fill="#FF97FF" fill-opacity="0.5"/>
<path d="M934.1 1122.8L964.1 1122.8L968.5 1117.9L972.9 1108.0L975.4 1096.2L984.3 1096.2L987.5 1106.0L990.0 1093.6L991.9 1083.6L997.6 1082.7L1000.8 1093.6L1003.9 1106.0L1009.0 1115.9L1013.4 1122.9L1019.1 1119.9L1024.2 1122.2L1029.9 1115.8L1034.9 1122.8L1188.3 1122.8" fill="none" stroke="#FF97FF" stroke-width="7.0" stroke-linejoin="miter" stroke-miterlimit="2.2"/>
<path d="M934.1 1104.6L990.0 1104.6L996.3 1100.2L998.9 1082.7L1002.7 1057.2L1008.0 1021.9L1011.5 1068.1L1013.4 1099.1L1017.9 1098.2L1029.9 1098.2L1039.4 1104.6L1188.3 1104.6L1188.3 1104.6L934.1 1104.6Z" fill="#AB63FA" fill-opacity="0.5"/>
<path d="M934.1 1104.6L990.0 1104.6L996.3 1100.2L998.9 1082.7L1002.7 1057.2L1008.0 1021.9L1011.5 1068.1L1013.4 1099.1L1017.9 1098.2L1029.9 1098.2L1039.4 1104.6L1188.3 1104.6" fill="none" stroke="#AB63FA" stroke-width="7.0" stroke-linejoin="miter" stroke-miterlimit="2.2"/>
<path d="M934.1 1086.4L1034.9 1086.4L1040.6 1082.7L1045.7 1081.6L1050.1 1072.9L1053.3 1062.7L1056.2 963.3L1059.0 1062.7L1064.7 1072.9L1067.2 1082.7L1072.3 1086.8L1078.0 1082.7L1082.4 1074.4L1088.1 1079.6L1093.8 1086.4L1188.3 1086.4L1188.3 1086.4L934.1 1086.4Z" fill="#FF97FF" fill-opacity="0.5"/>
<path d="M934.1 1086.4L1034.9 1086.4L1040.6 1082.7L1045.7 1081.6L1050.1 1072.9L1053.3 1062.7L1056.2 963.3L1059.0 1062.7L1064.7 1072.9L1067.2 1082.7L1072.3 1086.8L1078.0 1082.7L1082.4 1074.4L1088.1 1079.6L1093.8 1086.4L1188.3 1086.4" fill="none" stroke="#FF97FF" stroke-width="7.0" stroke-linejoin="miter" stroke-miterlimit="2.2"/>
<path d="M934.1 1068.2L1061.5 1068.2L1066.6 1064.2L1072.3 1068.2L1077.4 1068.2L1082.4 1059.2L1085.0 1043.6L1088.1 1013.5L1091.0 994.4L1095.4 994.4L1098.9 1024.4L1102.7 1055.2L1108.4 1068.2L1120.4 1068.2L1130.5 1061.9L1136.2 1068.2L1188.3 1068.2L1188.3 1068.2L934.1 1068.2Z" fill="#AB63FA" fill-opacity="0.5"/>
<path d="M934.1 1068.2L1061.5 1068.2L1066.6 1064.2L1072.3 1068.2L1077.4 1068.2L1082.4 1059.2L1085.0 1043.6L1088.1 1013.5L1091.0 994.4L1095.4 994.4L1098.9 1024.4L1102.7 1055.2L1108.4 1068.2L1120.4 1068.2L1130.5 1061.9L1136.2 1068.2L1188.3 1068.2" fill="none" stroke="#AB63FA" stroke-width="7.0" stroke-linejoin="miter" stroke-miterlimit="2.2"/>
<path d="M934.1 1049.9L1076.1 1049.9L1083.1 1045.1L1088.1 1047.4L1093.8 1048.8L1097.6 1024.4L1101.4 983.8L1110.3 989.8L1112.8 1013.5L1116.6 1035.7L1122.3 1045.4L1127.4 1049.9L1136.2 1049.9L1138.8 1039.6L1142.6 1039.6L1145.7 1049.9L1188.3 1049.9L1188.3 1049.9L934.1 1049.9Z" fill="#FF97FF" fill-opacity="0.5"/>
<path d="M934.1 1049.9L1076.1 1049.9L1083.1 1045.1L1088.1 1047.4L1093.8 1048.8L1097.6 1024.4L1101.4 983.8L1110.3 989.8L1112.8 1013.5L1116.6 1035.7L1122.3 1045.4L1127.4 1049.9L1136.2 1049.9L1138.8 1039.6L1142.6 1039.6L1145.7 1049.9L1188.3 1049.9" fill="none" stroke="#FF97FF" stroke-width="7.0" stroke-linejoin="miter" stroke-miterlimit="2.2"/>
<path d="M934.1 1031.7L1104.6 1031.7L1111.5 1026.8L1115.3 1021.9L1119.1 997.1L1122.9 972.5L1127.4 972.5L1130.5 988.0L1133.1 1009.9L1135.0 1023.9L1140.7 1027.9L1147.0 1031.2L1151.4 1026.8L1157.1 1026.8L1162.2 1030.9L1167.2 1027.9L1172.9 1031.7L1188.3 1031.7L1188.3 1031.7L934.1 1031.7Z" fill="#AB63FA" fill-opacity="0.5"/>
<path d="M934.1 1031.7L1104.6 1031.7L1111.5 1026.8L1115.3 1021.9L1119.1 997.1L1122.9 972.5L1127.4 972.5L1130.5 988.0L1133.1 1009.9L1135.0 1023.9L1140.7 1027.9L1147.0 1031.2L1151.4 1026.8L1157.1 1026.8L1162.2 1030.9L1167.2 1027.9L1172.9 1031.7L1188.3 1031.7" fill="none" stroke="#AB63FA" stroke-width="7.0" stroke-linejoin="miter" stroke-miterlimit="2.2"/>
<path d="M934.1 1013.5L1115.3 1013.5L1122.3 1008.2L1127.4 1000.4L1133.1 978.9L1136.9 958.9L1140.8 940.7L1144.5 958.9L1147.6 980.7L1151.4 1004.4L1156.5 1005.3L1162.2 1013.4L1167.2 1009.1L1172.9 1009.1L1178.0 1013.5L1188.3 1013.5L1188.3 1013.5L934.1 1013.5Z" fill="#FF97FF" fill-opacity="0.5"/>
<path d="M934.1 1013.5L1115.3 1013.5L1122.3 1008.2L1127.4 1000.4L1133.1 978.9L1136.9 958.9L1140.8 940.7L1144.5 958.9L1147.6 980.7L1151.4 1004.4L1156.5 1005.3L1162.2 1013.4L1167.2 1009.1L1172.9 1009.1L1178.0 1013.5L1188.3 1013.5" fill="none" stroke="#FF97FF" stroke-width="7.0" stroke-linejoin="miter" stroke-miterlimit="2.2"/>
</g>
<g clip-path="url(#cp34)">
<rect x="1217.5" y="897.6" width="283.0" height="275.6" fill="#E5ECF6"/>
<path d="M1231.8 897.6V1173.2M1295.1 897.6V1173.2M1358.4 897.6V1173.2M1421.7 897.6V1173.2M1485.0 897.6V1173.2" stroke="#fff" stroke-width="3.4" fill="none"/>
<path d="M1217.5 1141.0H1500.5M1217.5 1068.2H1500.5M1217.5 995.3H1500.5M1217.5 922.5H1500.5" stroke="#fff" stroke-width="3.4" fill="none"/>
<path d="M1231.6 1159.2L1316.0 1159.2L1321.7 1155.9L1327.4 1159.1L1334.3 1149.0L1338.1 1151.0L1341.9 1139.2L1347.0 1115.5L1352.1 1100.9L1357.1 1108.2L1362.2 1126.4L1366.0 1141.0L1369.2 1149.0L1374.9 1159.2L1485.8 1159.2L1485.8 1159.2L1231.6 1159.2Z" fill="#FECB52" fill-opacity="0.5"/>
<path d="M1231.6 1159.2L1316.0 1159.2L1321.7 1155.9L1327.4 1159.1L1334.3 1149.0L1338.1 1151.0L1341.9 1139.2L1347.0 1115.5L1352.1 1100.9L1357.1 1108.2L1362.2 1126.4L1366.0 1141.0L1369.2 1149.0L1374.9 1159.2L1485.8 1159.2" fill="none" stroke="#FECB52" stroke-width="7.0" stroke-linejoin="miter" stroke-miterlimit="2.2"/>
<path d="M1231.6 1141.0L1316.0 1141.0L1321.7 1137.4L1326.8 1141.0L1332.4 1141.0L1337.5 1125.5L1343.8 1121.7L1348.3 1129.5L1352.1 1119.1L1354.6 1093.6L1357.1 1115.5L1359.7 1129.5L1364.7 1125.5L1375.5 1141.0L1485.8 1141.0L1485.8 1141.0L1231.6 1141.0Z" fill="#FFA15A" fill-opacity="0.5"/>
<path d="M1231.6 1141.0L1316.0 1141.0L1321.7 1137.4L1326.8 1141.0L1332.4 1141.0L1337.5 1125.5L1343.8 1121.7L1348.3 1129.5L1352.1 1119.1L1354.6 1093.6L1357.1 1115.5L1359.7 1129.5L1364.7 1125.5L1375.5 1141.0L1485.8 1141.0" fill="none" stroke="#FFA15A" stroke-width="7.0" stroke-linejoin="miter" stroke-miterlimit="2.2"/>
<path d="M1231.6 1122.8L1321.7 1122.8L1326.8 1118.7L1332.4 1120.5L1337.5 1117.9L1343.2 1113.7L1347.0 1097.3L1350.8 1068.1L1354.6 1057.2L1358.4 1071.8L1363.5 1093.6L1369.2 1108.0L1375.5 1122.8L1485.8 1122.8L1485.8 1122.8L1231.6 1122.8Z" fill="#FECB52" fill-opacity="0.5"/>
<path d="M1231.6 1122.8L1321.7 1122.8L1326.8 1118.7L1332.4 1120.5L1337.5 1117.9L1343.2 1113.7L1347.0 1097.3L1350.8 1068.1L1354.6 1057.2L1358.4 1071.8L1363.5 1093.6L1369.2 1108.0L1375.5 1122.8L1485.8 1122.8" fill="none" stroke="#FECB52" stroke-width="7.0" stroke-linejoin="miter" stroke-miterlimit="2.2"/>
<path d="M1231.6 1104.6L1332.4 1104.6L1337.5 1100.2L1345.7 1088.4L1349.5 1064.5L1353.3 1039.0L1357.1 1039.0L1360.9 1068.1L1365.4 1092.4L1371.1 1099.1L1379.9 1104.6L1485.8 1104.6L1485.8 1104.6L1231.6 1104.6Z" fill="#FFA15A" fill-opacity="0.5"/>
<path d="M1231.6 1104.6L1332.4 1104.6L1337.5 1100.2L1345.7 1088.4L1349.5 1064.5L1353.3 1039.0L1357.1 1039.0L1360.9 1068.1L1365.4 1092.4L1371.1 1099.1L1379.9 1104.6L1485.8 1104.6" fill="none" stroke="#FFA15A" stroke-width="7.0" stroke-linejoin="miter" stroke-miterlimit="2.2"/>
<path d="M1231.6 1086.4L1332.4 1086.4L1337.5 1082.5L1343.2 1084.4L1347.0 1080.7L1350.2 1060.9L1354.0 1031.7L1357.8 1013.5L1361.6 1028.1L1366.0 1049.9L1371.1 1070.9L1374.9 1086.5L1379.9 1082.7L1385.6 1086.4L1485.8 1086.4L1485.8 1086.4L1231.6 1086.4Z" fill="#FECB52" fill-opacity="0.5"/>
<path d="M1231.6 1086.4L1332.4 1086.4L1337.5 1082.5L1343.2 1084.4L1347.0 1080.7L1350.2 1060.9L1354.0 1031.7L1357.8 1013.5L1361.6 1028.1L1366.0 1049.9L1371.1 1070.9L1374.9 1086.5L1379.9 1082.7L1385.6 1086.4L1485.8 1086.4" fill="none" stroke="#FECB52" stroke-width="7.0" stroke-linejoin="miter" stroke-miterlimit="2.2"/>
<path d="M1231.6 1068.2L1343.2 1068.2L1348.3 1061.0L1354.0 1057.2L1357.1 1024.4L1360.9 995.3L1364.7 1009.9L1369.2 1031.7L1374.2 1053.6L1377.4 1063.1L1380.6 1067.9L1385.6 1064.2L1390.7 1068.2L1485.8 1068.2L1485.8 1068.2L1231.6 1068.2Z" fill="#FFA15A" fill-opacity="0.5"/>
<path d="M1231.6 1068.2L1343.2 1068.2L1348.3 1061.0L1354.0 1057.2L1357.1 1024.4L1360.9 995.3L1364.7 1009.9L1369.2 1031.7L1374.2 1053.6L1377.4 1063.1L1380.6 1067.9L1385.6 1064.2L1390.7 1068.2L1485.8 1068.2" fill="none" stroke="#FFA15A" stroke-width="7.0" stroke-linejoin="miter" stroke-miterlimit="2.2"/>
<path d="M1231.6 1049.9L1347.0 1049.9L1349.5 1037.6L1354.0 1020.8L1357.8 988.0L1361.6 977.1L1365.4 991.7L1369.8 1013.5L1374.2 1031.7L1376.8 1043.6L1380.6 1049.3L1385.6 1045.7L1390.7 1049.9L1485.8 1049.9L1485.8 1049.9L1231.6 1049.9Z" fill="#FECB52" fill-opacity="0.5"/>
<path d="M1231.6 1049.9L1347.0 1049.9L1349.5 1037.6L1354.0 1020.8L1357.8 988.0L1361.6 977.1L1365.4 991.7L1369.8 1013.5L1374.2 1031.7L1376.8 1043.6L1380.6 1049.3L1385.6 1045.7L1390.7 1049.9L1485.8 1049.9" fill="none" stroke="#FECB52" stroke-width="7.0" stroke-linejoin="miter" stroke-miterlimit="2.2"/>
<path d="M1231.6 1031.7L1343.2 1031.7L1348.3 1026.8L1354.0 1016.1L1357.1 991.7L1360.9 966.2L1364.7 958.9L1367.9 977.1L1371.7 1002.6L1375.5 1026.8L1380.6 1026.8L1385.6 1030.9L1390.7 1027.9L1396.4 1031.7L1485.8 1031.7L1485.8 1031.7L1231.6 1031.7Z" fill="#FFA15A" fill-opacity="0.5"/>
<path d="M1231.6 1031.7L1343.2 1031.7L1348.3 1026.8L1354.0 1016.1L1357.1 991.7L1360.9 966.2L1364.7 958.9L1367.9 977.1L1371.7 1002.6L1375.5 1026.8L1380.6 1026.8L1385.6 1030.9L1390.7 1027.9L1396.4 1031.7L1485.8 1031.7" fill="none" stroke="#FFA15A" stroke-width="7.0" stroke-linejoin="miter" stroke-miterlimit="2.2"/>
<path d="M1231.6 1013.5L1343.2 1013.5L1348.3 1008.2L1354.0 1002.1L1356.5 1008.1L1359.0 1002.6L1361.6 966.2L1364.0 926.1L1366.6 948.0L1372.0 968.9L1377.4 993.5L1381.2 1009.1L1390.7 1009.1L1396.4 1013.5L1485.8 1013.5L1485.8 1013.5L1231.6 1013.5Z" fill="#FECB52" fill-opacity="0.5"/>
<path d="M1231.6 1013.5L1343.2 1013.5L1348.3 1008.2L1354.0 1002.1L1356.5 1008.1L1359.0 1002.6L1361.6 966.2L1364.0 926.1L1366.6 948.0L1372.0 968.9L1377.4 993.5L1381.2 1009.1L1390.7 1009.1L1396.4 1013.5L1485.8 1013.5" fill="none" stroke="#FECB52" stroke-width="7.0" stroke-linejoin="miter" stroke-miterlimit="2.2"/>
</g>
<g clip-path="url(#cp40)">
<rect x="27.5" y="1187.4" width="283.0" height="275.6" fill="#E5ECF6"/>
<path d="M41.8 1187.4V1463.0M105.1 1187.4V1463.0M168.4 1187.4V1463.0M231.7 1187.4V1463.0M295.0 1187.4V1463.0" stroke="#fff" stroke-width="3.4" fill="none"/>
<path d="M27.5 1449.2H310.5M27.5 1427.0H310.5M27.5 1404.8H310.5M27.5 1382.6H310.5M27.5 1360.4H310.5M27.5 1338.2H310.5M27.5 1316.1H310.5M27.5 1293.9H310.5M27.5 1271.7H310.5" stroke="#fff" stroke-width="3.4" fill="none"/>
<path d="M41.6 1449.2L57.0 1449.2L62.7 1443.9L67.8 1443.9L73.4 1448.7L78.5 1446.2L84.2 1449.0L89.3 1440.1L94.3 1440.1L99.4 1436.1L105.1 1429.2L108.9 1436.1L115.9 1431.2L120.9 1418.6L126.0 1421.5L131.7 1427.2L136.8 1435.2L142.4 1431.2L147.5 1444.9L153.2 1441.6L158.3 1449.2L169.0 1449.2L174.7 1445.0L179.2 1449.2L295.8 1449.2L295.8 1449.2L41.6 1449.2Z" fill="#636EFA" fill-opacity="0.5"/>
<path d="M41.6 1449.2L57.0 1449.2L62.7 1443.9L67.8 1443.9L73.4 1448.7L78.5 1446.2L84.2 1449.0L89.3 1440.1L94.3 1440.1L99.4 1436.1L105.1 1429.2L108.9 1436.1L115.9 1431.2L120.9 1418.6L126.0 1421.5L131.7 1427.2L136.8 1435.2L142.4 1431.2L147.5 1444.9L153.2 1441.6L158.3 1449.2L169.0 1449.2L174.7 1445.0L179.2 1449.2L295.8 1449.2" fill="none" stroke="#636EFA" stroke-width="7.0" stroke-linejoin="miter" stroke-miterlimit="2.2"/>
<path d="M41.6 1427.0L57.0 1427.0L62.7 1422.7L67.8 1427.0L78.5 1427.0L83.6 1422.7L89.3 1427.0L99.4 1427.0L103.2 1414.6L107.0 1414.6L110.8 1425.2L114.0 1422.6L119.0 1393.3L122.8 1393.3L126.0 1405.9L131.7 1413.7L136.8 1409.3L142.4 1404.8L148.1 1399.9L153.8 1399.9L158.3 1419.7L164.0 1427.0L179.2 1427.0L184.9 1422.7L189.9 1427.0L295.8 1427.0L295.8 1427.0L41.6 1427.0Z" fill="#19D3F3" fill-opacity="0.5"/>
<path d="M41.6 1427.0L57.0 1427.0L62.7 1422.7L67.8 1427.0L78.5 1427.0L83.6 1422.7L89.3 1427.0L99.4 1427.0L103.2 1414.6L107.0 1414.6L110.8 1425.2L114.0 1422.6L119.0 1393.3L122.8 1393.3L126.0 1405.9L131.7 1413.7L136.8 1409.3L142.4 1404.8L148.1 1399.9L153.8 1399.9L158.3 1419.7L164.0 1427.0L179.2 1427.0L184.9 1422.7L189.9 1427.0L295.8 1427.0" fill="none" stroke="#19D3F3" stroke-width="7.0" stroke-linejoin="miter" stroke-miterlimit="2.2"/>
<path d="M41.6 1404.8L67.8 1404.8L73.4 1400.3L78.5 1404.8L94.3 1404.8L99.4 1400.3L105.1 1404.8L110.8 1404.8L114.6 1395.1L120.9 1395.1L126.0 1400.5L131.7 1387.3L136.8 1394.2L141.2 1376.0L146.2 1353.8L151.3 1351.6L155.1 1369.3L158.9 1388.2L162.7 1399.9L168.4 1399.9L174.7 1405.7L179.2 1404.8L184.9 1400.7L189.9 1404.8L295.8 1404.8L295.8 1404.8L41.6 1404.8Z" fill="#636EFA" fill-opacity="0.5"/>
<path d="M41.6 1404.8L67.8 1404.8L73.4 1400.3L78.5 1404.8L94.3 1404.8L99.4 1400.3L105.1 1404.8L110.8 1404.8L114.6 1395.1L120.9 1395.1L126.0 1400.5L131.7 1387.3L136.8 1394.2L141.2 1376.0L146.2 1353.8L151.3 1351.6L155.1 1369.3L158.9 1388.2L162.7 1399.9L168.4 1399.9L174.7 1405.7L179.2 1404.8L184.9 1400.7L189.9 1404.8L295.8 1404.8" fill="none" stroke="#636EFA" stroke-width="7.0" stroke-linejoin="miter" stroke-miterlimit="2.2"/>
<path d="M41.6 1382.6L94.3 1382.6L99.4 1378.6L105.1 1382.6L120.9 1382.6L126.0 1377.5L129.8 1369.8L133.0 1369.8L136.1 1381.5L142.4 1374.6L147.5 1362.7L150.7 1333.8L154.5 1298.3L159.5 1298.3L162.1 1338.2L164.6 1368.7L169.7 1382.6L179.2 1382.6L184.9 1378.6L189.9 1382.6L295.8 1382.6L295.8 1382.6L41.6 1382.6Z" fill="#19D3F3" fill-opacity="0.5"/>
<path d="M41.6 1382.6L94.3 1382.6L99.4 1378.6L105.1 1382.6L120.9 1382.6L126.0 1377.5L129.8 1369.8L133.0 1369.8L136.1 1381.5L142.4 1374.6L147.5 1362.7L150.7 1333.8L154.5 1298.3L159.5 1298.3L162.1 1338.2L164.6 1368.7L169.7 1382.6L179.2 1382.6L184.9 1378.6L189.9 1382.6L295.8 1382.6" fill="none" stroke="#19D3F3" stroke-width="7.0" stroke-linejoin="miter" stroke-miterlimit="2.2"/>
<path d="M41.6 1360.4L110.8 1360.4L115.9 1356.1L120.9 1360.4L142.4 1360.4L147.5 1351.8L153.2 1355.9L158.3 1351.1L162.1 1329.4L165.9 1298.3L169.7 1298.3L173.5 1324.9L176.6 1342.7L179.2 1354.9L184.9 1356.0L189.9 1359.4L195.6 1356.1L200.7 1360.4L295.8 1360.4L295.8 1360.4L41.6 1360.4Z" fill="#636EFA" fill-opacity="0.5"/>
<path d="M41.6 1360.4L110.8 1360.4L115.9 1356.1L120.9 1360.4L142.4 1360.4L147.5 1351.8L153.2 1355.9L158.3 1351.1L162.1 1329.4L165.9 1298.3L169.7 1298.3L173.5 1324.9L176.6 1342.7L179.2 1354.9L184.9 1356.0L189.9 1359.4L195.6 1356.1L200.7 1360.4L295.8 1360.4" fill="none" stroke="#636EFA" stroke-width="7.0" stroke-linejoin="miter" stroke-miterlimit="2.2"/>
<path d="M41.6 1338.2L120.9 1338.2L126.0 1334.1L131.7 1338.2L142.4 1338.2L148.1 1329.0L153.2 1333.8L158.3 1329.4L163.3 1311.6L168.4 1280.6L173.5 1271.7L178.5 1285.0L183.6 1311.6L188.0 1329.6L196.3 1338.2L201.3 1338.2L206.4 1334.1L211.4 1338.2L295.8 1338.2L295.8 1338.2L41.6 1338.2Z" fill="#19D3F3" fill-opacity="0.5"/>
<path d="M41.6 1338.2L120.9 1338.2L126.0 1334.1L131.7 1338.2L142.4 1338.2L148.1 1329.0L153.2 1333.8L158.3 1329.4L163.3 1311.6L168.4 1280.6L173.5 1271.7L178.5 1285.0L183.6 1311.6L188.0 1329.6L196.3 1338.2L201.3 1338.2L206.4 1334.1L211.4 1338.2L295.8 1338.2" fill="none" stroke="#19D3F3" stroke-width="7.0" stroke-linejoin="miter" stroke-miterlimit="2.2"/>
<path d="M41.6 1316.1L131.7 1316.1L136.8 1312.1L142.4 1314.5L147.5 1306.7L153.8 1315.4L158.3 1313.8L164.0 1304.1L169.7 1285.0L174.7 1253.9L179.8 1249.5L184.2 1267.2L188.0 1293.9L191.8 1308.1L200.7 1311.8L206.4 1316.1L295.8 1316.1L295.8 1316.1L41.6 1316.1Z" fill="#636EFA" fill-opacity="0.5"/>
<path d="M41.6 1316.1L131.7 1316.1L136.8 1312.1L142.4 1314.5L147.5 1306.7L153.8 1315.4L158.3 1313.8L164.0 1304.1L169.7 1285.0L174.7 1253.9L179.8 1249.5L184.2 1267.2L188.0 1293.9L191.8 1308.1L200.7 1311.8L206.4 1316.1L295.8 1316.1" fill="none" stroke="#636EFA" stroke-width="7.0" stroke-linejoin="miter" stroke-miterlimit="2.2"/>
<path d="M41.6 1293.9L110.8 1293.9L115.9 1289.7L120.9 1293.9L142.4 1293.9L147.5 1289.7L153.2 1292.7L158.3 1290.1L162.7 1292.4L167.8 1284.6L172.8 1249.5L176.6 1211.3L182.3 1211.3L187.4 1240.6L191.8 1267.2L196.3 1289.4L200.7 1289.4L205.7 1293.9L216.5 1293.9L221.6 1289.7L226.6 1293.9L295.8 1293.9L295.8 1293.9L41.6 1293.9Z" fill="#19D3F3" fill-opacity="0.5"/>
<path d="M41.6 1293.9L110.8 1293.9L115.9 1289.7L120.9 1293.9L142.4 1293.9L147.5 1289.7L153.2 1292.7L158.3 1290.1L162.7 1292.4L167.8 1284.6L172.8 1249.5L176.6 1211.3L182.3 1211.3L187.4 1240.6L191.8 1267.2L196.3 1289.4L200.7 1289.4L205.7 1293.9L216.5 1293.9L221.6 1289.7L226.6 1293.9L295.8 1293.9" fill="none" stroke="#19D3F3" stroke-width="7.0" stroke-linejoin="miter" stroke-miterlimit="2.2"/>
<path d="M41.6 1271.7L99.4 1271.7L105.1 1267.2L110.8 1271.7L142.4 1271.7L147.5 1267.2L153.2 1271.1L158.3 1268.2L163.5 1271.7L166.3 1271.7L171.6 1267.2L175.4 1251.3L179.8 1229.5L184.2 1211.3L188.0 1220.6L191.8 1229.7L196.3 1247.3L201.9 1247.3L205.1 1270.7L210.8 1267.2L216.5 1271.7L221.6 1271.7L226.6 1267.2L232.3 1271.7L295.8 1271.7L295.8 1271.7L41.6 1271.7Z" fill="#636EFA" fill-opacity="0.5"/>
<path d="M41.6 1271.7L99.4 1271.7L105.1 1267.2L110.8 1271.7L142.4 1271.7L147.5 1267.2L153.2 1271.1L158.3 1268.2L163.5 1271.7L166.3 1271.7L171.6 1267.2L175.4 1251.3L179.8 1229.5L184.2 1211.3L188.0 1220.6L191.8 1229.7L196.3 1247.3L201.9 1247.3L205.1 1270.7L210.8 1267.2L216.5 1271.7L221.6 1271.7L226.6 1267.2L232.3 1271.7L295.8 1271.7" fill="none" stroke="#636EFA" stroke-width="7.0" stroke-linejoin="miter" stroke-miterlimit="2.2"/>
</g>
<g clip-path="url(#cp41)">
<rect x="325.0" y="1187.4" width="283.0" height="275.6" fill="#E5ECF6"/>
<path d="M339.3 1187.4V1463.0M402.6 1187.4V1463.0M465.9 1187.4V1463.0M529.2 1187.4V1463.0M592.5 1187.4V1463.0" stroke="#fff" stroke-width="3.4" fill="none"/>
<path d="M325.0 1449.2H608.0M325.0 1360.4H608.0M325.0 1271.7H608.0" stroke="#fff" stroke-width="3.4" fill="none"/>
<path d="M339.1 1449.2L397.5 1449.2L402.6 1445.0L407.7 1448.7L413.4 1445.0L418.4 1449.2L456.4 1449.2L461.5 1440.1L471.6 1440.1L477.3 1431.2L483.0 1427.2L488.1 1407.7L492.5 1420.4L496.9 1433.2L499.4 1433.2L502.6 1429.2L509.6 1440.1L514.6 1444.9L519.7 1441.6L524.8 1449.2L593.3 1449.2L593.3 1449.2L339.1 1449.2Z" fill="#EF553B" fill-opacity="0.5"/>
<path d="M339.1 1449.2L397.5 1449.2L402.6 1445.0L407.7 1448.7L413.4 1445.0L418.4 1449.2L456.4 1449.2L461.5 1440.1L471.6 1440.1L477.3 1431.2L483.0 1427.2L488.1 1407.7L492.5 1420.4L496.9 1433.2L499.4 1433.2L502.6 1429.2L509.6 1440.1L514.6 1444.9L519.7 1441.6L524.8 1449.2L593.3 1449.2" fill="none" stroke="#EF553B" stroke-width="7.0" stroke-linejoin="miter" stroke-miterlimit="2.2"/>
<path d="M339.1 1427.0L408.3 1427.0L414.0 1422.7L418.4 1426.3L424.1 1422.7L429.2 1427.0L461.5 1427.0L466.5 1416.6L471.6 1401.9L476.7 1387.1L481.7 1371.5L486.8 1371.5L492.5 1389.3L498.8 1405.9L504.5 1413.7L509.6 1421.5L514.6 1427.0L593.3 1427.0L593.3 1427.0L339.1 1427.0Z" fill="#FF6692" fill-opacity="0.5"/>
<path d="M339.1 1427.0L408.3 1427.0L414.0 1422.7L418.4 1426.3L424.1 1422.7L429.2 1427.0L461.5 1427.0L466.5 1416.6L471.6 1401.9L476.7 1387.1L481.7 1371.5L486.8 1371.5L492.5 1389.3L498.8 1405.9L504.5 1413.7L509.6 1421.5L514.6 1427.0L593.3 1427.0" fill="none" stroke="#FF6692" stroke-width="7.0" stroke-linejoin="miter" stroke-miterlimit="2.2"/>
<path d="M339.1 1404.8L408.3 1404.8L414.0 1400.3L418.4 1404.8L429.2 1404.8L434.9 1400.3L439.9 1404.8L459.6 1404.8L462.7 1386.2L467.2 1356.0L472.2 1331.6L476.7 1331.6L481.1 1356.0L484.9 1380.4L488.1 1392.2L493.1 1399.1L498.8 1399.5L503.9 1404.8L593.3 1404.8L593.3 1404.8L339.1 1404.8Z" fill="#EF553B" fill-opacity="0.5"/>
<path d="M339.1 1404.8L408.3 1404.8L414.0 1400.3L418.4 1404.8L429.2 1404.8L434.9 1400.3L439.9 1404.8L459.6 1404.8L462.7 1386.2L467.2 1356.0L472.2 1331.6L476.7 1331.6L481.1 1356.0L484.9 1380.4L488.1 1392.2L493.1 1399.1L498.8 1399.5L503.9 1404.8L593.3 1404.8" fill="none" stroke="#EF553B" stroke-width="7.0" stroke-linejoin="miter" stroke-miterlimit="2.2"/>
<path d="M339.1 1382.6L424.1 1382.6L429.2 1378.6L434.9 1383.3L439.9 1382.6L445.6 1378.6L450.7 1382.6L458.9 1382.6L462.7 1364.9L467.2 1338.2L472.2 1316.1L477.3 1316.1L482.4 1338.2L486.8 1362.7L490.0 1372.6L493.8 1378.1L497.6 1374.4L503.9 1382.6L593.3 1382.6L593.3 1382.6L339.1 1382.6Z" fill="#FF6692" fill-opacity="0.5"/>
<path d="M339.1 1382.6L424.1 1382.6L429.2 1378.6L434.9 1383.3L439.9 1382.6L445.6 1378.6L450.7 1382.6L458.9 1382.6L462.7 1364.9L467.2 1338.2L472.2 1316.1L477.3 1316.1L482.4 1338.2L486.8 1362.7L490.0 1372.6L493.8 1378.1L497.6 1374.4L503.9 1382.6L593.3 1382.6" fill="none" stroke="#FF6692" stroke-width="7.0" stroke-linejoin="miter" stroke-miterlimit="2.2"/>
<path d="M339.1 1360.4L429.2 1360.4L434.9 1356.1L439.9 1359.7L445.6 1356.1L450.7 1360.4L458.9 1360.4L463.4 1333.8L468.4 1293.9L471.6 1279.7L475.4 1279.7L478.6 1316.1L481.1 1343.1L484.9 1350.0L493.1 1350.0L498.8 1360.4L593.3 1360.4L593.3 1360.4L339.1 1360.4Z" fill="#EF553B" fill-opacity="0.5"/>
<path d="M339.1 1360.4L429.2 1360.4L434.9 1356.1L439.9 1359.7L445.6 1356.1L450.7 1360.4L458.9 1360.4L463.4 1333.8L468.4 1293.9L471.6 1279.7L475.4 1279.7L478.6 1316.1L481.1 1343.1L484.9 1350.0L493.1 1350.0L498.8 1360.4L593.3 1360.4" fill="none" stroke="#EF553B" stroke-width="7.0" stroke-linejoin="miter" stroke-miterlimit="2.2"/>
<path d="M339.1 1338.2L445.6 1338.2L450.7 1334.1L456.4 1337.4L461.5 1330.2L466.5 1338.4L471.6 1331.6L477.3 1329.6L483.0 1317.8L487.4 1293.9L491.9 1271.7L496.3 1276.1L499.4 1302.7L502.6 1335.4L505.8 1337.4L508.9 1329.7L513.4 1338.2L593.3 1338.2L593.3 1338.2L339.1 1338.2Z" fill="#FF6692" fill-opacity="0.5"/>
<path d="M339.1 1338.2L445.6 1338.2L450.7 1334.1L456.4 1337.4L461.5 1330.2L466.5 1338.4L471.6 1331.6L477.3 1329.6L483.0 1317.8L487.4 1293.9L491.9 1271.7L496.3 1276.1L499.4 1302.7L502.6 1335.4L505.8 1337.4L508.9 1329.7L513.4 1338.2L593.3 1338.2" fill="none" stroke="#FF6692" stroke-width="7.0" stroke-linejoin="miter" stroke-miterlimit="2.2"/>
<path d="M339.1 1316.1L439.9 1316.1L445.6 1311.0L450.7 1311.0L456.4 1315.3L461.5 1311.8L466.5 1313.8L472.2 1309.4L477.3 1302.7L482.4 1280.6L487.4 1253.9L492.5 1253.9L497.6 1280.6L501.3 1298.3L504.5 1306.1L514.6 1316.1L593.3 1316.1L593.3 1316.1L339.1 1316.1Z" fill="#EF553B" fill-opacity="0.5"/>
<path d="M339.1 1316.1L439.9 1316.1L445.6 1311.0L450.7 1311.0L456.4 1315.3L461.5 1311.8L466.5 1313.8L472.2 1309.4L477.3 1302.7L482.4 1280.6L487.4 1253.9L492.5 1253.9L497.6 1280.6L501.3 1298.3L504.5 1306.1L514.6 1316.1L593.3 1316.1" fill="none" stroke="#EF553B" stroke-width="7.0" stroke-linejoin="miter" stroke-miterlimit="2.2"/>
<path d="M339.1 1293.9L424.1 1293.9L429.2 1289.7L434.9 1293.9L439.9 1293.9L445.6 1289.7L450.7 1292.6L456.4 1289.8L461.5 1293.1L466.5 1290.3L471.6 1285.4L477.3 1282.8L482.4 1262.8L487.4 1236.2L491.9 1228.9L495.0 1240.6L499.4 1267.2L504.5 1280.6L509.6 1292.6L514.6 1289.7L519.7 1293.9L593.3 1293.9L593.3 1293.9L339.1 1293.9Z" fill="#FF6692" fill-opacity="0.5"/>
<path d="M339.1 1293.9L424.1 1293.9L429.2 1289.7L434.9 1293.9L439.9 1293.9L445.6 1289.7L450.7 1292.6L456.4 1289.8L461.5 1293.1L466.5 1290.3L471.6 1285.4L477.3 1282.8L482.4 1262.8L487.4 1236.2L491.9 1228.9L495.0 1240.6L499.4 1267.2L504.5 1280.6L509.6 1292.6L514.6 1289.7L519.7 1293.9L593.3 1293.9" fill="none" stroke="#FF6692" stroke-width="7.0" stroke-linejoin="miter" stroke-miterlimit="2.2"/>
<path d="M339.1 1271.7L414.0 1271.7L418.4 1267.2L424.1 1271.7L429.2 1271.7L434.9 1267.2L439.9 1271.7L445.6 1271.7L450.7 1267.2L456.4 1271.7L461.5 1271.7L466.5 1265.9L471.6 1258.5L476.7 1263.0L480.5 1245.5L484.3 1225.1L487.4 1206.4L490.6 1222.9L493.1 1234.0L495.7 1241.5L504.5 1255.3L514.6 1270.7L519.7 1267.2L524.8 1271.7L593.3 1271.7L593.3 1271.7L339.1 1271.7Z" fill="#EF553B" fill-opacity="0.5"/>
<path d="M339.1 1271.7L414.0 1271.7L418.4 1267.2L424.1 1271.7L429.2 1271.7L434.9 1267.2L439.9 1271.7L445.6 1271.7L450.7 1267.2L456.4 1271.7L461.5 1271.7L466.5 1265.9L471.6 1258.5L476.7 1263.0L480.5 1245.5L484.3 1225.1L487.4 1206.4L490.6 1222.9L493.1 1234.0L495.7 1241.5L504.5 1255.3L514.6 1270.7L519.7 1267.2L524.8 1271.7L593.3 1271.7" fill="none" stroke="#EF553B" stroke-width="7.0" stroke-linejoin="miter" stroke-miterlimit="2.2"/>
</g>
<g clip-path="url(#cp42)">
<rect x="622.5" y="1187.4" width="283.0" height="275.6" fill="#E5ECF6"/>
<path d="M636.8 1187.4V1463.0M700.1 1187.4V1463.0M763.4 1187.4V1463.0M826.7 1187.4V1463.0M890.0 1187.4V1463.0" stroke="#fff" stroke-width="3.4" fill="none"/>
<path d="M622.5 1449.2H905.5M622.5 1360.4H905.5M622.5 1271.7H905.5" stroke="#fff" stroke-width="3.4" fill="none"/>
<path d="M636.6 1449.2L684.3 1449.2L689.3 1443.9L694.4 1443.9L700.1 1449.2L715.9 1449.2L721.0 1445.0L727.3 1449.3L737.4 1433.2L743.1 1428.3L749.5 1427.7L757.1 1427.0L763.4 1427.7L770.4 1428.3L774.2 1443.9L784.9 1443.9L790.6 1449.2L811.5 1449.2L817.2 1445.0L822.3 1449.2L890.8 1449.2L890.8 1449.2L636.6 1449.2Z" fill="#00CC96" fill-opacity="0.5"/>
<path d="M636.6 1449.2L684.3 1449.2L689.3 1443.9L694.4 1443.9L700.1 1449.2L715.9 1449.2L721.0 1445.0L727.3 1449.3L737.4 1433.2L743.1 1428.3L749.5 1427.7L757.1 1427.0L763.4 1427.7L770.4 1428.3L774.2 1443.9L784.9 1443.9L790.6 1449.2L811.5 1449.2L817.2 1445.0L822.3 1449.2L890.8 1449.2" fill="none" stroke="#00CC96" stroke-width="7.0" stroke-linejoin="miter" stroke-miterlimit="2.2"/>
<path d="M636.6 1427.0L689.3 1427.0L694.4 1422.7L700.1 1426.3L705.8 1422.7L710.9 1427.0L715.9 1427.0L721.0 1422.7L727.3 1427.5L733.0 1425.5L737.4 1419.7L741.2 1393.7L745.7 1373.8L750.7 1371.5L755.8 1378.2L760.9 1391.5L765.3 1404.8L768.5 1411.7L772.3 1419.7L780.5 1427.0L811.5 1427.0L817.2 1422.7L822.3 1427.0L890.8 1427.0L890.8 1427.0L636.6 1427.0Z" fill="#B6E880" fill-opacity="0.5"/>
<path d="M636.6 1427.0L689.3 1427.0L694.4 1422.7L700.1 1426.3L705.8 1422.7L710.9 1427.0L715.9 1427.0L721.0 1422.7L727.3 1427.5L733.0 1425.5L737.4 1419.7L741.2 1393.7L745.7 1373.8L750.7 1371.5L755.8 1378.2L760.9 1391.5L765.3 1404.8L768.5 1411.7L772.3 1419.7L780.5 1427.0L811.5 1427.0L817.2 1422.7L822.3 1427.0L890.8 1427.0" fill="none" stroke="#B6E880" stroke-width="7.0" stroke-linejoin="miter" stroke-miterlimit="2.2"/>
<path d="M636.6 1404.8L694.4 1404.8L700.1 1399.9L705.8 1399.9L710.9 1404.8L726.7 1404.8L731.8 1400.3L737.4 1405.4L742.5 1401.9L746.9 1387.3L750.7 1371.5L753.9 1362.7L757.1 1378.2L759.0 1392.2L763.4 1388.2L767.8 1387.3L772.3 1390.2L776.1 1399.9L780.5 1399.9L785.6 1404.8L806.4 1404.8L811.5 1400.3L817.2 1404.8L890.8 1404.8L890.8 1404.8L636.6 1404.8Z" fill="#00CC96" fill-opacity="0.5"/>
<path d="M636.6 1404.8L694.4 1404.8L700.1 1399.9L705.8 1399.9L710.9 1404.8L726.7 1404.8L731.8 1400.3L737.4 1405.4L742.5 1401.9L746.9 1387.3L750.7 1371.5L753.9 1362.7L757.1 1378.2L759.0 1392.2L763.4 1388.2L767.8 1387.3L772.3 1390.2L776.1 1399.9L780.5 1399.9L785.6 1404.8L806.4 1404.8L811.5 1400.3L817.2 1404.8L890.8 1404.8" fill="none" stroke="#00CC96" stroke-width="7.0" stroke-linejoin="miter" stroke-miterlimit="2.2"/>
<path d="M636.6 1382.6L710.9 1382.6L715.9 1377.5L721.0 1377.5L726.7 1382.6L737.4 1382.6L742.5 1376.4L745.7 1364.9L748.8 1364.9L752.0 1342.7L755.8 1316.1L760.9 1316.1L765.3 1333.8L769.7 1353.8L773.5 1369.3L776.1 1380.4L780.5 1382.6L806.4 1382.6L811.5 1378.6L817.2 1382.6L890.8 1382.6L890.8 1382.6L636.6 1382.6Z" fill="#B6E880" fill-opacity="0.5"/>
<path d="M636.6 1382.6L710.9 1382.6L715.9 1377.5L721.0 1377.5L726.7 1382.6L737.4 1382.6L742.5 1376.4L745.7 1364.9L748.8 1364.9L752.0 1342.7L755.8 1316.1L760.9 1316.1L765.3 1333.8L769.7 1353.8L773.5 1369.3L776.1 1380.4L780.5 1382.6L806.4 1382.6L811.5 1378.6L817.2 1382.6L890.8 1382.6" fill="none" stroke="#B6E880" stroke-width="7.0" stroke-linejoin="miter" stroke-miterlimit="2.2"/>
<path d="M636.6 1360.4L715.9 1360.4L721.0 1356.1L726.7 1360.4L737.4 1360.4L742.5 1356.0L748.2 1356.0L753.3 1360.0L759.0 1343.1L761.5 1299.2L769.7 1299.2L772.9 1320.5L776.1 1333.8L780.5 1347.1L784.9 1356.9L791.3 1360.4L801.4 1360.4L806.4 1356.1L811.5 1360.4L890.8 1360.4L890.8 1360.4L636.6 1360.4Z" fill="#00CC96" fill-opacity="0.5"/>
<path d="M636.6 1360.4L715.9 1360.4L721.0 1356.1L726.7 1360.4L737.4 1360.4L742.5 1356.0L748.2 1356.0L753.3 1360.0L759.0 1343.1L761.5 1299.2L769.7 1299.2L772.9 1320.5L776.1 1333.8L780.5 1347.1L784.9 1356.9L791.3 1360.4L801.4 1360.4L806.4 1356.1L811.5 1360.4L890.8 1360.4" fill="none" stroke="#00CC96" stroke-width="7.0" stroke-linejoin="miter" stroke-miterlimit="2.2"/>
<path d="M636.6 1338.2L721.0 1338.2L726.7 1334.1L731.8 1338.2L753.3 1338.2L759.0 1334.1L763.4 1337.4L769.7 1328.5L774.2 1331.6L779.2 1311.6L784.3 1280.6L788.7 1271.7L793.2 1280.6L797.6 1302.7L802.0 1324.9L806.4 1338.2L811.5 1338.2L817.2 1334.1L822.3 1338.2L890.8 1338.2L890.8 1338.2L636.6 1338.2Z" fill="#B6E880" fill-opacity="0.5"/>
<path d="M636.6 1338.2L721.0 1338.2L726.7 1334.1L731.8 1338.2L753.3 1338.2L759.0 1334.1L763.4 1337.4L769.7 1328.5L774.2 1331.6L779.2 1311.6L784.3 1280.6L788.7 1271.7L793.2 1280.6L797.6 1302.7L802.0 1324.9L806.4 1338.2L811.5 1338.2L817.2 1334.1L822.3 1338.2L890.8 1338.2" fill="none" stroke="#B6E880" stroke-width="7.0" stroke-linejoin="miter" stroke-miterlimit="2.2"/>
<path d="M636.6 1316.1L726.7 1316.1L731.8 1312.1L737.4 1316.1L769.7 1316.1L774.2 1313.8L779.9 1307.3L784.9 1311.8L790.0 1294.3L793.2 1245.5L796.3 1245.5L800.1 1262.8L804.5 1280.6L807.7 1296.1L811.5 1310.1L816.6 1315.0L821.6 1312.1L827.3 1316.1L890.8 1316.1L890.8 1316.1L636.6 1316.1Z" fill="#00CC96" fill-opacity="0.5"/>
<path d="M636.6 1316.1L726.7 1316.1L731.8 1312.1L737.4 1316.1L769.7 1316.1L774.2 1313.8L779.9 1307.3L784.9 1311.8L790.0 1294.3L793.2 1245.5L796.3 1245.5L800.1 1262.8L804.5 1280.6L807.7 1296.1L811.5 1310.1L816.6 1315.0L821.6 1312.1L827.3 1316.1L890.8 1316.1" fill="none" stroke="#00CC96" stroke-width="7.0" stroke-linejoin="miter" stroke-miterlimit="2.2"/>
<path d="M636.6 1293.9L726.7 1293.9L731.8 1289.7L737.4 1293.9L753.3 1293.9L759.0 1289.7L763.4 1293.9L769.7 1293.9L774.2 1289.4L779.9 1289.4L783.7 1273.9L788.7 1267.2L793.8 1249.5L797.6 1231.7L800.7 1218.4L803.9 1229.5L807.7 1240.6L812.1 1262.8L817.2 1280.6L822.3 1293.9L838.1 1293.9L843.2 1289.7L848.9 1293.9L890.8 1293.9L890.8 1293.9L636.6 1293.9Z" fill="#B6E880" fill-opacity="0.5"/>
<path d="M636.6 1293.9L726.7 1293.9L731.8 1289.7L737.4 1293.9L753.3 1293.9L759.0 1289.7L763.4 1293.9L769.7 1293.9L774.2 1289.4L779.9 1289.4L783.7 1273.9L788.7 1267.2L793.8 1249.5L797.6 1231.7L800.7 1218.4L803.9 1229.5L807.7 1240.6L812.1 1262.8L817.2 1280.6L822.3 1293.9L838.1 1293.9L843.2 1289.7L848.9 1293.9L890.8 1293.9" fill="none" stroke="#B6E880" stroke-width="7.0" stroke-linejoin="miter" stroke-miterlimit="2.2"/>
<path d="M636.6 1271.7L737.4 1271.7L742.5 1267.2L748.2 1271.7L763.4 1271.7L769.7 1267.2L774.2 1270.7L779.9 1267.4L785.6 1271.1L791.3 1267.0L796.9 1263.0L800.7 1265.9L804.5 1226.9L809.6 1226.9L814.7 1214.2L818.5 1215.1L822.3 1241.5L827.3 1255.3L833.0 1271.7L848.9 1271.7L853.9 1267.2L859.6 1271.7L890.8 1271.7L890.8 1271.7L636.6 1271.7Z" fill="#00CC96" fill-opacity="0.5"/>
<path d="M636.6 1271.7L737.4 1271.7L742.5 1267.2L748.2 1271.7L763.4 1271.7L769.7 1267.2L774.2 1270.7L779.9 1267.4L785.6 1271.1L791.3 1267.0L796.9 1263.0L800.7 1265.9L804.5 1226.9L809.6 1226.9L814.7 1214.2L818.5 1215.1L822.3 1241.5L827.3 1255.3L833.0 1271.7L848.9 1271.7L853.9 1267.2L859.6 1271.7L890.8 1271.7" fill="none" stroke="#00CC96" stroke-width="7.0" stroke-linejoin="miter" stroke-miterlimit="2.2"/>
</g>
<g clip-path="url(#cp43)">
<rect x="920.0" y="1187.4" width="283.0" height="275.6" fill="#E5ECF6"/>
<path d="M934.3 1187.4V1463.0M997.6 1187.4V1463.0M1060.9 1187.4V1463.0M1124.2 1187.4V1463.0M1187.5 1187.4V1463.0" stroke="#fff" stroke-width="3.4" fill="none"/>
<path d="M920.0 1449.2H1203.0M920.0 1360.4H1203.0M920.0 1271.7H1203.0" stroke="#fff" stroke-width="3.4" fill="none"/>
<path d="M934.1 1449.2L1013.4 1449.2L1019.1 1445.0L1024.2 1448.4L1029.9 1445.0L1034.9 1449.2L1045.7 1449.2L1050.1 1438.1L1053.9 1438.1L1057.1 1443.9L1061.5 1431.2L1064.7 1404.8L1068.5 1387.1L1072.9 1391.5L1078.0 1413.7L1082.4 1429.2L1088.1 1449.2L1098.9 1449.2L1103.9 1445.0L1109.6 1449.2L1114.7 1449.2L1119.8 1445.0L1125.5 1449.2L1188.3 1449.2L1188.3 1449.2L934.1 1449.2Z" fill="#AB63FA" fill-opacity="0.5"/>
<path d="M934.1 1449.2L1013.4 1449.2L1019.1 1445.0L1024.2 1448.4L1029.9 1445.0L1034.9 1449.2L1045.7 1449.2L1050.1 1438.1L1053.9 1438.1L1057.1 1443.9L1061.5 1431.2L1064.7 1404.8L1068.5 1387.1L1072.9 1391.5L1078.0 1413.7L1082.4 1429.2L1088.1 1449.2L1098.9 1449.2L1103.9 1445.0L1109.6 1449.2L1114.7 1449.2L1119.8 1445.0L1125.5 1449.2L1188.3 1449.2" fill="none" stroke="#AB63FA" stroke-width="7.0" stroke-linejoin="miter" stroke-miterlimit="2.2"/>
<path d="M934.1 1427.0L1024.2 1427.0L1029.9 1422.7L1034.9 1427.0L1040.6 1427.0L1045.7 1422.7L1051.4 1425.9L1054.6 1423.5L1056.5 1391.5L1060.3 1360.4L1064.7 1360.4L1069.1 1387.1L1074.2 1407.9L1078.0 1408.8L1082.4 1420.6L1088.1 1421.5L1093.8 1427.0L1109.6 1427.0L1114.7 1422.7L1119.8 1427.0L1188.3 1427.0L1188.3 1427.0L934.1 1427.0Z" fill="#FF97FF" fill-opacity="0.5"/>
<path d="M934.1 1427.0L1024.2 1427.0L1029.9 1422.7L1034.9 1427.0L1040.6 1427.0L1045.7 1422.7L1051.4 1425.9L1054.6 1423.5L1056.5 1391.5L1060.3 1360.4L1064.7 1360.4L1069.1 1387.1L1074.2 1407.9L1078.0 1408.8L1082.4 1420.6L1088.1 1421.5L1093.8 1427.0L1109.6 1427.0L1114.7 1422.7L1119.8 1427.0L1188.3 1427.0" fill="none" stroke="#FF97FF" stroke-width="7.0" stroke-linejoin="miter" stroke-miterlimit="2.2"/>
<path d="M934.1 1404.8L1024.2 1404.8L1029.9 1400.3L1034.9 1404.8L1051.4 1404.8L1055.8 1394.2L1058.4 1369.3L1062.2 1338.2L1066.0 1338.2L1069.8 1364.9L1073.6 1391.1L1083.1 1399.9L1088.1 1404.0L1092.5 1399.9L1098.9 1399.9L1104.6 1404.8L1188.3 1404.8L1188.3 1404.8L934.1 1404.8Z" fill="#AB63FA" fill-opacity="0.5"/>
<path d="M934.1 1404.8L1024.2 1404.8L1029.9 1400.3L1034.9 1404.8L1051.4 1404.8L1055.8 1394.2L1058.4 1369.3L1062.2 1338.2L1066.0 1338.2L1069.8 1364.9L1073.6 1391.1L1083.1 1399.9L1088.1 1404.0L1092.5 1399.9L1098.9 1399.9L1104.6 1404.8L1188.3 1404.8" fill="none" stroke="#AB63FA" stroke-width="7.0" stroke-linejoin="miter" stroke-miterlimit="2.2"/>
<path d="M934.1 1382.6L1024.2 1382.6L1029.9 1378.6L1034.9 1382.6L1045.7 1382.6L1050.1 1376.4L1052.7 1347.1L1056.5 1316.1L1060.9 1311.6L1064.7 1329.4L1068.5 1356.0L1072.3 1372.6L1078.0 1377.5L1088.1 1377.5L1093.8 1382.6L1188.3 1382.6L1188.3 1382.6L934.1 1382.6Z" fill="#FF97FF" fill-opacity="0.5"/>
<path d="M934.1 1382.6L1024.2 1382.6L1029.9 1378.6L1034.9 1382.6L1045.7 1382.6L1050.1 1376.4L1052.7 1347.1L1056.5 1316.1L1060.9 1311.6L1064.7 1329.4L1068.5 1356.0L1072.3 1372.6L1078.0 1377.5L1088.1 1377.5L1093.8 1382.6L1188.3 1382.6" fill="none" stroke="#FF97FF" stroke-width="7.0" stroke-linejoin="miter" stroke-miterlimit="2.2"/>
<path d="M934.1 1360.4L1019.1 1360.4L1024.2 1356.1L1029.9 1360.4L1040.6 1360.4L1045.7 1349.1L1049.5 1324.9L1053.3 1298.3L1057.1 1293.9L1059.6 1316.1L1061.5 1343.1L1068.5 1347.1L1072.3 1351.1L1078.0 1360.4L1188.3 1360.4L1188.3 1360.4L934.1 1360.4Z" fill="#AB63FA" fill-opacity="0.5"/>
<path d="M934.1 1360.4L1019.1 1360.4L1024.2 1356.1L1029.9 1360.4L1040.6 1360.4L1045.7 1349.1L1049.5 1324.9L1053.3 1298.3L1057.1 1293.9L1059.6 1316.1L1061.5 1343.1L1068.5 1347.1L1072.3 1351.1L1078.0 1360.4L1188.3 1360.4" fill="none" stroke="#AB63FA" stroke-width="7.0" stroke-linejoin="miter" stroke-miterlimit="2.2"/>
<path d="M934.1 1338.2L1009.0 1338.2L1017.9 1330.5L1021.7 1316.1L1026.1 1293.9L1030.5 1280.6L1034.3 1287.2L1038.7 1305.0L1041.9 1318.3L1045.7 1325.6L1056.5 1333.4L1060.9 1327.6L1063.6 1289.4L1066.3 1333.8L1068.5 1338.2L1072.3 1338.2L1078.0 1334.1L1083.1 1338.2L1188.3 1338.2L1188.3 1338.2L934.1 1338.2Z" fill="#FF97FF" fill-opacity="0.5"/>
<path d="M934.1 1338.2L1009.0 1338.2L1017.9 1330.5L1021.7 1316.1L1026.1 1293.9L1030.5 1280.6L1034.3 1287.2L1038.7 1305.0L1041.9 1318.3L1045.7 1325.6L1056.5 1333.4L1060.9 1327.6L1063.6 1289.4L1066.3 1333.8L1068.5 1338.2L1072.3 1338.2L1078.0 1334.1L1083.1 1338.2L1188.3 1338.2" fill="none" stroke="#FF97FF" stroke-width="7.0" stroke-linejoin="miter" stroke-miterlimit="2.2"/>
<path d="M934.1 1316.1L1003.3 1316.1L1009.0 1311.8L1013.4 1300.3L1017.9 1276.1L1022.9 1253.9L1027.4 1249.5L1031.1 1267.2L1034.3 1287.2L1036.8 1302.1L1039.4 1316.1L1045.7 1316.1L1049.5 1305.0L1054.6 1294.3L1057.7 1307.2L1060.9 1298.3L1064.1 1316.1L1067.2 1316.1L1072.3 1312.1L1078.0 1316.1L1188.3 1316.1L1188.3 1316.1L934.1 1316.1Z" fill="#AB63FA" fill-opacity="0.5"/>
<path d="M934.1 1316.1L1003.3 1316.1L1009.0 1311.8L1013.4 1300.3L1017.9 1276.1L1022.9 1253.9L1027.4 1249.5L1031.1 1267.2L1034.3 1287.2L1036.8 1302.1L1039.4 1316.1L1045.7 1316.1L1049.5 1305.0L1054.6 1294.3L1057.7 1307.2L1060.9 1298.3L1064.1 1316.1L1067.2 1316.1L1072.3 1312.1L1078.0 1316.1L1188.3 1316.1" fill="none" stroke="#AB63FA" stroke-width="7.0" stroke-linejoin="miter" stroke-miterlimit="2.2"/>
<path d="M934.1 1293.9L997.0 1293.9L1000.8 1281.7L1005.8 1281.7L1007.7 1288.5L1011.5 1267.2L1016.6 1245.1L1021.7 1236.6L1025.5 1236.6L1028.0 1253.9L1031.1 1270.8L1034.9 1289.1L1040.6 1284.0L1045.7 1289.7L1056.5 1285.6L1060.9 1289.7L1063.6 1250.4L1066.3 1293.9L1072.3 1293.9L1078.0 1288.9L1083.1 1293.9L1188.3 1293.9L1188.3 1293.9L934.1 1293.9Z" fill="#FF97FF" fill-opacity="0.5"/>
<path d="M934.1 1293.9L997.0 1293.9L1000.8 1281.7L1005.8 1281.7L1007.7 1288.5L1011.5 1267.2L1016.6 1245.1L1021.7 1236.6L1025.5 1236.6L1028.0 1253.9L1031.1 1270.8L1034.9 1289.1L1040.6 1284.0L1045.7 1289.7L1056.5 1285.6L1060.9 1289.7L1063.6 1250.4L1066.3 1293.9L1072.3 1293.9L1078.0 1288.9L1083.1 1293.9L1188.3 1293.9" fill="none" stroke="#FF97FF" stroke-width="7.0" stroke-linejoin="miter" stroke-miterlimit="2.2"/>
<path d="M934.1 1271.7L971.6 1271.7L976.7 1267.2L981.8 1271.7L987.5 1271.7L991.3 1258.1L997.0 1253.3L1000.8 1245.5L1005.8 1245.5L1007.7 1257.3L1010.3 1236.2L1013.7 1219.1L1017.2 1227.3L1021.7 1237.7L1029.2 1259.3L1034.3 1265.9L1040.6 1267.0L1045.7 1263.2L1051.4 1267.9L1053.4 1267.9L1056.2 1224.0L1058.9 1271.7L1188.3 1271.7L1188.3 1271.7L934.1 1271.7Z" fill="#AB63FA" fill-opacity="0.5"/>
<path d="M934.1 1271.7L971.6 1271.7L976.7 1267.2L981.8 1271.7L987.5 1271.7L991.3 1258.1L997.0 1253.3L1000.8 1245.5L1005.8 1245.5L1007.7 1257.3L1010.3 1236.2L1013.7 1219.1L1017.2 1227.3L1021.7 1237.7L1029.2 1259.3L1034.3 1265.9L1040.6 1267.0L1045.7 1263.2L1051.4 1267.9L1053.4 1267.9L1056.2 1224.0L1058.9 1271.7L1188.3 1271.7" fill="none" stroke="#AB63FA" stroke-width="7.0" stroke-linejoin="miter" stroke-miterlimit="2.2"/>
</g>
<g clip-path="url(#cp44)">
<rect x="1217.5" y="1187.4" width="283.0" height="275.6" fill="#E5ECF6"/>
<path d="M1231.8 1187.4V1463.0M1295.1 1187.4V1463.0M1358.4 1187.4V1463.0M1421.7 1187.4V1463.0M1485.0 1187.4V1463.0" stroke="#fff" stroke-width="3.4" fill="none"/>
<path d="M1217.5 1449.2H1500.5M1217.5 1360.4H1500.5M1217.5 1271.7H1500.5" stroke="#fff" stroke-width="3.4" fill="none"/>
<path d="M1230.5 1449.2L1241.9 1431.2L1250.8 1419.5L1257.1 1417.0L1261.6 1431.2L1265.3 1431.2L1268.5 1423.5L1273.6 1433.2L1277.4 1429.2L1280.5 1423.5L1284.3 1441.0L1289.4 1449.2L1485.8 1449.2L1485.8 1449.2L1230.5 1449.2Z" fill="#FFA15A" fill-opacity="0.5"/>
<path d="M1230.5 1449.2L1241.9 1431.2L1250.8 1419.5L1257.1 1417.0L1261.6 1431.2L1265.3 1431.2L1268.5 1423.5L1273.6 1433.2L1277.4 1429.2L1280.5 1423.5L1284.3 1441.0L1289.4 1449.2L1485.8 1449.2" fill="none" stroke="#FFA15A" stroke-width="7.0" stroke-linejoin="miter" stroke-miterlimit="2.2"/>
<path d="M1230.5 1426.3L1241.9 1417.5L1247.0 1420.6L1251.4 1421.5L1255.9 1394.2L1264.7 1394.2L1267.2 1409.7L1271.0 1407.9L1274.8 1393.7L1279.3 1395.9L1283.7 1407.0L1287.5 1398.2L1290.7 1407.0L1293.2 1413.7L1295.7 1421.5L1300.8 1421.5L1306.5 1427.0L1485.8 1427.0L1485.8 1427.0L1230.5 1427.0Z" fill="#FECB52" fill-opacity="0.5"/>
<path d="M1230.5 1426.3L1241.9 1417.5L1247.0 1420.6L1251.4 1421.5L1255.9 1394.2L1264.7 1394.2L1267.2 1409.7L1271.0 1407.9L1274.8 1393.7L1279.3 1395.9L1283.7 1407.0L1287.5 1398.2L1290.7 1407.0L1293.2 1413.7L1295.7 1421.5L1300.8 1421.5L1306.5 1427.0L1485.8 1427.0" fill="none" stroke="#FECB52" stroke-width="7.0" stroke-linejoin="miter" stroke-miterlimit="2.2"/>
<path d="M1231.6 1404.8L1236.2 1404.8L1241.9 1400.3L1247.0 1403.4L1252.7 1399.9L1263.5 1399.9L1268.5 1395.9L1272.9 1386.0L1277.4 1374.6L1282.4 1361.8L1287.5 1361.8L1291.3 1372.6L1295.1 1384.2L1300.2 1384.2L1305.9 1392.2L1311.6 1399.9L1316.6 1399.9L1321.7 1404.0L1326.8 1400.3L1332.4 1404.8L1485.8 1404.8L1485.8 1404.8L1231.6 1404.8Z" fill="#FFA15A" fill-opacity="0.5"/>
<path d="M1231.6 1404.8L1236.2 1404.8L1241.9 1400.3L1247.0 1403.4L1252.7 1399.9L1263.5 1399.9L1268.5 1395.9L1272.9 1386.0L1277.4 1374.6L1282.4 1361.8L1287.5 1361.8L1291.3 1372.6L1295.1 1384.2L1300.2 1384.2L1305.9 1392.2L1311.6 1399.9L1316.6 1399.9L1321.7 1404.0L1326.8 1400.3L1332.4 1404.8L1485.8 1404.8" fill="none" stroke="#FFA15A" stroke-width="7.0" stroke-linejoin="miter" stroke-miterlimit="2.2"/>
<path d="M1231.6 1382.6L1273.6 1382.6L1279.3 1374.8L1284.3 1382.6L1289.4 1378.4L1300.8 1377.5L1305.9 1364.7L1310.9 1349.3L1316.0 1340.5L1320.4 1334.9L1322.3 1333.8L1325.5 1340.5L1329.3 1362.7L1332.4 1377.5L1338.1 1377.5L1343.8 1382.6L1485.8 1382.6L1485.8 1382.6L1231.6 1382.6Z" fill="#FECB52" fill-opacity="0.5"/>
<path d="M1231.6 1382.6L1273.6 1382.6L1279.3 1374.8L1284.3 1382.6L1289.4 1378.4L1300.8 1377.5L1305.9 1364.7L1310.9 1349.3L1316.0 1340.5L1320.4 1334.9L1322.3 1333.8L1325.5 1340.5L1329.3 1362.7L1332.4 1377.5L1338.1 1377.5L1343.8 1382.6L1485.8 1382.6" fill="none" stroke="#FECB52" stroke-width="7.0" stroke-linejoin="miter" stroke-miterlimit="2.2"/>
<path d="M1231.6 1360.4L1343.8 1360.4L1348.3 1356.0L1352.1 1343.1L1354.6 1307.2L1356.8 1280.6L1359.2 1259.0L1362.2 1285.0L1365.4 1307.2L1369.2 1331.6L1373.6 1360.4L1380.6 1360.4L1385.6 1356.1L1390.7 1360.4L1485.8 1360.4L1485.8 1360.4L1231.6 1360.4Z" fill="#FFA15A" fill-opacity="0.5"/>
<path d="M1231.6 1360.4L1343.8 1360.4L1348.3 1356.0L1352.1 1343.1L1354.6 1307.2L1356.8 1280.6L1359.2 1259.0L1362.2 1285.0L1365.4 1307.2L1369.2 1331.6L1373.6 1360.4L1380.6 1360.4L1385.6 1356.1L1390.7 1360.4L1485.8 1360.4" fill="none" stroke="#FFA15A" stroke-width="7.0" stroke-linejoin="miter" stroke-miterlimit="2.2"/>
<path d="M1231.6 1338.2L1375.5 1338.2L1379.9 1325.6L1386.3 1320.7L1387.5 1298.3L1388.8 1284.6L1397.0 1278.8L1400.8 1289.4L1404.6 1309.4L1408.4 1331.6L1411.6 1338.1L1417.3 1334.1L1422.3 1338.2L1485.8 1338.2L1485.8 1338.2L1231.6 1338.2Z" fill="#FECB52" fill-opacity="0.5"/>
<path d="M1231.6 1338.2L1375.5 1338.2L1379.9 1325.6L1386.3 1320.7L1387.5 1298.3L1388.8 1284.6L1397.0 1278.8L1400.8 1289.4L1404.6 1309.4L1408.4 1331.6L1411.6 1338.1L1417.3 1334.1L1422.3 1338.2L1485.8 1338.2" fill="none" stroke="#FECB52" stroke-width="7.0" stroke-linejoin="miter" stroke-miterlimit="2.2"/>
<path d="M1231.6 1316.1L1390.7 1316.1L1395.7 1311.8L1399.5 1298.3L1404.6 1271.7L1408.4 1249.5L1411.6 1232.8L1414.7 1249.5L1417.3 1265.0L1420.4 1294.3L1423.0 1308.1L1427.4 1315.2L1433.1 1312.1L1438.2 1316.1L1485.8 1316.1L1485.8 1316.1L1231.6 1316.1Z" fill="#FFA15A" fill-opacity="0.5"/>
<path d="M1231.6 1316.1L1390.7 1316.1L1395.7 1311.8L1399.5 1298.3L1404.6 1271.7L1408.4 1249.5L1411.6 1232.8L1414.7 1249.5L1417.3 1265.0L1420.4 1294.3L1423.0 1308.1L1427.4 1315.2L1433.1 1312.1L1438.2 1316.1L1485.8 1316.1" fill="none" stroke="#FFA15A" stroke-width="7.0" stroke-linejoin="miter" stroke-miterlimit="2.2"/>
<path d="M1231.6 1293.9L1401.4 1293.9L1406.5 1289.4L1412.2 1286.5L1415.4 1265.0L1419.2 1233.7L1423.0 1227.3L1428.0 1231.7L1433.1 1258.4L1436.9 1283.7L1448.3 1293.9L1485.8 1293.9L1485.8 1293.9L1231.6 1293.9Z" fill="#FECB52" fill-opacity="0.5"/>
<path d="M1231.6 1293.9L1401.4 1293.9L1406.5 1289.4L1412.2 1286.5L1415.4 1265.0L1419.2 1233.7L1423.0 1227.3L1428.0 1231.7L1433.1 1258.4L1436.9 1283.7L1448.3 1293.9L1485.8 1293.9" fill="none" stroke="#FECB52" stroke-width="7.0" stroke-linejoin="miter" stroke-miterlimit="2.2"/>
<path d="M1231.6 1271.7L1410.3 1271.7L1416.0 1267.0L1421.1 1262.1L1424.9 1229.7L1432.5 1201.8L1439.4 1201.8L1443.2 1236.2L1445.8 1263.0L1454.6 1271.7L1485.8 1271.7L1485.8 1271.7L1231.6 1271.7Z" fill="#FFA15A" fill-opacity="0.5"/>
<path d="M1231.6 1271.7L1410.3 1271.7L1416.0 1267.0L1421.1 1262.1L1424.9 1229.7L1432.5 1201.8L1439.4 1201.8L1443.2 1236.2L1445.8 1263.0L1454.6 1271.7L1485.8 1271.7" fill="none" stroke="#FFA15A" stroke-width="7.0" stroke-linejoin="miter" stroke-miterlimit="2.2"/>
</g>
<g font-family="'Liberation Sans', Arial, sans-serif" fill="#111">
<text x="169.0" y="20.3" font-size="25.8" text-anchor="middle" textLength="169.5" lengthAdjust="spacingAndGlyphs">IPIP-NEO EXT</text>
<text x="466.5" y="20.3" font-size="25.8" text-anchor="middle" textLength="176" lengthAdjust="spacingAndGlyphs">IPIP-NEO AGR</text>
<text x="764.0" y="20.3" font-size="25.8" text-anchor="middle" textLength="181.8" lengthAdjust="spacingAndGlyphs">IPIP-NEO CON</text>
<text x="1061.5" y="20.3" font-size="25.8" text-anchor="middle" textLength="174.6" lengthAdjust="spacingAndGlyphs">IPIP-NEO NEU</text>
<text x="1359.0" y="20.3" font-size="25.8" text-anchor="middle" textLength="174" lengthAdjust="spacingAndGlyphs">IPIP-NEO OPE</text>
<text x="15.9" y="297.6" font-size="23.6" text-anchor="end" textLength="14.3" lengthAdjust="spacingAndGlyphs">1</text>
<text x="15.9" y="256.2" font-size="23.6" text-anchor="end" textLength="14.3" lengthAdjust="spacingAndGlyphs">3</text>
<text x="15.9" y="214.9" font-size="23.6" text-anchor="end" textLength="14.3" lengthAdjust="spacingAndGlyphs">5</text>
<text x="15.9" y="173.5" font-size="23.6" text-anchor="end" textLength="14.3" lengthAdjust="spacingAndGlyphs">7</text>
<text x="15.9" y="132.2" font-size="23.6" text-anchor="end" textLength="14.3" lengthAdjust="spacingAndGlyphs">9</text>
<text transform="translate(1513 167.2) rotate(90)" font-size="27.4" text-anchor="middle" textLength="182" lengthAdjust="spacingAndGlyphs">Prompted EXT</text>
<text x="15.9" y="587.7" font-size="23.6" text-anchor="end" textLength="14.3" lengthAdjust="spacingAndGlyphs">1</text>
<text x="15.9" y="551.3" font-size="23.6" text-anchor="end" textLength="14.3" lengthAdjust="spacingAndGlyphs">3</text>
<text x="15.9" y="514.9" font-size="23.6" text-anchor="end" textLength="14.3" lengthAdjust="spacingAndGlyphs">5</text>
<text x="15.9" y="478.4" font-size="23.6" text-anchor="end" textLength="14.3" lengthAdjust="spacingAndGlyphs">7</text>
<text x="15.9" y="442.0" font-size="23.6" text-anchor="end" textLength="14.3" lengthAdjust="spacingAndGlyphs">9</text>
<text transform="translate(1513 456.4) rotate(90)" font-size="27.4" text-anchor="middle" textLength="190.5" lengthAdjust="spacingAndGlyphs">Prompted AGR</text>
<text x="15.9" y="877.4" font-size="23.6" text-anchor="end" textLength="14.3" lengthAdjust="spacingAndGlyphs">1</text>
<text x="15.9" y="833.0" font-size="23.6" text-anchor="end" textLength="14.3" lengthAdjust="spacingAndGlyphs">3</text>
<text x="15.9" y="788.7" font-size="23.6" text-anchor="end" textLength="14.3" lengthAdjust="spacingAndGlyphs">5</text>
<text x="15.9" y="744.3" font-size="23.6" text-anchor="end" textLength="14.3" lengthAdjust="spacingAndGlyphs">7</text>
<text x="15.9" y="700.0" font-size="23.6" text-anchor="end" textLength="14.3" lengthAdjust="spacingAndGlyphs">9</text>
<text transform="translate(1512 745.4) rotate(90)" font-size="27.4" text-anchor="middle" textLength="193" lengthAdjust="spacingAndGlyphs">Prompted CON</text>
<text x="15.9" y="1167.8" font-size="23.6" text-anchor="end" textLength="14.3" lengthAdjust="spacingAndGlyphs">1</text>
<text x="15.9" y="1131.4" font-size="23.6" text-anchor="end" textLength="14.3" lengthAdjust="spacingAndGlyphs">3</text>
<text x="15.9" y="1095.0" font-size="23.6" text-anchor="end" textLength="14.3" lengthAdjust="spacingAndGlyphs">5</text>
<text x="15.9" y="1058.5" font-size="23.6" text-anchor="end" textLength="14.3" lengthAdjust="spacingAndGlyphs">7</text>
<text x="15.9" y="1022.1" font-size="23.6" text-anchor="end" textLength="14.3" lengthAdjust="spacingAndGlyphs">9</text>
<text transform="translate(1512 1035.5) rotate(90)" font-size="27.4" text-anchor="middle" textLength="186.8" lengthAdjust="spacingAndGlyphs">Prompted NEU</text>
<text x="15.9" y="1457.7" font-size="27.2" text-anchor="end" textLength="16.2" lengthAdjust="spacingAndGlyphs">1</text>
<text x="15.9" y="1413.3" font-size="27.2" text-anchor="end" textLength="16.2" lengthAdjust="spacingAndGlyphs">3</text>
<text x="15.9" y="1368.9" font-size="27.2" text-anchor="end" textLength="16.2" lengthAdjust="spacingAndGlyphs">5</text>
<text x="15.9" y="1324.6" font-size="27.2" text-anchor="end" textLength="16.2" lengthAdjust="spacingAndGlyphs">7</text>
<text x="15.9" y="1280.2" font-size="27.2" text-anchor="end" textLength="16.2" lengthAdjust="spacingAndGlyphs">9</text>
<text transform="translate(1511 1325.2) rotate(90)" font-size="27.4" text-anchor="middle" textLength="186.4" lengthAdjust="spacingAndGlyphs">Prompted OPE</text>
<text x="41.8" y="1492.2" font-size="27.2" text-anchor="middle" textLength="16.2" lengthAdjust="spacingAndGlyphs">1</text>
<text x="105.1" y="1492.2" font-size="27.2" text-anchor="middle" textLength="16.2" lengthAdjust="spacingAndGlyphs">2</text>
<text x="168.4" y="1492.2" font-size="27.2" text-anchor="middle" textLength="16.2" lengthAdjust="spacingAndGlyphs">3</text>
<text x="231.7" y="1492.2" font-size="27.2" text-anchor="middle" textLength="16.2" lengthAdjust="spacingAndGlyphs">4</text>
<text x="295.0" y="1492.2" font-size="27.2" text-anchor="middle" textLength="16.2" lengthAdjust="spacingAndGlyphs">5</text>
<text x="339.3" y="1492.2" font-size="22.9" text-anchor="middle" textLength="13.4" lengthAdjust="spacingAndGlyphs">1</text>
<text x="402.6" y="1492.2" font-size="22.9" text-anchor="middle" textLength="13.4" lengthAdjust="spacingAndGlyphs">2</text>
<text x="465.9" y="1492.2" font-size="22.9" text-anchor="middle" textLength="13.4" lengthAdjust="spacingAndGlyphs">3</text>
<text x="529.2" y="1492.2" font-size="22.9" text-anchor="middle" textLength="13.4" lengthAdjust="spacingAndGlyphs">4</text>
<text x="592.5" y="1492.2" font-size="22.9" text-anchor="middle" textLength="13.4" lengthAdjust="spacingAndGlyphs">5</text>
<text x="636.8" y="1492.2" font-size="22.9" text-anchor="middle" textLength="13.4" lengthAdjust="spacingAndGlyphs">1</text>
<text x="700.1" y="1492.2" font-size="22.9" text-anchor="middle" textLength="13.4" lengthAdjust="spacingAndGlyphs">2</text>
<text x="763.4" y="1492.2" font-size="22.9" text-anchor="middle" textLength="13.4" lengthAdjust="spacingAndGlyphs">3</text>
<text x="826.7" y="1492.2" font-size="22.9" text-anchor="middle" textLength="13.4" lengthAdjust="spacingAndGlyphs">4</text>
<text x="890.0" y="1492.2" font-size="22.9" text-anchor="middle" textLength="13.4" lengthAdjust="spacingAndGlyphs">5</text>
<text x="934.3" y="1492.2" font-size="22.9" text-anchor="middle" textLength="13.4" lengthAdjust="spacingAndGlyphs">1</text>
<text x="997.6" y="1492.2" font-size="22.9" text-anchor="middle" textLength="13.4" lengthAdjust="spacingAndGlyphs">2</text>
<text x="1060.9" y="1492.2" font-size="22.9" text-anchor="middle" textLength="13.4" lengthAdjust="spacingAndGlyphs">3</text>
<text x="1124.2" y="1492.2" font-size="22.9" text-anchor="middle" textLength="13.4" lengthAdjust="spacingAndGlyphs">4</text>
<text x="1187.5" y="1492.2" font-size="22.9" text-anchor="middle" textLength="13.4" lengthAdjust="spacingAndGlyphs">5</text>
<text x="1231.8" y="1492.2" font-size="22.9" text-anchor="middle" textLength="13.4" lengthAdjust="spacingAndGlyphs">1</text>
<text x="1295.1" y="1492.2" font-size="22.9" text-anchor="middle" textLength="13.4" lengthAdjust="spacingAndGlyphs">2</text>
<text x="1358.4" y="1492.2" font-size="22.9" text-anchor="middle" textLength="13.4" lengthAdjust="spacingAndGlyphs">3</text>
<text x="1421.7" y="1492.2" font-size="22.9" text-anchor="middle" textLength="13.4" lengthAdjust="spacingAndGlyphs">4</text>
<text x="1485.0" y="1492.2" font-size="22.9" text-anchor="middle" textLength="13.4" lengthAdjust="spacingAndGlyphs">5</text>
<text x="770.2" y="1532.5" font-size="26.8" text-anchor="middle" textLength="364.5" lengthAdjust="spacingAndGlyphs">Observed personality scores</text>
</g>
</svg>
</body></html>
